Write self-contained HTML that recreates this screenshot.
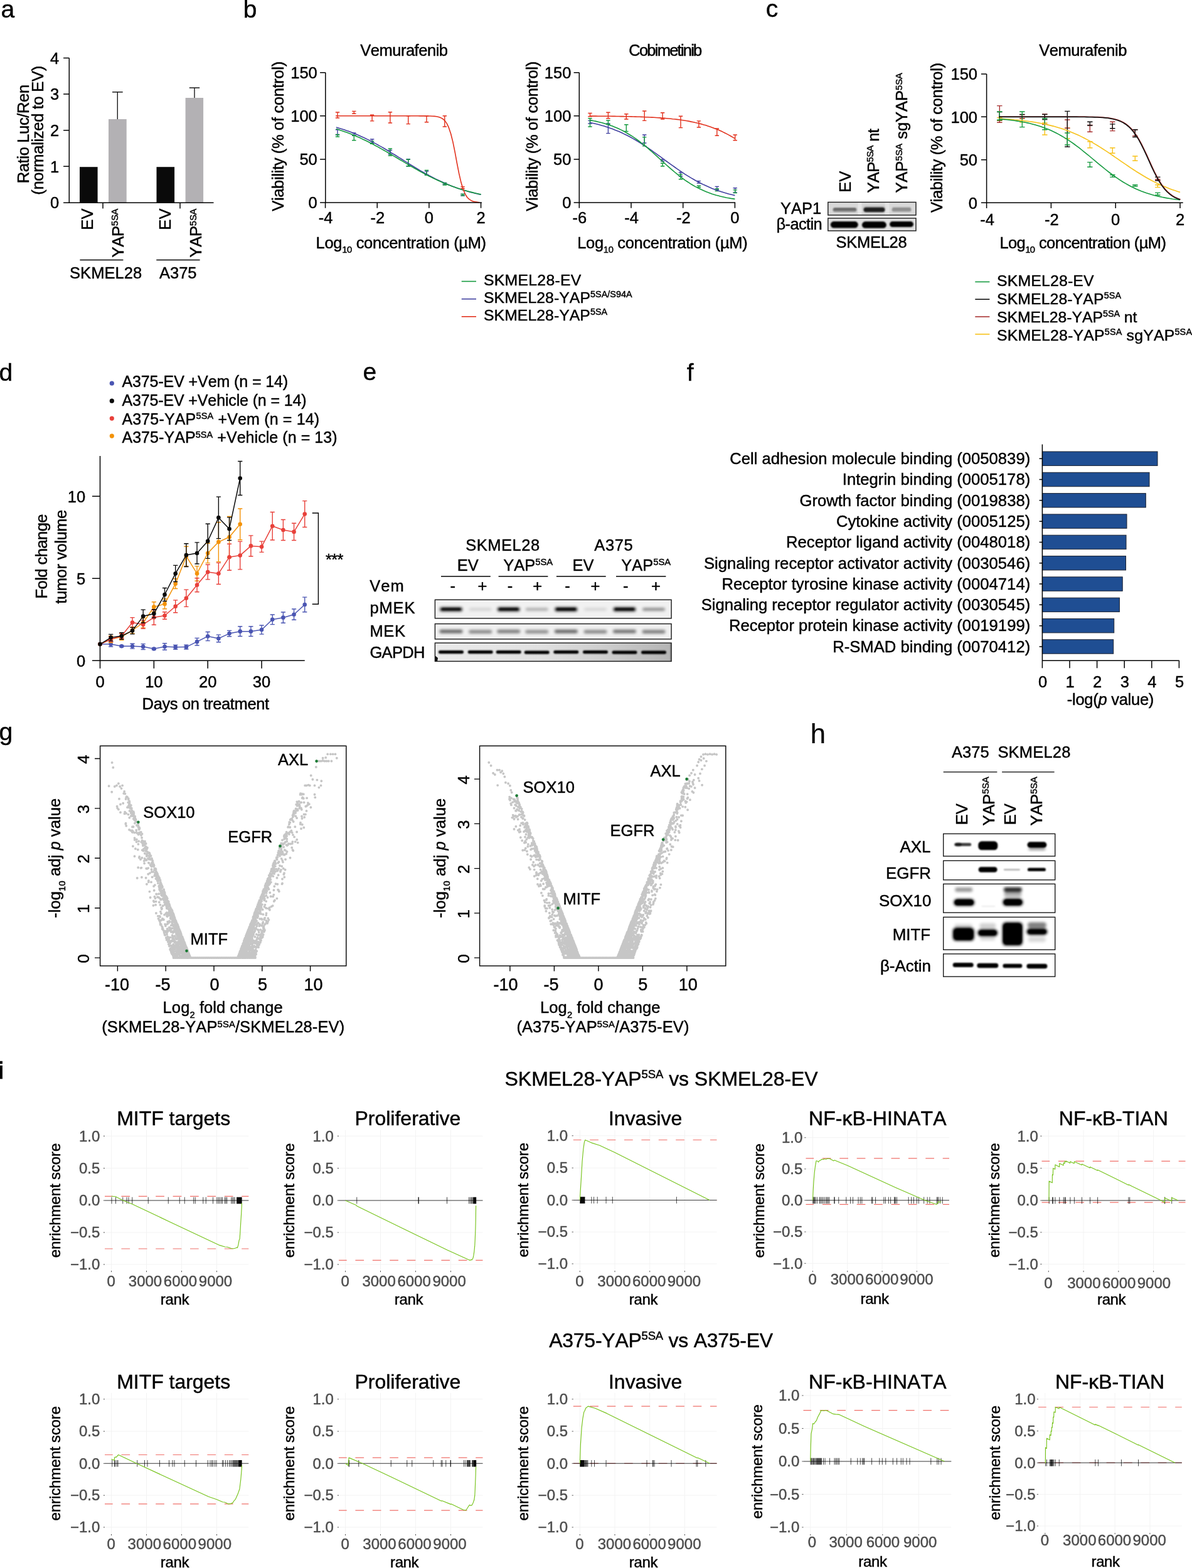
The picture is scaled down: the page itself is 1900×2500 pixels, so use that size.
<!DOCTYPE html>
<html lang="en">
<head>
<meta charset="utf-8">
<title>Figure</title>
<style>
html,body{margin:0;padding:0;background:#fff}
body{width:1900px;height:2500px;overflow:hidden}
svg{display:block;font-family:"Liberation Sans",Arial,Helvetica,sans-serif;font-size:25.5px;fill:#000;color:#000;font-kerning:none}
svg text{fill:currentColor;stroke:currentColor;stroke-width:.45px;stroke-linejoin:round}
svg path,svg line{fill:none}
</style>
</head>
<body>
<svg width="1900" height="2500" viewBox="0 0 1900 2500">
<defs>
<filter id="bl1" x="-20%" y="-60%" width="140%" height="220%"><feGaussianBlur stdDeviation="1.1"/></filter>
<filter id="bl2" x="-20%" y="-80%" width="140%" height="260%"><feGaussianBlur stdDeviation="1.9"/></filter>
<linearGradient id="gapdh" x1="0" x2="1" y1="0" y2="0"><stop offset="0" stop-color="#ebebeb"/><stop offset="0.45" stop-color="#e0e0e0"/><stop offset="0.7" stop-color="#cfcfcf"/><stop offset="1" stop-color="#b4b4b4"/></linearGradient>
</defs>
<text x="1.4" y="27.6" font-size="39" style="stroke-width:.4px">a</text>
<text x="94.3" y="101.6" text-anchor="end">4</text>
<text x="94.3" y="159.25" text-anchor="end">3</text>
<text x="94.3" y="216.9" text-anchor="end">2</text>
<text x="94.3" y="274.55" text-anchor="end">1</text>
<text x="94.3" y="332.2" text-anchor="end">0</text>
<rect x="127" y="266.2" width="28.6" height="57" fill="#0a0a0a"/>
<rect x="249.5" y="266.2" width="28.6" height="57" fill="#0a0a0a"/>
<rect x="173" y="190" width="28.7" height="133" fill="#b3b1b4"/>
<rect x="295.6" y="156" width="28.5" height="167" fill="#b3b1b4"/>
<path d="M187.3 190V146.7M179 146.7H195.7M310 156V140M301.8 140H318.2" stroke="#1a1a1a" stroke-width="1.4" fill="none"/>
<path d="M110.3 92.4V323.3M101.1 323.3H340.5M101.1 92.4h9.2M101.1 150.05h9.2M101.1 207.7h9.2M101.1 265.35h9.2M101.1 323.3h9.2M164 323.3v9.2M287 323.3v9.2" stroke="#000" stroke-width="1.5" fill="none"/>
<text transform="translate(148 332.6) rotate(-90)" text-anchor="end">EV</text>
<text transform="translate(197.2 332.6) rotate(-90)" text-anchor="end" textLength="78" lengthAdjust="spacing">YAP<tspan dy="-8.8" font-size="14.79">5SA</tspan></text>
<text transform="translate(271.6 332.6) rotate(-90)" text-anchor="end">EV</text>
<text transform="translate(321.4 332.6) rotate(-90)" text-anchor="end" textLength="78" lengthAdjust="spacing">YAP<tspan dy="-8.8" font-size="14.79">5SA</tspan></text>
<path d="M127.4 414.5H196.4M249.3 414.5H318.6" stroke="#000" stroke-width="1.3" fill="none"/>
<text x="111" y="444.3" textLength="115.2" lengthAdjust="spacing">SKMEL28</text>
<text x="254" y="444.3">A375</text>
<text transform="translate(46.2 213.6) rotate(-90)" text-anchor="middle" textLength="157.5" lengthAdjust="spacing">Ratio Luc/Ren</text>
<text transform="translate(69 207.8) rotate(-90)" text-anchor="middle" textLength="206" lengthAdjust="spacing">(normalized to EV)</text>
<text x="387.8" y="27.6" font-size="39" style="stroke-width:.4px">b</text>
<text x="574.2" y="88.8" textLength="139.8" lengthAdjust="spacing">Vemurafenib</text>
<text transform="translate(452.4 217.3) rotate(-90)" text-anchor="middle" textLength="239" lengthAdjust="spacing">Viability (% of control)</text>
<text x="505.8" y="124.9" text-anchor="end">150</text>
<text x="505.8" y="194.03" text-anchor="end">100</text>
<text x="505.8" y="263.17" text-anchor="end">50</text>
<text x="505.8" y="332.3" text-anchor="end">0</text>
<text x="519.18" y="355.7" text-anchor="middle">-4</text>
<text x="601.84" y="355.7" text-anchor="middle">-2</text>
<text x="683.9" y="355.7" text-anchor="middle">0</text>
<text x="766.56" y="355.7" text-anchor="middle">2</text>
<text x="503.6" y="395.7" textLength="271.5" lengthAdjust="spacing">Log<tspan dy="7.65" font-size="14.79">10</tspan><tspan dy="-7.65"> concentration (µM)</tspan></text>
<path d="M538 206.7V215M534.8 206.7h6.4M534.8 215h6.4M564.3 212V216.2M561.1 212h6.4M561.1 216.2h6.4M593.1 222V228M589.9 222h6.4M589.9 228h6.4M621.9 239.5V246M618.7 239.5h6.4M618.7 246h6.4M650.7 253.8V265M647.5 253.8h6.4M647.5 265h6.4M680 273V279M676.8 273h6.4M676.8 279h6.4M708.8 291.5V294M705.6 291.5h6.4M705.6 294h6.4M737.6 309.5V312M734.4 309.5h6.4M734.4 312h6.4" stroke="#3f3f9f" stroke-width="1.4" fill="none"/>
<path d="M538 214.5V218M534.8 214.5h6.4M534.8 218h6.4M564.3 215.7V223.8M561.1 215.7h6.4M561.1 223.8h6.4M593.1 225.2V229.3M589.9 225.2h6.4M589.9 229.3h6.4M621.9 237V248.3M618.7 237h6.4M618.7 248.3h6.4M650.7 254.3V265M647.5 254.3h6.4M647.5 265h6.4M680 271.4V279M676.8 271.4h6.4M676.8 279h6.4M708.8 291.7V295M705.6 291.7h6.4M705.6 295h6.4M737.6 309.5V311.9M734.4 309.5h6.4M734.4 311.9h6.4" stroke="#149a3e" stroke-width="1.4" fill="none"/>
<path d="M538 179V188M534.8 179h6.4M534.8 188h6.4M564.3 177.4V181.2M561.1 177.4h6.4M561.1 181.2h6.4M593.1 183.3V192.9M589.9 183.3h6.4M589.9 192.9h6.4M621.9 178.8V196M618.7 178.8h6.4M618.7 196h6.4M650.7 184.8V197.6M647.5 184.8h6.4M647.5 197.6h6.4M680 184.8V194.8M676.8 184.8h6.4M676.8 194.8h6.4M708.8 184.8V202M705.6 184.8h6.4M705.6 202h6.4M737.6 297.6V300.5M734.4 297.6h6.4M734.4 300.5h6.4" stroke="#e2311d" stroke-width="1.4" fill="none"/>
<path d="M535.9 202.9L539.2 203.9L542.5 204.9L545.8 205.9L549.1 207L552.4 208.2L555.7 209.3L559 210.6L562.3 211.8L565.6 213.2L568.9 214.5L572.2 215.9L575.5 217.4L578.8 218.9L582.1 220.5L585.4 222.1L588.7 223.7L591.9 225.4L595.2 227.1L598.5 228.9L601.8 230.7L605.1 232.6L608.4 234.4L611.7 236.3L615 238.3L618.3 240.3L621.6 242.2L624.9 244.3L628.2 246.3L631.5 248.3L634.8 250.4L638.1 252.4L641.4 254.5L644.7 256.6L648 258.6L651.2 260.7L654.5 262.7L657.8 264.7L661.1 266.7L664.4 268.7L667.7 270.7L671 272.6L674.3 274.5L677.6 276.4L680.9 278.2L684.2 280L687.5 281.7L690.8 283.4L694.1 285.1L697.4 286.7L700.7 288.3L704 289.8L707.3 291.3L710.6 292.7L713.8 294.1L717.1 295.5L720.4 296.8L723.7 298L727 299.2L730.3 300.4L733.6 301.5L736.9 302.6L740.2 303.6L743.5 304.6L746.8 305.5L750.1 306.4L753.4 307.2L756.7 308.1L760 308.8L763.3 309.6L766.6 310.3" stroke="#3f3f9f" stroke-width="1.6" fill="none" stroke-linejoin="round"/>
<path d="M535.9 205.6L539.2 206.6L542.5 207.7L545.8 208.8L549.1 209.9L552.4 211.1L555.7 212.3L559 213.6L562.3 214.9L565.6 216.3L568.9 217.7L572.2 219.1L575.5 220.6L578.8 222.2L582.1 223.7L585.4 225.3L588.7 227L591.9 228.7L595.2 230.4L598.5 232.2L601.8 233.9L605.1 235.8L608.4 237.6L611.7 239.5L615 241.4L618.3 243.3L621.6 245.2L624.9 247.1L628.2 249.1L631.5 251L634.8 253L638.1 255L641.4 256.9L644.7 258.9L648 260.9L651.2 262.8L654.5 264.7L657.8 266.6L661.1 268.5L664.4 270.4L667.7 272.2L671 274.1L674.3 275.8L677.6 277.6L680.9 279.3L684.2 281L687.5 282.6L690.8 284.3L694.1 285.8L697.4 287.4L700.7 288.8L704 290.3L707.3 291.7L710.6 293L713.8 294.4L717.1 295.6L720.4 296.9L723.7 298.1L727 299.2L730.3 300.3L733.6 301.4L736.9 302.4L740.2 303.4L743.5 304.3L746.8 305.2L750.1 306.1L753.4 306.9L756.7 307.7L760 308.5L763.3 309.2L766.6 309.9" stroke="#149a3e" stroke-width="1.6" fill="none" stroke-linejoin="round"/>
<path d="M535.1 184.8L538.4 184.8L541.7 184.8L544.9 184.8L548.2 184.8L551.5 184.8L554.8 184.8L558.1 184.8L561.3 184.8L564.6 184.8L567.9 184.8L571.2 184.8L574.4 184.8L577.7 184.8L581 184.8L584.3 184.8L587.5 184.8L590.8 184.8L594.1 184.8L597.4 184.8L600.6 184.8L603.9 184.8L607.2 184.8L610.5 184.8L613.8 184.8L617 184.8L620.3 184.8L623.6 184.8L626.9 184.8L630.1 184.8L633.4 184.8L636.7 184.8L640 184.8L643.2 184.8L646.5 184.8L649.8 184.8L653.1 184.8L656.4 184.8L659.6 184.8L662.9 184.8L666.2 184.8L669.5 184.9L672.7 184.9L676 184.9L679.3 184.9L682.6 185L685.8 185L689.1 185.2L692.4 185.4L695.7 185.8L699 186.5L702.2 187.6L705.5 189.3L708.8 192.1L712.1 196.6L715.3 203.4L718.6 213.2L721.9 226.4L725.2 242.6L728.4 260.2L731.7 276.9L735 291.1L738.3 302L741.6 309.6L744.8 314.7L748.1 317.9L751.4 319.9L754.7 321.2L757.9 321.9L761.2 322.4L764.5 322.7" stroke="#e2311d" stroke-width="1.6" fill="none" stroke-linejoin="round"/>
<path d="M518.8 115.7V323.1M510.1 323.1H767.9M510.1 115.7h8.7M510.1 184.83h8.7M510.1 253.97h8.7M510.1 323.1h8.7M518.58 323.1v8.7M601.24 323.1v8.7M683.9 323.1v8.7M766.56 323.1v8.7" stroke="#000" stroke-width="1.5" fill="none"/>
<text x="1002.3" y="88.8" textLength="117" lengthAdjust="spacing">Cobimetinib</text>
<text transform="translate(856.7 217.3) rotate(-90)" text-anchor="middle" textLength="239" lengthAdjust="spacing">Viability (% of control)</text>
<text x="910.4" y="124.9" text-anchor="end">150</text>
<text x="910.4" y="194.03" text-anchor="end">100</text>
<text x="910.4" y="263.17" text-anchor="end">50</text>
<text x="910.4" y="332.3" text-anchor="end">0</text>
<text x="923.9" y="355.7" text-anchor="middle">-6</text>
<text x="1006.6" y="355.7" text-anchor="middle">-4</text>
<text x="1089.3" y="355.7" text-anchor="middle">-2</text>
<text x="1171.4" y="355.7" text-anchor="middle">0</text>
<text x="920.2" y="395.7" textLength="271.5" lengthAdjust="spacing">Log<tspan dy="7.65" font-size="14.79">10</tspan><tspan dy="-7.65"> concentration (µM)</tspan></text>
<path d="M940.5 192.4V197M937.3 192.4h6.4M937.3 197h6.4M969.4 197V212.6M966.2 197h6.4M966.2 212.6h6.4M1027.2 215V228M1024 215h6.4M1024 228h6.4M1056.1 254.3V257M1052.9 254.3h6.4M1052.9 257h6.4M1085 274.8V281M1081.8 274.8h6.4M1081.8 281h6.4M1113.9 288.6V292M1110.7 288.6h6.4M1110.7 292h6.4M1142.8 297.4V302.4M1139.6 297.4h6.4M1139.6 302.4h6.4M1171.7 299.8V307M1168.5 299.8h6.4M1168.5 307h6.4" stroke="#3f3f9f" stroke-width="1.4" fill="none"/>
<path d="M940.5 188.8V202M937.3 188.8h6.4M937.3 202h6.4M969.4 192V198.3M966.2 192h6.4M966.2 198.3h6.4M998.3 198.8V209.5M995.1 198.8h6.4M995.1 209.5h6.4M1027.2 218.6V232.9M1024 218.6h6.4M1024 232.9h6.4M1056.1 260.2V265M1052.9 260.2h6.4M1052.9 265h6.4M1085 277.9V285.7M1081.8 277.9h6.4M1081.8 285.7h6.4M1113.9 296.2V298.8M1110.7 296.2h6.4M1110.7 298.8h6.4M1142.8 301V304.5M1139.6 301h6.4M1139.6 304.5h6.4M1171.7 302.9V307.6M1168.5 302.9h6.4M1168.5 307.6h6.4" stroke="#149a3e" stroke-width="1.4" fill="none"/>
<path d="M940.5 180.5V185.7M937.3 180.5h6.4M937.3 185.7h6.4M969.4 179.3V188.8M966.2 179.3h6.4M966.2 188.8h6.4M998.3 181.7V190M995.1 181.7h6.4M995.1 190h6.4M1027.2 177V192.4M1024 177h6.4M1024 192.4h6.4M1056.1 179.8V190M1052.9 179.8h6.4M1052.9 190h6.4M1085 185.2V203.6M1081.8 185.2h6.4M1081.8 203.6h6.4M1113.9 192.9V203M1110.7 192.9h6.4M1110.7 203h6.4M1142.8 205V216.2M1139.6 205h6.4M1139.6 216.2h6.4M1171.7 215V223.8M1168.5 215h6.4M1168.5 223.8h6.4" stroke="#e2311d" stroke-width="1.4" fill="none"/>
<path d="M939.8 195.3L943.1 196L946.5 196.7L949.8 197.5L953.1 198.3L956.4 199.2L959.7 200.2L963 201.1L966.3 202.2L969.6 203.3L972.9 204.4L976.2 205.6L979.5 206.9L982.8 208.2L986.2 209.6L989.5 211.1L992.8 212.6L996.1 214.2L999.4 215.8L1002.7 217.5L1006 219.3L1009.3 221.1L1012.6 223L1015.9 225L1019.2 227L1022.5 229.1L1025.8 231.3L1029.2 233.4L1032.5 235.7L1035.8 237.9L1039.1 240.2L1042.4 242.6L1045.7 244.9L1049 247.3L1052.3 249.7L1055.6 252.2L1058.9 254.6L1062.2 257L1065.5 259.4L1068.9 261.8L1072.2 264.2L1075.5 266.5L1078.8 268.9L1082.1 271.1L1085.4 273.4L1088.7 275.6L1092 277.8L1095.3 279.9L1098.6 281.9L1101.9 283.9L1105.2 285.8L1108.5 287.7L1111.9 289.5L1115.2 291.3L1118.5 293L1121.8 294.6L1125.1 296.1L1128.4 297.6L1131.7 299L1135 300.4L1138.3 301.7L1141.6 302.9L1144.9 304.1L1148.2 305.2L1151.6 306.3L1154.9 307.3L1158.2 308.2L1161.5 309.2L1164.8 310L1168.1 310.8L1171.4 311.6" stroke="#3f3f9f" stroke-width="1.6" fill="none" stroke-linejoin="round"/>
<path d="M939.8 191.5L943.1 192.1L946.5 192.8L949.8 193.4L953.1 194.2L956.4 195L959.7 195.8L963 196.7L966.3 197.7L969.6 198.8L972.9 199.9L976.2 201.1L979.5 202.4L982.8 203.8L986.2 205.3L989.5 206.9L992.8 208.5L996.1 210.3L999.4 212.2L1002.7 214.2L1006 216.2L1009.3 218.4L1012.6 220.7L1015.9 223L1019.2 225.5L1022.5 228.1L1025.8 230.7L1029.2 233.4L1032.5 236.2L1035.8 239.1L1039.1 242L1042.4 244.9L1045.7 247.9L1049 250.9L1052.3 254L1055.6 257L1058.9 260L1062.2 263L1065.5 265.9L1068.9 268.9L1072.2 271.7L1075.5 274.5L1078.8 277.2L1082.1 279.9L1085.4 282.4L1088.7 284.9L1092 287.3L1095.3 289.5L1098.6 291.7L1101.9 293.8L1105.2 295.7L1108.5 297.6L1111.9 299.4L1115.2 301.1L1118.5 302.6L1121.8 304.1L1125.1 305.5L1128.4 306.8L1131.7 308L1135 309.2L1138.3 310.2L1141.6 311.2L1144.9 312.1L1148.2 313L1151.6 313.8L1154.9 314.5L1158.2 315.2L1161.5 315.8L1164.8 316.4L1168.1 316.9L1171.4 317.4" stroke="#149a3e" stroke-width="1.6" fill="none" stroke-linejoin="round"/>
<path d="M939.8 185.1L943.1 185.1L946.5 185.1L949.8 185.1L953.1 185.2L956.4 185.2L959.7 185.2L963 185.2L966.3 185.3L969.6 185.3L972.9 185.3L976.2 185.4L979.5 185.4L982.8 185.5L986.2 185.5L989.5 185.6L992.8 185.6L996.1 185.7L999.4 185.8L1002.7 185.8L1006 185.9L1009.3 186L1012.6 186.1L1015.9 186.2L1019.2 186.3L1022.5 186.4L1025.8 186.5L1029.2 186.7L1032.5 186.8L1035.8 187L1039.1 187.1L1042.4 187.3L1045.7 187.5L1049 187.7L1052.3 187.9L1055.6 188.2L1058.9 188.4L1062.2 188.7L1065.5 189L1068.9 189.3L1072.2 189.7L1075.5 190L1078.8 190.4L1082.1 190.8L1085.4 191.3L1088.7 191.8L1092 192.3L1095.3 192.8L1098.6 193.4L1101.9 194.1L1105.2 194.7L1108.5 195.5L1111.9 196.2L1115.2 197.1L1118.5 197.9L1121.8 198.9L1125.1 199.8L1128.4 200.9L1131.7 202L1135 203.2L1138.3 204.4L1141.6 205.7L1144.9 207.1L1148.2 208.6L1151.6 210.1L1154.9 211.7L1158.2 213.4L1161.5 215.1L1164.8 217L1168.1 218.9L1171.4 220.8" stroke="#e2311d" stroke-width="1.6" fill="none" stroke-linejoin="round"/>
<path d="M923.3 115.7V323.1M914.6 323.1H1172.2M914.6 115.7h8.7M914.6 184.83h8.7M914.6 253.97h8.7M914.6 323.1h8.7M923.3 323.1v8.7M1006 323.1v8.7M1088.7 323.1v8.7M1171.4 323.1v8.7" stroke="#000" stroke-width="1.5" fill="none"/>
<line x1="735.7" y1="448.6" x2="759" y2="448.6" stroke="#149a3e" stroke-width="1.6"/>
<text x="771" y="454.9" font-size="24.8" textLength="155.3" lengthAdjust="spacing">SKMEL28-EV</text>
<line x1="735.7" y1="476.7" x2="759" y2="476.7" stroke="#3f3f9f" stroke-width="1.6"/>
<text x="771" y="482.95" font-size="24.8" textLength="236.6" lengthAdjust="spacing">SKMEL28-YAP<tspan dy="-8.56" font-size="14.38">5SA/S94A</tspan></text>
<line x1="735.7" y1="504.8" x2="759" y2="504.8" stroke="#e2311d" stroke-width="1.6"/>
<text x="771" y="511" font-size="24.8" textLength="197.2" lengthAdjust="spacing">SKMEL28-YAP<tspan dy="-8.56" font-size="14.38">5SA</tspan></text>
<text x="1220.7" y="27.3" font-size="39" style="stroke-width:.4px">c</text>
<text transform="translate(1356 306.8) rotate(-90)">EV</text>
<text transform="translate(1401.2 307.6) rotate(-90)" textLength="102.5" lengthAdjust="spacing">YAP<tspan dy="-8.8" font-size="14.79">5SA</tspan><tspan dy="8.8"> nt</tspan></text>
<text transform="translate(1446.4 307.6) rotate(-90)" textLength="191.5" lengthAdjust="spacing">YAP<tspan dy="-8.8" font-size="14.79">5SA</tspan><tspan dy="8.8"> sgYAP</tspan><tspan dy="-8.8" font-size="14.79">5SA</tspan></text>
<text x="1309.3" y="341.3" text-anchor="end">YAP1</text>
<text x="1310.6" y="365.8" text-anchor="end" textLength="73" lengthAdjust="spacing">β-actin</text>
<text x="1332.6" y="395" textLength="113" lengthAdjust="spacing">SKMEL28</text>
<clipPath id="cp1"><rect x="1319.8" y="322.4" width="140.2" height="20.6"/></clipPath>
<rect x="1319.8" y="322.4" width="140.2" height="20.6" fill="#d9d9d9"/>
<g clip-path="url(#cp1)">
<rect x="1367.5" y="322" width="6" height="22" fill="#e6e6e6"/><rect x="1410.5" y="322" width="7" height="22" fill="#e4e4e4"/>
<g filter="url(#bl1)"><rect x="1327.5" y="331.25" width="38" height="6.5" rx="3.25" ry="3.25" opacity="0.42"/><rect x="1328.5" y="331.5" width="36" height="3" rx="1.5" ry="1.5" opacity="0.25"/><rect x="1376.5" y="330.75" width="34" height="7.5" rx="3.75" ry="3.75" opacity="0.85"/><rect x="1421.5" y="331.5" width="31" height="6" rx="3" ry="3" opacity="0.33"/><rect x="1422" y="330" width="30" height="3" rx="1.5" ry="1.5" opacity="0.15"/></g>
<g filter="url(#bl2)"><rect x="1376.5" y="330" width="34" height="4" rx="2" ry="2" opacity="0.3"/></g>
</g>
<rect x="1319.8" y="322.4" width="140.2" height="20.6" fill="none" stroke="#1a1a1a" stroke-width="1.4"/>
<clipPath id="cp2"><rect x="1319.8" y="347.9" width="140.2" height="20.1"/></clipPath>
<rect x="1319.8" y="347.9" width="140.2" height="20.1" fill="#e2e2e2"/>
<g clip-path="url(#cp2)">
<g filter="url(#bl1)"><rect x="1323.8" y="352.95" width="44" height="10.5" rx="5.25" ry="5.25" opacity="1"/><rect x="1325.8" y="353" width="40" height="8" rx="4" ry="4" opacity="1"/><rect x="1373.9" y="353.35" width="39" height="10.5" rx="5.25" ry="5.25" opacity="1"/><rect x="1375.4" y="353.5" width="36" height="8" rx="4" ry="4" opacity="1"/><rect x="1418" y="353.1" width="38" height="9" rx="4.5" ry="4.5" opacity="1"/><rect x="1420" y="353.5" width="34" height="7" rx="3.5" ry="3.5" opacity="1"/></g>
</g>
<rect x="1319.8" y="347.9" width="140.2" height="20.1" fill="none" stroke="#1a1a1a" stroke-width="1.4"/>
<text x="1656.2" y="88.8" textLength="140.2" lengthAdjust="spacing">Vemurafenib</text>
<text transform="translate(1502.3 219.5) rotate(-90)" text-anchor="middle" textLength="239" lengthAdjust="spacing">Viability (% of control)</text>
<text x="1558" y="127.1" text-anchor="end">150</text>
<text x="1558" y="195.57" text-anchor="end">100</text>
<text x="1558" y="264.03" text-anchor="end">50</text>
<text x="1558" y="332.5" text-anchor="end">0</text>
<text x="1573.5" y="359.2" text-anchor="middle">-4</text>
<text x="1676.3" y="359.2" text-anchor="middle">-2</text>
<text x="1778.2" y="359.2" text-anchor="middle">0</text>
<text x="1881" y="359.2" text-anchor="middle">2</text>
<text x="1593.4" y="395.5" textLength="265.5" lengthAdjust="spacing">Log<tspan dy="7.65" font-size="14.79">10</tspan><tspan dy="-7.65"> concentration (µM)</tspan></text>
<path d="M1593.3 187.6V192.4M1589.1 187.6h8.4M1589.1 192.4h8.4M1629.3 188.8V194.8M1625.1 188.8h8.4M1625.1 194.8h8.4M1665.3 196V215M1661.1 196h8.4M1661.1 215h8.4M1701.3 204.3V221M1697.1 204.3h8.4M1697.1 221h8.4M1737.3 225.7V235.7M1733.1 225.7h8.4M1733.1 235.7h8.4M1773.3 235.7V244.3M1769.1 235.7h8.4M1769.1 244.3h8.4M1809.3 249V256.2M1805.1 249h8.4M1805.1 256.2h8.4M1845.3 294.8V298.6M1841.1 294.8h8.4M1841.1 298.6h8.4" stroke="#f7c21a" stroke-width="1.4" fill="none"/>
<path d="M1593.3 168.6V195.2M1589.1 168.6h8.4M1589.1 195.2h8.4M1629.3 182.9V188.8M1625.1 182.9h8.4M1625.1 188.8h8.4M1665.3 182V198.3M1661.1 182h8.4M1661.1 198.3h8.4M1701.3 191V204.3M1697.1 191h8.4M1697.1 204.3h8.4M1737.3 199.5V210.2M1733.1 199.5h8.4M1733.1 210.2h8.4M1773.3 194.3V208.6M1769.1 194.3h8.4M1769.1 208.6h8.4M1809.3 206.7V216.7M1805.1 206.7h8.4M1805.1 216.7h8.4M1845.3 286V287.9M1841.1 286h8.4M1841.1 287.9h8.4" stroke="#a83232" stroke-width="1.4" fill="none"/>
<path d="M1593.3 178.6V191.7M1589.1 178.6h8.4M1589.1 191.7h8.4M1629.3 182.4V186.4M1625.1 182.4h8.4M1625.1 186.4h8.4M1665.3 182.4V190.5M1661.1 182.4h8.4M1661.1 190.5h8.4M1701.3 177.4V234M1697.1 177.4h8.4M1697.1 234h8.4M1737.3 194.3V200M1733.1 194.3h8.4M1733.1 200h8.4M1773.3 197.9V204.8M1769.1 197.9h8.4M1769.1 204.8h8.4M1809.3 206.7V218.6M1805.1 206.7h8.4M1805.1 218.6h8.4M1845.3 282.4V287.9M1841.1 282.4h8.4M1841.1 287.9h8.4" stroke="#111" stroke-width="1.4" fill="none"/>
<path d="M1593.3 178V191.2M1589.1 178h8.4M1589.1 191.2h8.4M1629.3 178V202.6M1625.1 178h8.4M1625.1 202.6h8.4M1665.3 188.8V206.7M1661.1 188.8h8.4M1661.1 206.7h8.4M1701.3 212V231M1697.1 212h8.4M1697.1 231h8.4M1737.3 258.6V266.2M1733.1 258.6h8.4M1733.1 266.2h8.4M1773.3 278.8V282.4M1769.1 278.8h8.4M1769.1 282.4h8.4M1809.3 294.8V297M1805.1 294.8h8.4M1805.1 297h8.4M1845.3 307.4V311M1841.1 307.4h8.4M1841.1 311h8.4" stroke="#149a3e" stroke-width="1.4" fill="none"/>
<path d="M1592.1 189.2L1596.3 189.4L1600.4 189.7L1604.5 190L1608.6 190.3L1612.8 190.6L1616.9 191L1621 191.3L1625.1 191.8L1629.3 192.2L1633.4 192.7L1637.5 193.2L1641.7 193.8L1645.8 194.4L1649.9 195L1654 195.7L1658.2 196.5L1662.3 197.3L1666.4 198.2L1670.5 199.1L1674.7 200.1L1678.8 201.1L1682.9 202.3L1687 203.5L1691.2 204.8L1695.3 206.1L1699.4 207.6L1703.6 209.1L1707.7 210.7L1711.8 212.4L1715.9 214.2L1720.1 216.1L1724.2 218.1L1728.3 220.2L1732.4 222.4L1736.6 224.6L1740.7 226.9L1744.8 229.4L1748.9 231.8L1753.1 234.4L1757.2 237L1761.3 239.7L1765.5 242.4L1769.6 245.2L1773.7 248L1777.8 250.9L1782 253.7L1786.1 256.6L1790.2 259.4L1794.3 262.2L1798.5 265L1802.6 267.8L1806.7 270.5L1810.8 273.2L1815 275.8L1819.1 278.3L1823.2 280.8L1827.4 283.2L1831.5 285.5L1835.6 287.8L1839.7 289.9L1843.9 292L1848 293.9L1852.1 295.8L1856.2 297.6L1860.4 299.3L1864.5 300.9L1868.6 302.4L1872.7 303.8L1876.9 305.2L1881 306.4" stroke="#f7c21a" stroke-width="1.6" fill="none" stroke-linejoin="round"/>
<path d="M1592.1 189.7L1596.3 190L1600.4 190.4L1604.5 190.8L1608.6 191.2L1612.8 191.7L1616.9 192.3L1621 192.9L1625.1 193.5L1629.3 194.3L1633.4 195L1637.5 195.9L1641.7 196.8L1645.8 197.9L1649.9 199L1654 200.2L1658.2 201.5L1662.3 202.9L1666.4 204.4L1670.5 206L1674.7 207.8L1678.8 209.7L1682.9 211.7L1687 213.9L1691.2 216.2L1695.3 218.6L1699.4 221.1L1703.6 223.8L1707.7 226.6L1711.8 229.5L1715.9 232.6L1720.1 235.7L1724.2 239L1728.3 242.3L1732.4 245.6L1736.6 249L1740.7 252.5L1744.8 255.9L1748.9 259.4L1753.1 262.8L1757.2 266.2L1761.3 269.5L1765.5 272.8L1769.6 276L1773.7 279L1777.8 282L1782 284.9L1786.1 287.6L1790.2 290.2L1794.3 292.6L1798.5 295L1802.6 297.2L1806.7 299.2L1810.8 301.2L1815 303L1819.1 304.7L1823.2 306.2L1827.4 307.7L1831.5 309L1835.6 310.3L1839.7 311.4L1843.9 312.5L1848 313.4L1852.1 314.3L1856.2 315.1L1860.4 315.9L1864.5 316.5L1868.6 317.2L1872.7 317.7L1876.9 318.2L1881 318.7" stroke="#149a3e" stroke-width="1.6" fill="none" stroke-linejoin="round"/>
<path d="M1592.7 186L1596.9 186L1601 186L1605.1 186L1609.2 186L1613.4 186L1617.5 186L1621.6 186L1625.7 186L1629.9 186L1634 186L1638.1 186L1642.3 186L1646.4 186L1650.5 186L1654.6 186L1658.8 186L1662.9 186L1667 186L1671.1 186L1675.3 186L1679.4 186L1683.5 186L1687.6 186L1691.8 186L1695.9 186L1700 186L1704.2 186L1708.3 186L1712.4 186L1716.5 186L1720.7 186.1L1724.8 186.1L1728.9 186.1L1733 186.2L1737.2 186.3L1741.3 186.4L1745.4 186.5L1749.5 186.6L1753.7 186.8L1757.8 187.1L1761.9 187.5L1766.1 187.9L1770.2 188.5L1774.3 189.3L1778.4 190.3L1782.6 191.5L1786.7 193.2L1790.8 195.2L1794.9 197.8L1799.1 201.1L1803.2 205L1807.3 209.9L1811.4 215.6L1815.6 222.3L1819.7 229.9L1823.8 238.3L1828 247.2L1832.1 256.3L1836.2 265.4L1840.3 274.1L1844.5 282.2L1848.6 289.4L1852.7 295.7L1856.8 301.1L1861 305.6L1865.1 309.2L1869.2 312.2L1873.3 314.6L1877.5 316.4L1881.6 317.9" stroke="#a83232" stroke-width="1.6" fill="none" stroke-linejoin="round"/>
<path d="M1592.1 186.4L1596.3 186.4L1600.4 186.4L1604.5 186.4L1608.6 186.4L1612.8 186.4L1616.9 186.4L1621 186.4L1625.1 186.4L1629.3 186.4L1633.4 186.4L1637.5 186.4L1641.7 186.4L1645.8 186.4L1649.9 186.4L1654 186.4L1658.2 186.4L1662.3 186.4L1666.4 186.4L1670.5 186.4L1674.7 186.4L1678.8 186.4L1682.9 186.4L1687 186.4L1691.2 186.4L1695.3 186.4L1699.4 186.4L1703.6 186.4L1707.7 186.4L1711.8 186.4L1715.9 186.4L1720.1 186.5L1724.2 186.5L1728.3 186.5L1732.4 186.6L1736.6 186.7L1740.7 186.8L1744.8 186.9L1748.9 187L1753.1 187.2L1757.2 187.5L1761.3 187.9L1765.5 188.3L1769.6 188.9L1773.7 189.7L1777.8 190.7L1782 191.9L1786.1 193.6L1790.2 195.6L1794.3 198.2L1798.5 201.5L1802.6 205.4L1806.7 210.3L1810.8 216L1815 222.7L1819.1 230.3L1823.2 238.7L1827.4 247.6L1831.5 256.7L1835.6 265.8L1839.7 274.5L1843.9 282.6L1848 289.8L1852.1 296.1L1856.2 301.5L1860.4 306L1864.5 309.6L1868.6 312.6L1872.7 315L1876.9 316.8L1881 318.3" stroke="#111" stroke-width="1.6" fill="none" stroke-linejoin="round"/>
<path d="M1572.6 117.9V323.3M1563.9 323.3H1885.7M1563.9 117.9h8.7M1563.9 186.37h8.7M1563.9 254.83h8.7M1563.9 323.3h8.7M1572.6 323.3v8.7M1675.4 323.3v8.7M1778.2 323.3v8.7M1881 323.3v8.7" stroke="#000" stroke-width="1.5" fill="none"/>
<line x1="1554.3" y1="449.4" x2="1577.4" y2="449.4" stroke="#149a3e" stroke-width="1.6"/>
<text x="1589" y="455.7" font-size="24.8" textLength="154.6" lengthAdjust="spacing">SKMEL28-EV</text>
<line x1="1554.3" y1="477.2" x2="1577.4" y2="477.2" stroke="#111" stroke-width="1.6"/>
<text x="1589" y="484.75" font-size="24.8" textLength="198" lengthAdjust="spacing">SKMEL28-YAP<tspan dy="-8.56" font-size="14.38">5SA</tspan></text>
<line x1="1554.3" y1="505" x2="1577.4" y2="505" stroke="#a83232" stroke-width="1.6"/>
<text x="1589" y="513.8" font-size="24.8" textLength="223.5" lengthAdjust="spacing">SKMEL28-YAP<tspan dy="-8.56" font-size="14.38">5SA</tspan><tspan dy="8.56"> nt</tspan></text>
<line x1="1554.3" y1="532.8" x2="1577.4" y2="532.8" stroke="#f7c21a" stroke-width="1.6"/>
<text x="1589" y="542.85" font-size="24.8" textLength="311" lengthAdjust="spacing">SKMEL28-YAP<tspan dy="-8.56" font-size="14.38">5SA</tspan><tspan dy="8.56"> sgYAP</tspan><tspan dy="-8.56" font-size="14.38">5SA</tspan></text>
<text x="-1.6" y="606.8" font-size="39" style="stroke-width:.4px">d</text>
<circle cx="178.3" cy="611.2" r="3.6" fill="#4a55b2"/>
<text x="194.4" y="616.9" font-size="25" textLength="264.8" lengthAdjust="spacing">A375-EV +Vem (n = 14)</text>
<circle cx="178.3" cy="639.15" r="3.6" fill="#0a0a0a"/>
<text x="194.4" y="646.7" font-size="25" textLength="294.2" lengthAdjust="spacing">A375-EV +Vehicle (n = 14)</text>
<circle cx="178.3" cy="667.1" r="3.6" fill="#e8403a"/>
<text x="194.4" y="676.5" font-size="25" textLength="314.8" lengthAdjust="spacing">A375-YAP<tspan dy="-8.62" font-size="14.5">5SA</tspan><tspan dy="8.62"> +Vem (n = 14)</tspan></text>
<circle cx="178.3" cy="695.05" r="3.6" fill="#f39208"/>
<text x="194.4" y="706.3" font-size="25" textLength="343.2" lengthAdjust="spacing">A375-YAP<tspan dy="-8.62" font-size="14.5">5SA</tspan><tspan dy="8.62"> +Vehicle (n = 13)</tspan></text>
<text transform="translate(75 887) rotate(-90)" text-anchor="middle" textLength="135" lengthAdjust="spacing">Fold change</text>
<text transform="translate(105.5 887.7) rotate(-90)" text-anchor="middle" textLength="150" lengthAdjust="spacing">tumor volume</text>
<text x="136.2" y="1062.5" text-anchor="end">0</text>
<text x="136.2" y="931.5" text-anchor="end">5</text>
<text x="136.2" y="800.5" text-anchor="end">10</text>
<text x="159.5" y="1095.7" text-anchor="middle">0</text>
<text x="245.35" y="1095.7" text-anchor="middle">10</text>
<text x="331.2" y="1095.7" text-anchor="middle">20</text>
<text x="417.05" y="1095.7" text-anchor="middle">30</text>
<text x="226.6" y="1131.2" textLength="202.5" lengthAdjust="spacing">Days on treatment</text>
<path d="M497.7 818H507.4V963.3H497.7" stroke="#000" stroke-width="1.4" fill="none"/>
<text x="519" y="900.5" textLength="28.5" lengthAdjust="spacing">***</text>
<path d="M176.67 1023.17V1031.03M173.07 1023.17h7.2M173.07 1031.03h7.2M193.84 1028.93V1031.55M190.24 1028.93h7.2M190.24 1031.55h7.2M211.01 1026.31V1034.17M207.41 1026.31h7.2M207.41 1034.17h7.2M228.18 1026.58V1035.48M224.58 1026.58h7.2M224.58 1035.48h7.2M245.35 1033.13V1035.75M241.75 1033.13h7.2M241.75 1035.75h7.2M262.52 1025.79V1036.27M258.92 1025.79h7.2M258.92 1036.27h7.2M279.69 1028.41V1035.22M276.09 1028.41h7.2M276.09 1035.22h7.2M296.86 1028.15V1034.96M293.26 1028.15h7.2M293.26 1034.96h7.2M314.03 1017.41V1028.93M310.43 1017.41h7.2M310.43 1028.93h7.2M331.2 1007.45V1021.6M327.6 1007.45h7.2M327.6 1021.6h7.2M348.37 1012.17V1023.69M344.77 1012.17h7.2M344.77 1023.69h7.2M365.54 1005.35V1014.79M361.94 1005.35h7.2M361.94 1014.79h7.2M382.71 998.8V1014.52M379.11 998.8h7.2M379.11 1014.52h7.2M399.88 998.8V1014.52M396.28 998.8h7.2M396.28 1014.52h7.2M417.05 996.97V1011.12M413.45 996.97h7.2M413.45 1011.12h7.2M434.22 979.94V995.66M430.62 979.94h7.2M430.62 995.66h7.2M451.39 976.01V993.3M447.79 976.01h7.2M447.79 993.3h7.2M468.56 971.03V988.32M464.96 971.03h7.2M464.96 988.32h7.2M485.73 952.17V975.75M482.13 952.17h7.2M482.13 975.75h7.2" stroke="#4a55b2" stroke-width="1.4" fill="none"/>
<path d="M159.5 1027.1L176.7 1027.1L193.8 1030.2L211 1030.2L228.2 1031L245.4 1034.4L262.5 1031L279.7 1031.8L296.9 1031.6L314 1023.2L331.2 1014.5L348.4 1017.9L365.5 1010.1L382.7 1006.7L399.9 1006.7L417.1 1004L434.2 987.8L451.4 984.7L468.6 979.7L485.7 964" stroke="#4a55b2" stroke-width="1.5" fill="none" stroke-linejoin="round"/>
<g fill="#4a55b2"><circle cx="159.5" cy="1027.1" r="3.3"/><circle cx="176.67" cy="1027.1" r="3.3"/><circle cx="193.84" cy="1030.24" r="3.3"/><circle cx="211.01" cy="1030.24" r="3.3"/><circle cx="228.18" cy="1031.03" r="3.3"/><circle cx="245.35" cy="1034.44" r="3.3"/><circle cx="262.52" cy="1031.03" r="3.3"/><circle cx="279.69" cy="1031.82" r="3.3"/><circle cx="296.86" cy="1031.55" r="3.3"/><circle cx="314.03" cy="1023.17" r="3.3"/><circle cx="331.2" cy="1014.52" r="3.3"/><circle cx="348.37" cy="1017.93" r="3.3"/><circle cx="365.54" cy="1010.07" r="3.3"/><circle cx="382.71" cy="1006.66" r="3.3"/><circle cx="399.88" cy="1006.66" r="3.3"/><circle cx="417.05" cy="1004.04" r="3.3"/><circle cx="434.22" cy="987.8" r="3.3"/><circle cx="451.39" cy="984.66" r="3.3"/><circle cx="468.56" cy="979.68" r="3.3"/><circle cx="485.73" cy="963.96" r="3.3"/></g>
<path d="M176.67 1014V1024.48M173.07 1014h7.2M173.07 1024.48h7.2M193.84 1010.07V1020.55M190.24 1010.07h7.2M190.24 1020.55h7.2M211.01 999.59V1010.07M207.41 999.59h7.2M207.41 1010.07h7.2M228.18 985.18V1000.9M224.58 985.18h7.2M224.58 1000.9h7.2M245.35 959.77V975.49M241.75 959.77h7.2M241.75 975.49h7.2M262.52 955.05V970.77M258.92 955.05h7.2M258.92 970.77h7.2M279.69 922.82V938.54M276.09 922.82h7.2M276.09 938.54h7.2M296.86 871.21V902.65M293.26 871.21h7.2M293.26 902.65h7.2M314.03 902.65V926.23M310.43 902.65h7.2M310.43 926.23h7.2M331.2 866.23V897.67M327.6 866.23h7.2M327.6 897.67h7.2M348.37 832.7V895.58M344.77 832.7h7.2M344.77 895.58h7.2M365.54 823.53V889.03M361.94 823.53h7.2M361.94 889.03h7.2M382.71 810.95V860.73M379.11 810.95h7.2M379.11 860.73h7.2" stroke="#f39208" stroke-width="1.4" fill="none"/>
<path d="M159.5 1027.1L176.7 1019.2L193.8 1015.3L211 1004.8L228.2 993L245.4 967.6L262.5 962.9L279.7 930.7L296.9 886.9L314 914.4L331.2 882L348.4 864.1L365.5 856.3L382.7 835.8" stroke="#f39208" stroke-width="1.5" fill="none" stroke-linejoin="round"/>
<g fill="#f39208"><circle cx="159.5" cy="1027.1" r="3.3"/><circle cx="176.67" cy="1019.24" r="3.3"/><circle cx="193.84" cy="1015.31" r="3.3"/><circle cx="211.01" cy="1004.83" r="3.3"/><circle cx="228.18" cy="993.04" r="3.3"/><circle cx="245.35" cy="967.63" r="3.3"/><circle cx="262.52" cy="962.91" r="3.3"/><circle cx="279.69" cy="930.68" r="3.3"/><circle cx="296.86" cy="886.93" r="3.3"/><circle cx="314.03" cy="914.44" r="3.3"/><circle cx="331.2" cy="881.95" r="3.3"/><circle cx="348.37" cy="864.14" r="3.3"/><circle cx="365.54" cy="856.28" r="3.3"/><circle cx="382.71" cy="835.84" r="3.3"/></g>
<path d="M176.67 1015.31V1023.17M173.07 1015.31h7.2M173.07 1023.17h7.2M193.84 1010.07V1017.93M190.24 1010.07h7.2M190.24 1017.93h7.2M211.01 984.66V1000.38M207.41 984.66h7.2M207.41 1000.38h7.2M228.18 989.11V1002.21M224.58 989.11h7.2M224.58 1002.21h7.2M245.35 972.6V996.18M241.75 972.6h7.2M241.75 996.18h7.2M262.52 975.75V987.28M258.92 975.75h7.2M258.92 987.28h7.2M279.69 956.88V976.8M276.09 956.88h7.2M276.09 976.8h7.2M296.86 940.12V967.36M293.26 940.12h7.2M293.26 967.36h7.2M314.03 921.78V943.78M310.43 921.78h7.2M310.43 943.78h7.2M331.2 900.29V923.87M327.6 900.29h7.2M327.6 923.87h7.2M348.37 897.41V931.47M344.77 897.41h7.2M344.77 931.47h7.2M365.54 867.28V909.2M361.94 867.28h7.2M361.94 909.2h7.2M382.71 863.35V907.89M379.11 863.35h7.2M379.11 907.89h7.2M399.88 853.92V886.93M396.28 853.92h7.2M396.28 886.93h7.2M417.05 863.09V880.38M413.45 863.09h7.2M413.45 880.38h7.2M434.22 816.45V860.99M430.62 816.45h7.2M430.62 860.99h7.2M451.39 828.5V861.52M447.79 828.5h7.2M447.79 861.52h7.2M468.56 834.27V861.52M464.96 834.27h7.2M464.96 861.52h7.2M485.73 798.64V840.56M482.13 798.64h7.2M482.13 840.56h7.2" stroke="#e8403a" stroke-width="1.4" fill="none"/>
<path d="M159.5 1027.1L176.7 1019.2L193.8 1014L211 992.5L228.2 995.7L245.4 984.4L262.5 981.5L279.7 966.8L296.9 953.7L314 932.8L331.2 912.1L348.4 914.4L365.5 888.2L382.7 885.6L399.9 870.4L417.1 871.7L434.2 838.7L451.4 845L468.6 847.9L485.7 819.6" stroke="#e8403a" stroke-width="1.5" fill="none" stroke-linejoin="round"/>
<g fill="#e8403a"><circle cx="159.5" cy="1027.1" r="3.3"/><circle cx="176.67" cy="1019.24" r="3.3"/><circle cx="193.84" cy="1014" r="3.3"/><circle cx="211.01" cy="992.52" r="3.3"/><circle cx="228.18" cy="995.66" r="3.3"/><circle cx="245.35" cy="984.39" r="3.3"/><circle cx="262.52" cy="981.51" r="3.3"/><circle cx="279.69" cy="966.84" r="3.3"/><circle cx="296.86" cy="953.74" r="3.3"/><circle cx="314.03" cy="932.78" r="3.3"/><circle cx="331.2" cy="912.08" r="3.3"/><circle cx="348.37" cy="914.44" r="3.3"/><circle cx="365.54" cy="888.24" r="3.3"/><circle cx="382.71" cy="885.62" r="3.3"/><circle cx="399.88" cy="870.42" r="3.3"/><circle cx="417.05" cy="871.73" r="3.3"/><circle cx="434.22" cy="838.72" r="3.3"/><circle cx="451.39" cy="845.01" r="3.3"/><circle cx="468.56" cy="847.89" r="3.3"/><circle cx="485.73" cy="819.6" r="3.3"/></g>
<path d="M176.67 1011.38V1021.86M173.07 1011.38h7.2M173.07 1021.86h7.2M193.84 1008.76V1019.24M190.24 1008.76h7.2M190.24 1019.24h7.2M211.01 1000.38V1010.86M207.41 1000.38h7.2M207.41 1010.86h7.2M228.18 972.08V993.04M224.58 972.08h7.2M224.58 993.04h7.2M245.35 971.82V984.92M241.75 971.82h7.2M241.75 984.92h7.2M262.52 937.5V958.46M258.92 937.5h7.2M258.92 958.46h7.2M279.69 901.34V927.54M276.09 901.34h7.2M276.09 927.54h7.2M296.86 866.76V903.44M293.26 866.76h7.2M293.26 903.44h7.2M314.03 864.92V898.98M310.43 864.92h7.2M310.43 898.98h7.2M331.2 835.32V890.34M327.6 835.32h7.2M327.6 890.34h7.2M348.37 792.09V858.63M344.77 792.09h7.2M344.77 858.63h7.2M365.54 824.84V861.52M361.94 824.84h7.2M361.94 861.52h7.2M382.71 735.49V789.47M379.11 735.49h7.2M379.11 789.47h7.2" stroke="#0a0a0a" stroke-width="1.4" fill="none"/>
<path d="M159.5 1027.1L176.7 1016.6L193.8 1014L211 1005.6L228.2 982.6L245.4 978.4L262.5 948L279.7 914.4L296.9 885.1L314 882L331.2 862.8L348.4 825.4L365.5 843.2L382.7 762.5" stroke="#0a0a0a" stroke-width="1.5" fill="none" stroke-linejoin="round"/>
<g fill="#0a0a0a"><circle cx="159.5" cy="1027.1" r="3.3"/><circle cx="176.67" cy="1016.62" r="3.3"/><circle cx="193.84" cy="1014" r="3.3"/><circle cx="211.01" cy="1005.62" r="3.3"/><circle cx="228.18" cy="982.56" r="3.3"/><circle cx="245.35" cy="978.37" r="3.3"/><circle cx="262.52" cy="947.98" r="3.3"/><circle cx="279.69" cy="914.44" r="3.3"/><circle cx="296.86" cy="885.1" r="3.3"/><circle cx="314.03" cy="881.95" r="3.3"/><circle cx="331.2" cy="862.83" r="3.3"/><circle cx="348.37" cy="825.36" r="3.3"/><circle cx="365.54" cy="843.18" r="3.3"/><circle cx="382.71" cy="762.48" r="3.3"/></g>
<path d="M159.5 727.1V1053.3M147 1053.3H485.73M147 1053.3H159.5M147 922.3H159.5M147 791.3H159.5M159.5 1053.3v12.4M245.35 1053.3v12.4M331.2 1053.3v12.4M417.05 1053.3v12.4" stroke="#000" stroke-width="1.5" fill="none"/>
<text x="578.4" y="606.2" font-size="39" style="stroke-width:.4px">e</text>
<text x="742.2" y="878.2" textLength="118" lengthAdjust="spacing">SKMEL28</text>
<text x="947.3" y="878.2" textLength="61.5" lengthAdjust="spacing">A375</text>
<text x="728.8" y="909.7">EV</text>
<text x="802.2" y="909.7">YAP<tspan dy="-8.8" font-size="14.79">5SA</tspan></text>
<text x="912.4" y="909.7">EV</text>
<text x="990.2" y="909.7">YAP<tspan dy="-8.8" font-size="14.79">5SA</tspan></text>
<path d="M703 919H781.8M794.6 919H873.4M886.9 919H965.7M982 919H1061.4" stroke="#000" stroke-width="1.3" fill="none"/>
<text x="589.2" y="942.5" textLength="54.5" lengthAdjust="spacing">Vem</text>
<text x="721.7" y="942.8" text-anchor="middle">-</text>
<text x="768.9" y="942.8" text-anchor="middle">+</text>
<text x="813" y="942.8" text-anchor="middle">-</text>
<text x="856.7" y="942.8" text-anchor="middle">+</text>
<text x="904.6" y="942.8" text-anchor="middle">-</text>
<text x="948.9" y="942.8" text-anchor="middle">+</text>
<text x="997.2" y="942.8" text-anchor="middle">-</text>
<text x="1045.4" y="942.8" text-anchor="middle">+</text>
<text x="589.4" y="977.9" textLength="72" lengthAdjust="spacing">pMEK</text>
<text x="589.4" y="1014.8" textLength="56.5" lengthAdjust="spacing">MEK</text>
<text x="589.4" y="1048.6" textLength="88" lengthAdjust="spacing">GAPDH</text>
<clipPath id="cp3"><rect x="693.4" y="956.3" width="376.7" height="29.6"/></clipPath>
<rect x="693.4" y="956.3" width="376.7" height="29.6" fill="#f1f1f1"/>
<g clip-path="url(#cp3)">
<g filter="url(#bl2)"><rect x="701" y="968.15" width="36" height="6.5" rx="3.25" ry="3.25" opacity="0.85"/><rect x="747.7" y="969.15" width="36" height="4.5" rx="2.25" ry="2.25" opacity="0.13"/><rect x="792.7" y="968.15" width="36" height="6.5" rx="3.25" ry="3.25" opacity="0.85"/><rect x="837.7" y="969.15" width="36" height="4.5" rx="2.25" ry="2.25" opacity="0.3"/><rect x="884.3" y="968.15" width="36" height="6.5" rx="3.25" ry="3.25" opacity="0.9"/><rect x="931" y="969.15" width="36" height="4.5" rx="2.25" ry="2.25" opacity="0.12"/><rect x="977.5" y="968.15" width="36" height="6.5" rx="3.25" ry="3.25" opacity="0.88"/><rect x="1024" y="969.15" width="36" height="4.5" rx="2.25" ry="2.25" opacity="0.45"/></g>
<g filter="url(#bl1)"><rect x="704" y="969.45" width="30" height="3.5" rx="1.75" ry="1.75" opacity="0.7"/><rect x="795.7" y="969.45" width="30" height="3.5" rx="1.75" ry="1.75" opacity="0.7"/><rect x="887.3" y="969.45" width="30" height="3.5" rx="1.75" ry="1.75" opacity="0.7"/><rect x="980.5" y="969.45" width="30" height="3.5" rx="1.75" ry="1.75" opacity="0.7"/></g>
</g>
<rect x="693.4" y="956.3" width="376.7" height="29.6" fill="none" stroke="#1a1a1a" stroke-width="1.4"/>
<clipPath id="cp4"><rect x="693.4" y="994.6" width="376.7" height="24.4"/></clipPath>
<rect x="693.4" y="994.6" width="376.7" height="24.4" fill="#f0f0f0"/>
<g clip-path="url(#cp4)">
<g filter="url(#bl2)"><rect x="700.5" y="1004.05" width="37" height="5.5" rx="2.75" ry="2.75" opacity="0.6"/><rect x="747.2" y="1004.45" width="37" height="5.5" rx="2.75" ry="2.75" opacity="0.45"/><rect x="792.2" y="1004.05" width="37" height="5.5" rx="2.75" ry="2.75" opacity="0.5"/><rect x="837.2" y="1004.45" width="37" height="5.5" rx="2.75" ry="2.75" opacity="0.42"/><rect x="883.8" y="1004.05" width="37" height="5.5" rx="2.75" ry="2.75" opacity="0.6"/><rect x="930.5" y="1004.45" width="37" height="5.5" rx="2.75" ry="2.75" opacity="0.45"/><rect x="977" y="1004.05" width="37" height="5.5" rx="2.75" ry="2.75" opacity="0.55"/><rect x="1023.5" y="1004.45" width="37" height="5.5" rx="2.75" ry="2.75" opacity="0.5"/></g>
</g>
<rect x="693.4" y="994.6" width="376.7" height="24.4" fill="none" stroke="#1a1a1a" stroke-width="1.4"/>
<clipPath id="cp5"><rect x="693.4" y="1025.1" width="376.7" height="29.3"/></clipPath>
<rect x="693.4" y="1025.1" width="376.7" height="29.3" fill="#e4e4e4"/>
<g clip-path="url(#cp5)">
<rect x="693.4" y="1025" width="376.7" height="30" fill="url(#gapdh)"/><polygon points="693,1045 698,1049 697,1055 693,1055" fill="#111"/><rect x="1067.5" y="1025" width="3" height="30" fill="#666" opacity="0.35"/>
<g filter="url(#bl1)"><rect x="699" y="1037" width="40" height="5.2" rx="2.6" ry="2.6" opacity="1"/><rect x="702" y="1037.6" width="34" height="4" rx="2" ry="2" opacity="1"/><rect x="745.7" y="1037" width="40" height="5.2" rx="2.6" ry="2.6" opacity="1"/><rect x="748.7" y="1037.6" width="34" height="4" rx="2" ry="2" opacity="1"/><rect x="790.7" y="1037" width="40" height="5.2" rx="2.6" ry="2.6" opacity="1"/><rect x="793.7" y="1037.6" width="34" height="4" rx="2" ry="2" opacity="1"/><rect x="835.7" y="1037.5" width="40" height="5.2" rx="2.6" ry="2.6" opacity="1"/><rect x="838.7" y="1038.1" width="34" height="4" rx="2" ry="2" opacity="1"/><rect x="882.3" y="1037" width="40" height="5.2" rx="2.6" ry="2.6" opacity="1"/><rect x="885.3" y="1037.6" width="34" height="4" rx="2" ry="2" opacity="1"/><rect x="929" y="1037" width="40" height="5.2" rx="2.6" ry="2.6" opacity="1"/><rect x="932" y="1037.6" width="34" height="4" rx="2" ry="2" opacity="1"/><rect x="975.5" y="1037.5" width="40" height="5.2" rx="2.6" ry="2.6" opacity="1"/><rect x="978.5" y="1038.1" width="34" height="4" rx="2" ry="2" opacity="1"/><rect x="1022" y="1037.5" width="40" height="5.2" rx="2.6" ry="2.6" opacity="1"/><rect x="1025" y="1038.1" width="34" height="4" rx="2" ry="2" opacity="1"/></g>
</g>
<rect x="693.4" y="1025.1" width="376.7" height="29.3" fill="none" stroke="#1a1a1a" stroke-width="1.4"/>
<text x="1094.8" y="606.6" font-size="39" style="stroke-width:.4px">f</text>
<rect x="1661.4" y="720" width="183.6" height="22.4" fill="#1f4e93" stroke="#1c2230" stroke-width="1"/>
<text x="1642.2" y="740" font-size="25.65" text-anchor="end">Cell adhesion molecule binding (0050839)</text>
<rect x="1661.4" y="753.31" width="170.6" height="22.4" fill="#1f4e93" stroke="#1c2230" stroke-width="1"/>
<text x="1642.2" y="773.31" font-size="25.65" text-anchor="end">Integrin binding (0005178)</text>
<rect x="1661.4" y="786.62" width="164.9" height="22.4" fill="#1f4e93" stroke="#1c2230" stroke-width="1"/>
<text x="1642.2" y="806.62" font-size="25.65" text-anchor="end">Growth factor binding (0019838)</text>
<rect x="1661.4" y="819.93" width="134.6" height="22.4" fill="#1f4e93" stroke="#1c2230" stroke-width="1"/>
<text x="1642.2" y="839.93" font-size="25.65" text-anchor="end">Cytokine activity (0005125)</text>
<rect x="1661.4" y="853.24" width="133.6" height="22.4" fill="#1f4e93" stroke="#1c2230" stroke-width="1"/>
<text x="1642.2" y="873.24" font-size="25.65" text-anchor="end">Receptor ligand activity (0048018)</text>
<rect x="1661.4" y="886.55" width="133.1" height="22.4" fill="#1f4e93" stroke="#1c2230" stroke-width="1"/>
<text x="1642.2" y="906.55" font-size="25.65" text-anchor="end">Signaling receptor activator activity (0030546)</text>
<rect x="1661.4" y="919.86" width="127.8" height="22.4" fill="#1f4e93" stroke="#1c2230" stroke-width="1"/>
<text x="1642.2" y="939.86" font-size="25.65" text-anchor="end">Receptor tyrosine kinase activity (0004714)</text>
<rect x="1661.4" y="953.17" width="123" height="22.4" fill="#1f4e93" stroke="#1c2230" stroke-width="1"/>
<text x="1642.2" y="973.17" font-size="25.65" text-anchor="end">Signaling receptor regulator activity (0030545)</text>
<rect x="1661.4" y="986.48" width="114.3" height="22.4" fill="#1f4e93" stroke="#1c2230" stroke-width="1"/>
<text x="1642.2" y="1006.48" font-size="25.65" text-anchor="end">Receptor protein kinase activity (0019199)</text>
<rect x="1661.4" y="1019.79" width="113.3" height="22.4" fill="#1f4e93" stroke="#1c2230" stroke-width="1"/>
<text x="1642.2" y="1039.79" font-size="25.65" text-anchor="end">R-SMAD binding (0070412)</text>
<path d="M1661.4 708.5V1053.3H1879.8M1656.6 731.2h4.8M1656.6 764.51h4.8M1656.6 797.82h4.8M1656.6 831.13h4.8M1656.6 864.44h4.8M1656.6 897.75h4.8M1656.6 931.06h4.8M1656.6 964.37h4.8M1656.6 997.68h4.8M1656.6 1030.99h4.8M1661.4 1053.3v12M1705 1053.3v12M1748.6 1053.3v12M1792.2 1053.3v12M1835.8 1053.3v12M1879.4 1053.3v12" stroke="#000" stroke-width="1.5" fill="none"/>
<text x="1662" y="1096" text-anchor="middle">0</text>
<text x="1705.6" y="1096" text-anchor="middle">1</text>
<text x="1749.2" y="1096" text-anchor="middle">2</text>
<text x="1792.8" y="1096" text-anchor="middle">3</text>
<text x="1836.4" y="1096" text-anchor="middle">4</text>
<text x="1880" y="1096" text-anchor="middle">5</text>
<text x="1700.8" y="1124.4" textLength="138.5" lengthAdjust="spacing">-log(<tspan font-style="italic">p</tspan> value)</text>
<text x="-1.6" y="1180" font-size="39.2" style="stroke-width:.4px">g</text>
<path d="M522.2 1202.4h0M526.9 1202.4h0M530.7 1202.4h0M534.5 1202.4h0M519.2 1207.9h0M514.6 1208.7h0M536.8 1208.7h0M508.4 1213.5h0M511.5 1213.5h0M514.6 1212.7h0M517.6 1213.5h0M520.7 1213.5h0M523.8 1213.5h0M528.4 1213.5h0M178.6 1215.9h0M503.8 1223.0h0M180.3 1223.8h0M495.7 1236.5h0M498.4 1242.8h0M505.4 1243.6h0M512.3 1245.2h0M188.9 1249.2h0M185.9 1252.4h0M195.1 1252.4h0M486.2 1252.4h0M488.5 1252.4h0M491.5 1251.6h0M493.8 1252.4h0M501.5 1252.4h0M511.5 1252.4h0M173.6 1253.2h0M182.8 1254.0h0M191.2 1254.0h0M508.4 1255.6h0M193.5 1257.1h0M198.2 1261.9h0M178.2 1262.7h0M197.2 1265.1h0M479.0 1265.2h0M479.0 1265.1h0M199.4 1265.6h0M481.3 1265.6h0M483.8 1266.3h0M478.6 1266.9h0M480.8 1266.7h0M501.5 1266.7h0M201.8 1270.3h0M201.2 1271.4h0M202.8 1270.6h0M482.3 1271.4h0M502.3 1271.4h0M489.1 1272.4h0M204.7 1273.1h0M481.7 1272.6h0M483.8 1273.0h0M190.0 1273.8h0M200.6 1274.0h0M204.8 1274.9h0M206.4 1277.8h0M473.3 1278.4h0M476.5 1277.7h0M204.3 1279.4h0M474.2 1279.4h0M479.2 1279.4h0M480.3 1279.4h0M484.6 1279.4h0M206.5 1280.3h0M490.9 1280.3h0M196.2 1280.8h0M192.0 1282.5h0M205.9 1282.2h0M206.3 1281.9h0M472.6 1282.4h0M474.5 1281.8h0M477.1 1282.4h0M492.9 1282.1h0M472.2 1282.7h0M208.8 1283.9h0M476.8 1284.5h0M490.5 1283.6h0M205.0 1284.8h0M206.0 1285.3h0M473.7 1284.7h0M477.7 1284.9h0M488.7 1285.0h0M186.6 1285.7h0M487.3 1285.7h0M203.0 1287.2h0M205.7 1286.8h0M205.8 1287.3h0M207.6 1287.3h0M208.0 1286.8h0M477.7 1287.0h0M495.4 1287.3h0M206.9 1288.0h0M209.1 1288.4h0M187.2 1288.6h0M207.8 1289.1h0M209.8 1288.7h0M471.5 1289.4h0M477.4 1288.8h0M480.0 1288.5h0M188.9 1290.5h0M473.8 1290.3h0M472.8 1290.5h0M480.8 1290.7h0M210.2 1292.2h0M474.6 1292.1h0M206.6 1292.9h0M468.8 1292.7h0M472.2 1292.8h0M488.5 1292.9h0M210.2 1294.4h0M212.8 1294.3h0M468.2 1293.6h0M468.9 1294.5h0M192.0 1295.3h0M199.1 1294.8h0M208.7 1294.9h0M210.8 1295.2h0M211.6 1295.0h0M210.1 1296.0h0M213.2 1295.9h0M213.3 1296.5h0M467.9 1296.2h0M468.0 1295.6h0M471.1 1296.1h0M198.5 1297.4h0M201.1 1296.8h0M208.9 1296.8h0M468.9 1297.2h0M210.8 1297.8h0M210.9 1297.8h0M467.6 1297.8h0M468.2 1297.9h0M484.6 1298.4h0M486.9 1298.4h0M204.5 1298.6h0M211.2 1299.5h0M213.1 1298.7h0M212.4 1300.4h0M466.5 1299.9h0M467.8 1300.1h0M208.8 1300.9h0M210.5 1301.1h0M471.2 1301.1h0M471.2 1301.3h0M481.0 1301.5h0M214.1 1301.9h0M215.2 1301.6h0M213.8 1302.6h0M214.3 1303.4h0M466.9 1302.6h0M485.2 1303.0h0M206.3 1303.7h0M215.4 1304.4h0M473.1 1304.2h0M465.1 1305.4h0M481.5 1305.0h0M212.8 1305.6h0M214.4 1306.0h0M463.8 1305.9h0M214.2 1307.2h0M216.6 1306.7h0M462.7 1307.0h0M466.0 1307.7h0M216.2 1308.6h0M216.3 1309.1h0M216.4 1309.7h0M467.7 1310.0h0M216.2 1310.6h0M218.4 1310.6h0M219.3 1311.1h0M461.2 1311.0h0M462.3 1311.5h0M479.0 1311.8h0M200.5 1312.7h0M214.9 1312.6h0M220.2 1313.2h0M200.3 1313.7h0M460.9 1314.3h0M478.8 1314.0h0M219.9 1315.4h0M481.8 1314.8h0M218.0 1316.0h0M220.3 1315.8h0M201.2 1316.7h0M211.0 1318.4h0M211.1 1318.2h0M212.5 1318.3h0M220.9 1318.3h0M459.5 1318.3h0M470.3 1318.3h0M220.5 1318.6h0M459.1 1318.9h0M462.3 1319.0h0M484.3 1319.5h0M221.0 1320.0h0M222.1 1319.5h0M222.5 1320.7h0M480.0 1321.2h0M206.0 1322.9h0M221.4 1322.6h0M221.7 1322.5h0M208.1 1324.1h0M210.7 1324.1h0M217.2 1323.8h0M464.4 1324.4h0M209.9 1325.1h0M210.5 1326.3h0M211.9 1325.5h0M462.2 1326.5h0M211.2 1327.0h0M217.5 1327.3h0M222.0 1327.5h0M224.7 1326.6h0M224.7 1326.7h0M456.6 1326.7h0M465.6 1327.5h0M473.1 1326.5h0M214.4 1327.6h0M218.5 1328.2h0M459.6 1328.2h0M222.4 1329.4h0M456.6 1328.8h0M220.6 1330.5h0M226.5 1329.6h0M454.9 1330.3h0M455.1 1330.0h0M455.8 1329.9h0M456.9 1330.2h0M460.9 1330.1h0M467.0 1331.1h0M225.0 1331.7h0M453.3 1331.7h0M452.8 1333.3h0M454.3 1332.6h0M454.8 1333.0h0M455.0 1333.0h0M457.1 1333.0h0M456.1 1334.0h0M469.1 1334.4h0M453.3 1335.0h0M455.2 1335.4h0M214.5 1336.1h0M226.1 1335.7h0M453.4 1336.9h0M453.8 1337.0h0M217.8 1338.4h0M453.2 1337.7h0M457.3 1337.7h0M214.7 1339.0h0M450.0 1339.5h0M473.2 1338.7h0M226.5 1340.2h0M221.1 1341.3h0M227.8 1340.9h0M231.0 1341.4h0M217.5 1342.2h0M225.2 1342.5h0M457.2 1341.5h0M466.3 1342.1h0M470.7 1342.1h0M227.9 1343.1h0M228.9 1342.5h0M454.7 1342.8h0M474.7 1343.6h0M227.3 1345.1h0M231.4 1345.3h0M232.4 1345.5h0M232.6 1345.0h0M448.1 1344.7h0M449.9 1345.0h0M452.9 1344.8h0M459.9 1345.2h0M463.0 1345.5h0M465.8 1344.9h0M220.4 1345.9h0M228.5 1346.2h0M229.0 1346.1h0M449.9 1346.3h0M451.6 1346.1h0M230.2 1347.2h0M456.4 1347.1h0M458.9 1347.1h0M227.9 1348.2h0M448.5 1348.1h0M457.6 1348.0h0M211.9 1349.2h0M232.6 1349.9h0M232.8 1350.1h0M447.5 1350.2h0M448.2 1349.9h0M452.1 1350.5h0M231.2 1351.3h0M446.0 1350.6h0M233.8 1352.4h0M233.9 1352.1h0M234.9 1351.8h0M445.6 1352.5h0M446.4 1352.4h0M465.2 1351.5h0M215.9 1353.3h0M447.3 1353.1h0M447.6 1352.6h0M229.1 1353.8h0M232.8 1354.1h0M234.1 1353.8h0M448.5 1353.6h0M219.8 1354.8h0M226.8 1355.5h0M453.8 1355.3h0M466.5 1355.2h0M228.5 1356.5h0M232.8 1356.3h0M444.2 1356.4h0M448.1 1356.1h0M455.0 1355.9h0M467.3 1356.2h0M232.1 1356.7h0M444.5 1356.6h0M234.4 1358.0h0M450.0 1357.6h0M457.5 1358.0h0M235.3 1358.8h0M235.8 1359.0h0M443.4 1359.2h0M445.3 1359.1h0M447.2 1358.9h0M450.5 1359.1h0M237.6 1360.2h0M237.9 1359.7h0M230.8 1360.7h0M235.2 1360.7h0M238.6 1360.9h0M444.2 1360.9h0M449.7 1361.2h0M456.3 1361.2h0M233.5 1362.0h0M443.5 1361.7h0M444.5 1361.9h0M446.0 1362.3h0M449.2 1362.3h0M451.4 1361.9h0M454.7 1362.1h0M238.8 1362.9h0M442.4 1363.4h0M452.9 1363.0h0M235.3 1364.4h0M239.1 1364.4h0M239.6 1363.6h0M214.5 1365.3h0M233.7 1365.0h0M238.8 1365.4h0M239.0 1365.2h0M240.5 1364.7h0M446.0 1364.8h0M222.2 1365.9h0M238.4 1365.7h0M441.0 1367.0h0M442.4 1366.8h0M221.8 1367.6h0M226.3 1367.8h0M237.9 1368.5h0M238.2 1368.1h0M440.7 1368.0h0M462.5 1367.7h0M230.5 1369.0h0M236.0 1368.8h0M241.8 1369.2h0M241.9 1368.8h0M242.1 1369.5h0M440.9 1369.0h0M448.7 1369.1h0M224.0 1370.3h0M232.1 1370.2h0M237.6 1370.0h0M238.8 1369.7h0M240.3 1370.5h0M441.2 1370.4h0M441.6 1370.4h0M455.0 1370.2h0M231.6 1371.2h0M233.6 1371.4h0M243.2 1372.1h0M437.9 1372.4h0M450.2 1372.0h0M229.7 1372.7h0M437.7 1373.3h0M438.1 1372.6h0M243.0 1374.5h0M438.7 1374.4h0M444.5 1374.3h0M243.4 1375.3h0M243.7 1374.9h0M443.7 1375.1h0M451.0 1374.6h0M236.9 1375.6h0M237.4 1376.0h0M242.0 1375.8h0M242.5 1376.0h0M436.4 1375.7h0M443.3 1375.7h0M230.1 1376.6h0M241.4 1377.0h0M241.8 1376.5h0M436.0 1376.9h0M436.4 1377.0h0M436.7 1377.0h0M439.7 1377.1h0M244.3 1378.0h0M245.0 1378.2h0M435.4 1378.0h0M437.4 1378.1h0M239.8 1379.3h0M244.0 1378.8h0M244.2 1378.7h0M436.0 1379.0h0M436.2 1379.2h0M436.3 1379.0h0M244.3 1379.6h0M245.6 1380.3h0M434.9 1380.4h0M446.0 1380.2h0M240.8 1380.6h0M241.5 1381.5h0M435.4 1381.2h0M436.8 1381.2h0M438.9 1381.1h0M449.2 1381.2h0M245.0 1381.5h0M220.2 1383.2h0M436.4 1382.9h0M224.6 1383.9h0M225.4 1383.6h0M236.2 1384.1h0M435.2 1383.5h0M233.2 1384.7h0M234.4 1385.0h0M246.4 1385.2h0M247.7 1385.0h0M247.9 1385.0h0M433.4 1385.3h0M436.1 1384.6h0M437.0 1384.9h0M444.2 1385.0h0M451.7 1384.7h0M241.5 1386.2h0M248.4 1386.1h0M248.5 1385.9h0M432.7 1386.0h0M432.9 1385.6h0M433.8 1386.0h0M434.5 1385.9h0M440.3 1385.8h0M246.0 1387.1h0M247.5 1387.2h0M433.5 1387.3h0M433.5 1387.0h0M434.5 1386.7h0M436.3 1387.0h0M447.9 1386.9h0M454.6 1386.7h0M433.6 1387.5h0M433.9 1388.4h0M437.0 1387.9h0M442.8 1387.5h0M248.8 1389.1h0M431.9 1389.1h0M435.9 1389.3h0M437.1 1389.5h0M442.1 1388.6h0M447.0 1388.6h0M241.9 1390.0h0M244.0 1390.1h0M248.6 1390.3h0M249.1 1390.0h0M433.8 1389.9h0M433.9 1389.6h0M438.9 1389.8h0M447.0 1389.8h0M247.3 1391.1h0M248.4 1390.8h0M249.0 1390.5h0M238.9 1392.1h0M249.6 1392.5h0M249.8 1391.9h0M250.4 1391.9h0M430.5 1392.4h0M453.0 1392.2h0M248.5 1393.3h0M434.8 1392.8h0M437.1 1393.1h0M236.2 1393.8h0M246.9 1394.0h0M251.2 1393.8h0M432.5 1394.0h0M452.3 1394.1h0M250.5 1395.5h0M430.6 1395.3h0M443.6 1395.2h0M246.2 1396.4h0M251.6 1396.1h0M428.8 1395.7h0M429.1 1395.9h0M433.3 1396.4h0M249.0 1397.0h0M250.0 1397.2h0M250.7 1397.1h0M252.6 1397.1h0M429.3 1396.8h0M430.0 1397.0h0M430.3 1397.4h0M430.6 1396.6h0M430.6 1396.5h0M435.4 1397.1h0M242.6 1398.4h0M250.3 1398.4h0M252.5 1397.7h0M453.3 1398.5h0M225.9 1398.8h0M252.3 1398.6h0M430.8 1399.2h0M218.7 1400.0h0M232.6 1399.7h0M249.7 1400.0h0M250.8 1400.3h0M253.1 1400.2h0M253.9 1399.5h0M428.0 1400.0h0M441.5 1399.7h0M248.5 1400.9h0M249.4 1401.5h0M249.6 1401.3h0M254.3 1400.9h0M427.3 1400.6h0M427.7 1401.4h0M450.0 1401.5h0M252.0 1401.9h0M252.0 1402.3h0M253.6 1401.8h0M426.6 1401.8h0M428.2 1402.3h0M428.6 1402.1h0M251.3 1403.3h0M254.0 1403.3h0M254.7 1403.0h0M427.4 1403.3h0M427.9 1402.6h0M431.3 1402.6h0M236.9 1404.3h0M250.9 1404.1h0M250.9 1404.3h0M252.2 1403.7h0M252.6 1404.3h0M255.5 1403.5h0M427.1 1403.7h0M427.2 1403.8h0M427.4 1404.3h0M429.4 1404.2h0M425.6 1404.7h0M426.0 1404.9h0M236.8 1406.3h0M241.0 1406.4h0M428.2 1406.2h0M255.7 1406.9h0M256.1 1406.9h0M427.4 1406.6h0M427.5 1406.6h0M431.9 1406.6h0M251.9 1408.0h0M424.5 1408.0h0M424.5 1408.4h0M425.9 1407.9h0M426.1 1407.8h0M426.2 1407.8h0M426.3 1408.3h0M428.2 1407.6h0M430.3 1407.7h0M450.0 1408.5h0M255.5 1409.1h0M423.7 1408.9h0M427.1 1409.2h0M427.3 1409.5h0M430.0 1408.9h0M430.3 1408.7h0M439.5 1409.2h0M449.6 1409.4h0M233.9 1409.8h0M256.7 1409.8h0M257.1 1409.6h0M442.3 1409.8h0M246.9 1411.1h0M423.1 1411.2h0M427.3 1411.2h0M428.7 1410.6h0M428.8 1410.8h0M253.5 1412.5h0M254.5 1411.7h0M257.7 1412.1h0M258.3 1412.2h0M425.6 1412.2h0M245.1 1413.0h0M253.3 1413.1h0M258.1 1413.4h0M258.3 1413.1h0M422.5 1412.8h0M425.1 1413.4h0M426.6 1412.5h0M437.3 1413.2h0M257.0 1413.9h0M259.0 1414.3h0M423.0 1414.0h0M423.9 1414.0h0M426.4 1414.1h0M254.0 1415.2h0M258.6 1415.1h0M422.7 1414.6h0M423.0 1415.0h0M424.5 1415.2h0M427.4 1415.2h0M256.3 1415.9h0M257.0 1415.6h0M422.9 1416.3h0M255.8 1416.7h0M256.6 1417.3h0M256.7 1416.7h0M421.3 1417.3h0M421.4 1417.4h0M421.7 1417.1h0M422.0 1417.4h0M424.0 1417.2h0M426.4 1416.9h0M254.1 1418.1h0M261.1 1418.1h0M420.2 1418.2h0M420.2 1418.3h0M423.8 1418.1h0M428.5 1417.8h0M255.1 1419.3h0M422.3 1419.1h0M436.4 1419.3h0M443.1 1418.8h0M443.9 1419.2h0M245.7 1419.8h0M255.1 1419.8h0M259.9 1420.2h0M260.0 1419.5h0M260.5 1419.6h0M261.3 1419.5h0M420.6 1419.7h0M257.5 1420.8h0M261.1 1420.7h0M419.0 1421.0h0M420.3 1421.0h0M421.0 1420.9h0M421.0 1421.0h0M421.1 1420.7h0M422.0 1421.0h0M423.7 1420.9h0M425.5 1420.6h0M444.8 1421.3h0M238.4 1421.6h0M256.3 1421.8h0M260.0 1421.9h0M262.0 1422.2h0M419.2 1422.1h0M421.2 1422.4h0M256.9 1423.5h0M260.2 1422.8h0M262.6 1423.0h0M420.3 1422.5h0M422.0 1423.1h0M422.6 1423.2h0M423.6 1422.6h0M424.1 1422.6h0M430.3 1423.3h0M256.8 1424.1h0M259.6 1423.9h0M260.9 1424.2h0M261.2 1424.0h0M418.6 1424.2h0M420.3 1424.2h0M424.6 1423.8h0M249.1 1425.5h0M253.1 1425.3h0M256.8 1425.1h0M262.0 1424.8h0M419.4 1424.7h0M419.9 1424.9h0M420.8 1425.4h0M249.5 1425.8h0M260.5 1425.9h0M262.9 1425.7h0M418.7 1425.6h0M419.2 1425.5h0M257.3 1427.4h0M417.5 1426.5h0M417.7 1426.9h0M436.3 1426.6h0M258.4 1428.3h0M263.1 1428.3h0M417.2 1427.8h0M424.4 1427.9h0M260.1 1428.8h0M264.5 1428.6h0M416.4 1429.3h0M417.1 1429.0h0M418.9 1428.6h0M420.4 1429.4h0M420.8 1429.3h0M422.1 1429.0h0M431.5 1429.2h0M434.7 1429.4h0M435.2 1429.4h0M246.4 1429.7h0M251.1 1430.2h0M262.0 1429.6h0M265.5 1430.1h0M415.9 1429.9h0M418.9 1430.1h0M419.9 1430.4h0M420.6 1429.9h0M239.6 1431.0h0M253.1 1431.0h0M262.7 1431.1h0M263.3 1431.2h0M263.8 1431.3h0M263.9 1431.0h0M264.2 1431.2h0M265.0 1430.8h0M265.9 1430.8h0M420.5 1431.1h0M420.7 1431.1h0M426.6 1430.9h0M247.5 1432.3h0M262.2 1431.5h0M262.3 1431.9h0M265.7 1431.8h0M415.3 1431.8h0M418.6 1432.5h0M418.8 1432.1h0M255.5 1432.9h0M259.4 1433.1h0M259.7 1432.7h0M259.9 1432.9h0M262.6 1432.5h0M264.7 1433.2h0M266.8 1432.6h0M417.6 1432.5h0M417.6 1432.8h0M421.9 1433.2h0M441.4 1432.6h0M256.1 1434.4h0M256.7 1434.4h0M266.1 1434.4h0M266.2 1434.4h0M415.3 1434.5h0M415.8 1433.7h0M416.7 1433.7h0M417.3 1433.7h0M260.9 1434.7h0M261.0 1435.1h0M263.0 1434.7h0M415.7 1435.0h0M416.2 1434.6h0M416.7 1435.4h0M421.2 1435.3h0M437.9 1435.5h0M244.8 1436.5h0M413.4 1435.8h0M414.1 1436.5h0M415.5 1436.2h0M248.6 1437.4h0M267.8 1436.6h0M413.4 1436.9h0M413.5 1436.6h0M417.0 1436.8h0M424.2 1437.1h0M436.8 1437.0h0M245.5 1437.9h0M253.8 1438.5h0M264.5 1438.1h0M265.5 1437.6h0M268.5 1437.7h0M268.8 1437.7h0M413.0 1438.1h0M413.6 1438.1h0M414.0 1438.3h0M414.3 1437.5h0M416.2 1437.6h0M262.0 1438.7h0M264.4 1438.7h0M266.5 1438.8h0M412.3 1439.0h0M412.5 1438.5h0M412.8 1438.6h0M413.3 1438.9h0M413.4 1438.6h0M415.1 1438.8h0M415.5 1439.4h0M265.0 1440.2h0M269.0 1440.4h0M412.2 1439.8h0M412.4 1439.8h0M413.7 1439.6h0M415.4 1439.8h0M263.8 1441.2h0M264.8 1440.7h0M265.8 1441.5h0M266.9 1440.8h0M267.5 1441.2h0M268.4 1440.5h0M268.9 1441.0h0M269.0 1440.6h0M412.5 1440.5h0M412.9 1441.3h0M265.8 1442.5h0M269.1 1441.8h0M269.6 1441.5h0M269.7 1442.1h0M270.0 1442.1h0M411.0 1442.0h0M411.7 1441.7h0M412.6 1442.5h0M412.7 1442.5h0M417.9 1442.1h0M248.1 1442.8h0M255.4 1442.7h0M262.8 1442.5h0M265.7 1442.7h0M267.6 1442.5h0M268.9 1443.0h0M269.5 1442.9h0M412.1 1442.6h0M413.8 1442.7h0M414.8 1443.2h0M415.0 1442.7h0M422.4 1442.8h0M244.4 1443.8h0M259.6 1444.3h0M266.7 1444.2h0M267.6 1444.2h0M269.8 1443.5h0M270.4 1443.6h0M270.6 1444.4h0M411.9 1443.7h0M434.7 1444.1h0M267.6 1445.1h0M269.4 1444.9h0M269.4 1444.7h0M270.6 1444.7h0M409.9 1445.2h0M410.6 1445.4h0M411.2 1445.2h0M411.3 1445.2h0M411.4 1445.4h0M411.5 1445.3h0M411.8 1444.7h0M413.0 1445.4h0M413.0 1445.4h0M416.4 1444.5h0M432.6 1445.4h0M265.4 1445.6h0M267.6 1446.0h0M410.2 1445.8h0M410.8 1445.9h0M411.4 1445.5h0M411.4 1445.5h0M413.2 1446.1h0M414.3 1445.9h0M421.4 1445.7h0M257.2 1447.2h0M271.8 1447.2h0M410.0 1446.9h0M416.6 1447.0h0M429.5 1447.2h0M257.9 1448.3h0M265.8 1448.2h0M271.4 1448.1h0M271.4 1447.6h0M271.6 1448.1h0M413.2 1448.0h0M414.9 1447.8h0M414.9 1447.8h0M423.9 1447.8h0M424.6 1448.1h0M258.0 1448.9h0M268.3 1449.2h0M269.6 1449.1h0M271.3 1449.2h0M271.6 1449.4h0M408.5 1448.7h0M408.9 1449.1h0M409.5 1449.4h0M409.9 1449.2h0M410.1 1448.6h0M412.0 1448.6h0M427.8 1448.6h0M257.7 1449.6h0M269.8 1450.4h0M270.2 1450.3h0M270.8 1450.0h0M271.6 1450.1h0M273.0 1449.7h0M408.2 1449.6h0M412.8 1450.0h0M412.8 1449.5h0M413.1 1449.6h0M414.9 1450.2h0M418.7 1450.3h0M272.3 1450.9h0M272.7 1450.7h0M273.4 1450.7h0M273.8 1451.1h0M273.9 1451.0h0M407.7 1450.9h0M410.1 1451.2h0M413.6 1451.0h0M415.0 1451.0h0M429.9 1450.7h0M269.8 1452.4h0M271.3 1452.4h0M272.8 1452.0h0M272.9 1451.7h0M273.4 1451.5h0M273.6 1452.3h0M274.2 1451.5h0M407.6 1451.5h0M408.2 1452.4h0M271.3 1452.8h0M273.1 1452.5h0M273.9 1452.7h0M274.7 1452.7h0M407.2 1452.6h0M407.4 1453.2h0M408.0 1452.6h0M408.2 1453.1h0M409.1 1452.7h0M409.6 1453.4h0M414.9 1453.4h0M255.9 1453.6h0M269.9 1453.9h0M271.6 1453.6h0M271.9 1454.3h0M272.7 1453.8h0M274.5 1453.6h0M406.3 1454.4h0M407.6 1453.9h0M408.3 1454.4h0M409.6 1453.9h0M409.6 1453.9h0M410.5 1454.1h0M413.6 1454.3h0M265.7 1455.3h0M271.4 1455.4h0M272.9 1455.2h0M409.5 1454.7h0M248.9 1456.0h0M267.5 1455.7h0M269.6 1455.5h0M272.5 1456.3h0M274.0 1455.5h0M275.4 1455.5h0M405.6 1456.2h0M405.7 1456.0h0M405.9 1455.5h0M406.8 1455.9h0M407.6 1456.0h0M408.4 1456.0h0M412.2 1456.2h0M412.3 1456.2h0M413.5 1456.2h0M424.5 1456.1h0M256.9 1456.6h0M264.4 1456.5h0M268.8 1457.3h0M272.8 1457.0h0M273.0 1457.1h0M273.6 1457.1h0M274.8 1456.6h0M275.6 1457.2h0M276.2 1456.6h0M276.3 1457.2h0M405.7 1457.0h0M406.6 1456.6h0M406.7 1456.7h0M406.8 1457.3h0M408.3 1457.2h0M411.4 1456.7h0M416.0 1457.0h0M275.1 1458.1h0M275.5 1457.6h0M276.9 1458.4h0M405.2 1457.9h0M405.7 1458.1h0M406.9 1458.2h0M409.1 1457.6h0M409.4 1458.3h0M409.6 1458.3h0M419.4 1457.9h0M262.1 1458.6h0M266.2 1459.4h0M266.5 1458.8h0M269.5 1458.8h0M269.6 1459.2h0M273.5 1459.3h0M273.8 1458.7h0M273.9 1459.1h0M274.1 1459.1h0M275.3 1458.6h0M275.6 1459.1h0M276.1 1459.0h0M406.3 1459.5h0M406.7 1458.5h0M408.4 1459.1h0M410.6 1458.8h0M424.2 1459.1h0M266.0 1460.4h0M269.1 1459.6h0M271.8 1459.9h0M273.1 1460.3h0M274.1 1460.0h0M274.3 1459.9h0M275.6 1460.3h0M276.3 1460.4h0M276.5 1459.5h0M277.1 1460.4h0M277.1 1460.3h0M404.9 1460.1h0M406.3 1460.0h0M407.1 1459.9h0M407.2 1459.9h0M407.4 1460.2h0M407.8 1460.2h0M408.2 1459.9h0M251.8 1460.6h0M254.4 1460.7h0M266.6 1461.2h0M272.9 1460.6h0M274.8 1460.8h0M275.2 1460.7h0M276.5 1461.0h0M276.5 1460.7h0M277.5 1461.3h0M277.6 1460.9h0M404.7 1461.1h0M404.9 1461.4h0M405.5 1460.8h0M406.9 1461.3h0M407.7 1461.1h0M407.8 1461.1h0M408.5 1460.6h0M408.7 1460.9h0M411.2 1460.7h0M255.1 1461.9h0M277.3 1462.1h0M403.6 1461.6h0M404.2 1461.6h0M408.4 1461.6h0M408.5 1461.6h0M272.1 1462.7h0M273.5 1462.5h0M275.3 1463.4h0M275.8 1463.1h0M276.0 1462.9h0M278.5 1463.2h0M403.7 1463.0h0M407.3 1463.2h0M408.5 1463.0h0M410.2 1463.0h0M410.6 1463.0h0M271.7 1463.8h0M275.7 1464.1h0M276.0 1463.8h0M276.6 1464.0h0M276.8 1463.6h0M277.0 1464.5h0M278.2 1464.5h0M403.3 1463.6h0M403.9 1464.2h0M406.4 1464.5h0M421.5 1464.5h0M422.2 1463.6h0M427.2 1464.1h0M252.5 1464.7h0M259.0 1464.8h0M271.8 1464.7h0M276.6 1464.5h0M276.8 1464.7h0M278.3 1464.6h0M278.5 1464.5h0M403.8 1464.7h0M404.3 1465.4h0M404.4 1465.2h0M404.9 1464.7h0M406.7 1464.9h0M414.3 1465.0h0M416.9 1465.0h0M260.5 1466.4h0M260.9 1466.2h0M274.0 1465.5h0M276.2 1465.6h0M276.6 1466.1h0M279.3 1466.2h0M404.1 1465.9h0M404.3 1465.9h0M405.2 1465.8h0M406.4 1465.9h0M407.3 1466.0h0M407.5 1466.2h0M417.5 1465.9h0M421.2 1466.1h0M421.4 1466.0h0M254.0 1467.0h0M254.0 1467.4h0M257.1 1467.1h0M275.8 1466.8h0M276.7 1466.6h0M276.9 1467.1h0M277.3 1467.4h0M278.0 1466.5h0M278.3 1466.8h0M402.1 1467.1h0M403.2 1466.8h0M403.7 1467.0h0M405.8 1467.2h0M406.2 1466.9h0M407.3 1467.2h0M428.4 1466.6h0M276.2 1468.3h0M278.5 1467.7h0M279.1 1467.5h0M279.9 1468.3h0M280.3 1468.2h0M280.4 1468.1h0M401.9 1467.8h0M402.1 1467.9h0M403.8 1468.2h0M407.8 1467.8h0M409.0 1468.2h0M424.5 1467.9h0M254.9 1469.3h0M269.9 1468.8h0M270.2 1469.5h0M274.1 1469.0h0M276.5 1469.1h0M277.2 1468.8h0M277.3 1468.8h0M278.7 1469.1h0M278.9 1469.5h0M279.3 1468.6h0M280.4 1469.5h0M280.6 1469.1h0M401.7 1468.6h0M403.4 1468.8h0M403.5 1469.5h0M405.1 1469.1h0M405.9 1468.8h0M407.7 1468.9h0M427.0 1469.4h0M267.2 1469.6h0M275.6 1470.0h0M279.5 1470.2h0M401.0 1470.1h0M401.0 1470.4h0M403.4 1470.4h0M404.7 1470.3h0M407.4 1470.4h0M407.8 1469.9h0M419.3 1470.3h0M424.7 1470.4h0M269.8 1470.7h0M274.0 1470.6h0M278.7 1471.3h0M279.4 1470.6h0M279.7 1471.2h0M279.8 1471.5h0M280.0 1471.4h0M281.0 1470.9h0M281.1 1470.9h0M281.4 1471.1h0M401.2 1471.3h0M401.7 1471.5h0M402.1 1471.0h0M404.7 1471.3h0M405.9 1471.0h0M411.5 1471.4h0M255.5 1472.2h0M267.3 1472.4h0M274.5 1472.0h0M280.1 1472.4h0M281.0 1472.2h0M400.1 1471.9h0M400.6 1472.3h0M402.2 1471.8h0M403.5 1471.9h0M404.9 1472.3h0M418.5 1472.5h0M426.2 1472.1h0M256.0 1473.4h0M266.9 1473.3h0M281.8 1472.9h0M282.3 1473.3h0M399.4 1473.5h0M399.6 1473.2h0M399.7 1473.2h0M400.3 1473.1h0M401.5 1473.2h0M401.6 1473.4h0M401.9 1473.4h0M404.0 1473.1h0M410.0 1473.3h0M422.9 1473.1h0M255.7 1474.3h0M256.9 1474.0h0M263.1 1473.6h0M263.4 1474.1h0M275.5 1474.0h0M279.0 1473.7h0M279.6 1474.0h0M280.2 1473.7h0M282.0 1473.6h0M282.7 1473.6h0M283.0 1474.1h0M398.9 1474.2h0M399.1 1474.3h0M399.2 1473.7h0M399.7 1473.9h0M399.8 1473.7h0M401.2 1474.0h0M401.8 1474.2h0M402.2 1473.6h0M402.4 1474.2h0M403.3 1474.3h0M406.1 1474.0h0M406.1 1474.1h0M406.3 1474.1h0M406.4 1473.9h0M406.6 1474.0h0M409.6 1474.2h0M414.0 1473.8h0M422.1 1473.7h0M263.8 1475.1h0M272.8 1475.4h0M276.1 1475.0h0M277.5 1475.0h0M277.6 1475.2h0M278.1 1475.0h0M280.3 1474.7h0M280.6 1475.3h0M282.2 1474.6h0M282.2 1475.4h0M283.2 1474.8h0M283.3 1475.3h0M402.4 1474.6h0M403.5 1474.7h0M263.9 1476.2h0M276.0 1476.0h0M276.9 1476.3h0M279.6 1475.7h0M280.1 1476.0h0M281.1 1476.4h0M281.4 1475.6h0M281.5 1475.8h0M281.7 1475.9h0M281.9 1476.0h0M282.3 1476.3h0M283.0 1476.2h0M283.1 1476.1h0M283.2 1475.7h0M283.4 1476.2h0M283.8 1476.4h0M401.0 1475.9h0M402.3 1476.4h0M404.9 1476.2h0M413.3 1476.3h0M416.6 1475.6h0M417.5 1476.0h0M258.0 1477.1h0M276.7 1476.7h0M280.2 1477.2h0M282.4 1476.5h0M283.0 1477.0h0M283.3 1476.9h0M283.4 1477.3h0M398.0 1477.3h0M398.8 1477.0h0M399.1 1477.2h0M399.7 1476.6h0M402.1 1476.7h0M403.5 1477.5h0M409.4 1476.6h0M420.5 1476.5h0M258.8 1478.0h0M277.0 1477.6h0M278.8 1477.6h0M280.7 1477.8h0M281.0 1478.5h0M281.0 1477.8h0M281.4 1478.3h0M282.3 1478.2h0M282.4 1477.9h0M283.8 1478.3h0M284.6 1478.3h0M397.3 1478.4h0M397.8 1478.0h0M397.9 1477.7h0M398.0 1477.9h0M400.3 1478.2h0M400.9 1478.4h0M402.4 1478.1h0M404.0 1477.7h0M404.2 1478.4h0M404.2 1477.8h0M269.8 1478.6h0M270.8 1479.2h0M278.9 1479.1h0M281.2 1479.1h0M281.5 1478.9h0M281.6 1478.8h0M282.1 1479.0h0M282.3 1479.3h0M284.4 1478.7h0M398.4 1478.7h0M398.8 1478.6h0M398.9 1478.9h0M400.0 1478.9h0M402.1 1478.5h0M403.8 1478.7h0M419.7 1479.4h0M259.0 1480.3h0M259.1 1479.9h0M270.5 1480.4h0M270.7 1479.8h0M273.4 1480.3h0M274.0 1480.4h0M274.4 1480.3h0M280.4 1480.3h0M280.7 1480.1h0M282.8 1479.5h0M283.7 1479.9h0M284.1 1479.6h0M397.2 1479.9h0M397.2 1479.6h0M397.4 1480.4h0M397.4 1480.5h0M398.0 1480.1h0M398.4 1479.6h0M398.7 1480.1h0M399.7 1480.0h0M400.7 1479.6h0M401.9 1480.1h0M402.1 1480.2h0M404.8 1480.3h0M407.7 1479.6h0M408.0 1480.0h0M420.0 1480.0h0M420.2 1480.1h0M420.6 1479.8h0M258.7 1481.0h0M259.6 1480.9h0M266.7 1481.0h0M277.8 1481.0h0M279.1 1481.3h0M281.3 1481.2h0M282.0 1481.2h0M282.0 1480.7h0M282.2 1480.9h0M282.9 1480.8h0M283.0 1481.2h0M284.5 1480.6h0M284.7 1480.5h0M285.1 1480.9h0M285.4 1481.0h0M396.7 1480.8h0M397.3 1481.2h0M397.6 1481.2h0M400.5 1481.1h0M402.9 1480.5h0M408.1 1480.8h0M420.8 1480.6h0M259.6 1481.9h0M279.2 1481.8h0M281.7 1481.6h0M283.1 1481.9h0M283.6 1481.9h0M284.4 1482.4h0M285.6 1481.6h0M286.0 1482.3h0M396.2 1482.0h0M398.6 1482.1h0M398.8 1481.9h0M399.2 1481.8h0M402.6 1481.6h0M411.0 1482.4h0M415.3 1482.5h0M267.1 1483.1h0M267.2 1483.2h0M270.4 1483.2h0M271.9 1482.5h0M278.8 1482.5h0M281.9 1483.3h0M283.8 1482.9h0M283.8 1483.3h0M284.1 1483.3h0M285.0 1482.8h0M285.1 1482.7h0M286.1 1482.9h0M395.6 1482.8h0M395.7 1483.3h0M396.4 1483.4h0M397.4 1483.0h0M398.1 1483.1h0M398.8 1482.7h0M399.4 1483.1h0M399.8 1483.0h0M400.1 1482.7h0M402.6 1482.8h0M406.5 1482.7h0M411.8 1483.0h0M419.9 1482.7h0M421.4 1483.3h0M422.0 1483.0h0M261.0 1484.0h0M266.2 1484.0h0M271.6 1484.0h0M272.0 1483.9h0M272.3 1484.1h0M279.4 1484.1h0M282.4 1484.1h0M283.6 1483.9h0M285.3 1483.9h0M285.6 1483.6h0M286.3 1484.0h0M286.3 1484.0h0M286.4 1483.7h0M286.9 1484.4h0M395.6 1484.5h0M396.4 1483.6h0M396.5 1484.2h0M397.9 1484.2h0M399.6 1484.1h0M400.4 1484.2h0M406.2 1484.3h0M418.9 1483.8h0M262.7 1485.0h0M263.4 1484.8h0M263.7 1485.3h0M267.6 1485.0h0M272.5 1484.9h0M276.0 1484.6h0M276.5 1485.1h0M276.8 1485.4h0M281.2 1485.2h0M282.7 1485.3h0M282.7 1485.1h0M282.8 1485.1h0M283.8 1485.3h0M284.6 1484.9h0M284.9 1485.1h0M285.2 1484.8h0M285.6 1485.3h0M286.0 1485.2h0M286.1 1485.5h0M394.9 1484.7h0M396.3 1485.1h0M396.4 1484.9h0M396.9 1485.1h0M400.6 1485.4h0M401.9 1484.8h0M418.2 1484.8h0M421.2 1485.0h0M264.9 1486.4h0M272.8 1485.9h0M272.9 1485.6h0M278.9 1485.6h0M280.5 1485.7h0M280.8 1486.3h0M280.9 1485.6h0M281.2 1486.5h0M282.1 1486.4h0M282.5 1485.7h0M283.0 1486.0h0M283.6 1486.0h0M284.3 1486.4h0M284.8 1485.5h0M286.3 1486.4h0M286.4 1485.9h0M287.1 1486.0h0M287.5 1485.7h0M395.4 1486.0h0M395.9 1485.8h0M396.1 1485.7h0M396.2 1486.2h0M397.0 1485.8h0M399.5 1486.4h0M399.6 1486.1h0M400.2 1486.0h0M401.3 1486.1h0M401.8 1486.4h0M405.5 1485.7h0M412.7 1486.2h0M417.2 1486.0h0M417.4 1486.4h0M420.7 1485.8h0M261.6 1487.0h0M261.7 1486.8h0M261.7 1487.2h0M275.8 1487.1h0M276.2 1486.5h0M280.5 1487.1h0M280.8 1486.8h0M284.0 1486.8h0M284.4 1486.5h0M285.0 1487.0h0M285.5 1487.4h0M287.0 1487.2h0M287.2 1487.4h0M287.2 1486.6h0M287.2 1487.1h0M287.4 1487.1h0M394.1 1486.8h0M394.4 1486.7h0M394.7 1487.3h0M395.4 1487.1h0M396.4 1486.5h0M397.5 1487.1h0M397.8 1487.1h0M404.4 1487.3h0M265.9 1487.9h0M281.0 1487.9h0M283.6 1488.1h0M285.6 1487.6h0M285.9 1488.0h0M286.8 1488.0h0M287.1 1488.0h0M287.3 1488.4h0M287.7 1488.0h0M288.2 1487.7h0M288.2 1488.0h0M393.6 1488.4h0M395.0 1488.1h0M395.0 1488.2h0M395.3 1487.6h0M395.4 1487.5h0M396.4 1487.9h0M397.2 1487.9h0M399.0 1487.7h0M399.9 1488.3h0M400.2 1488.2h0M400.5 1488.0h0M401.2 1487.9h0M417.5 1488.2h0M281.1 1489.5h0M282.3 1489.1h0M283.4 1489.1h0M284.0 1488.8h0M285.9 1489.2h0M286.0 1489.1h0M286.1 1489.0h0M286.1 1488.7h0M286.5 1489.0h0M287.5 1488.7h0M287.7 1489.2h0M288.0 1488.6h0M288.5 1488.6h0M393.4 1489.1h0M393.5 1488.7h0M393.6 1489.2h0M393.9 1488.7h0M394.2 1488.7h0M394.5 1488.5h0M394.7 1489.3h0M395.2 1488.6h0M398.4 1488.7h0M398.8 1488.6h0M399.0 1488.9h0M400.7 1488.9h0M401.2 1489.0h0M262.5 1490.3h0M266.0 1489.8h0M285.0 1489.5h0M285.8 1490.3h0M286.5 1490.2h0M286.6 1490.3h0M286.8 1490.4h0M287.3 1489.6h0M288.7 1489.5h0M288.7 1490.5h0M288.7 1490.1h0M288.9 1490.5h0M392.9 1489.8h0M393.5 1489.6h0M393.8 1490.2h0M393.9 1490.3h0M394.1 1489.6h0M395.4 1490.0h0M395.5 1489.6h0M396.2 1490.5h0M396.4 1490.3h0M396.9 1490.5h0M400.0 1489.7h0M404.1 1490.3h0M408.8 1489.7h0M412.5 1490.5h0M415.7 1489.7h0M416.1 1489.6h0M419.7 1490.1h0M263.2 1491.1h0M274.7 1491.1h0M285.2 1491.3h0M287.5 1490.5h0M288.6 1491.4h0M288.9 1491.3h0M288.9 1491.3h0M393.1 1490.7h0M393.7 1491.4h0M394.7 1490.8h0M395.2 1490.6h0M395.7 1491.4h0M396.0 1491.2h0M396.5 1490.7h0M396.8 1490.6h0M396.9 1490.7h0M398.7 1490.8h0M399.1 1491.4h0M411.4 1491.3h0M274.8 1492.5h0M278.4 1492.5h0M282.2 1492.3h0M282.3 1491.5h0M283.0 1492.1h0M286.5 1491.6h0M287.4 1491.9h0M288.3 1492.3h0M288.3 1492.1h0M288.4 1492.4h0M288.7 1491.7h0M288.8 1492.5h0M391.9 1492.3h0M392.3 1491.6h0M392.4 1492.2h0M393.0 1491.8h0M393.2 1492.2h0M393.5 1492.1h0M393.6 1491.8h0M393.7 1492.3h0M399.1 1491.7h0M402.6 1492.5h0M415.2 1491.8h0M418.8 1492.1h0M267.1 1493.5h0M275.1 1492.9h0M283.9 1493.4h0M284.3 1493.1h0M284.9 1492.9h0M285.8 1492.5h0M286.0 1492.8h0M286.2 1493.4h0M287.2 1492.6h0M287.3 1492.7h0M288.1 1492.5h0M288.2 1493.5h0M289.0 1493.4h0M289.0 1493.5h0M289.1 1492.7h0M289.7 1493.5h0M290.0 1493.4h0M290.3 1493.4h0M392.2 1492.7h0M393.9 1493.2h0M394.0 1492.9h0M395.2 1493.0h0M395.3 1493.3h0M395.9 1492.8h0M396.2 1493.2h0M397.7 1492.8h0M399.4 1492.9h0M399.6 1493.2h0M415.2 1493.2h0M268.0 1494.2h0M275.5 1494.5h0M283.6 1493.8h0M288.2 1494.3h0M289.3 1494.2h0M290.2 1494.4h0M290.5 1494.1h0M290.6 1493.6h0M391.7 1494.2h0M391.8 1494.1h0M391.9 1494.3h0M392.6 1493.8h0M392.7 1494.2h0M392.9 1494.4h0M394.7 1493.8h0M395.1 1493.6h0M395.9 1493.7h0M398.5 1494.2h0M401.9 1494.3h0M406.4 1493.8h0M418.7 1494.0h0M264.8 1495.3h0M266.9 1494.8h0M267.9 1494.6h0M271.3 1494.6h0M275.8 1494.8h0M276.0 1495.3h0M280.0 1495.3h0M284.2 1495.3h0M284.5 1494.6h0M284.8 1495.5h0M287.5 1495.2h0M287.6 1494.7h0M289.0 1494.8h0M289.1 1495.5h0M289.5 1495.4h0M289.8 1495.3h0M289.9 1494.9h0M290.7 1495.3h0M290.8 1494.7h0M291.0 1495.4h0M390.7 1495.4h0M391.7 1495.4h0M391.9 1495.2h0M394.9 1494.6h0M395.1 1495.0h0M395.3 1494.9h0M398.7 1494.7h0M410.2 1495.0h0M414.1 1495.2h0M417.5 1494.9h0M268.6 1496.1h0M269.4 1496.1h0M274.9 1495.7h0M276.0 1495.7h0M280.7 1496.4h0M285.3 1495.6h0M286.6 1496.1h0M286.9 1496.3h0M290.5 1495.7h0M290.9 1496.4h0M291.4 1496.0h0M390.6 1495.9h0M390.6 1495.7h0M391.5 1495.6h0M401.6 1496.1h0M401.8 1495.9h0M414.7 1496.5h0M416.7 1495.7h0M276.2 1496.9h0M276.3 1496.7h0M280.2 1496.7h0M281.0 1496.7h0M281.5 1497.4h0M285.0 1497.5h0M288.6 1497.0h0M289.2 1497.2h0M289.2 1496.6h0M290.2 1497.0h0M290.8 1496.7h0M292.0 1497.4h0M390.1 1496.9h0M390.2 1496.7h0M390.7 1496.8h0M393.3 1497.1h0M394.8 1497.5h0M396.8 1496.7h0M397.1 1496.8h0M398.1 1497.4h0M400.5 1497.4h0M402.0 1496.7h0M409.6 1497.2h0M413.0 1496.9h0M265.6 1498.5h0M265.9 1497.5h0M266.3 1497.8h0M269.3 1497.7h0M277.1 1498.2h0M288.1 1498.3h0M288.6 1497.8h0M288.8 1498.0h0M288.9 1497.6h0M290.1 1497.7h0M290.1 1498.1h0M290.5 1498.4h0M290.8 1497.9h0M291.3 1497.8h0M291.3 1498.1h0M391.2 1497.9h0M391.7 1497.5h0M392.1 1498.1h0M392.2 1497.8h0M392.6 1498.1h0M393.2 1497.9h0M394.5 1498.3h0M396.2 1498.4h0M396.2 1497.8h0M396.4 1497.6h0M396.7 1498.1h0M268.8 1498.8h0M275.9 1498.6h0M277.2 1498.7h0M287.1 1498.7h0M287.4 1499.1h0M288.3 1499.3h0M288.5 1499.3h0M288.6 1499.1h0M288.9 1498.8h0M289.3 1499.0h0M290.9 1499.3h0M291.0 1499.3h0M291.1 1499.2h0M291.7 1499.1h0M292.4 1499.1h0M292.4 1499.3h0M292.6 1499.1h0M389.5 1498.7h0M389.8 1498.8h0M390.0 1499.3h0M390.2 1499.3h0M391.1 1498.7h0M391.2 1499.2h0M391.9 1498.7h0M392.3 1499.4h0M392.6 1498.7h0M392.8 1499.1h0M394.5 1499.3h0M401.0 1498.7h0M414.8 1498.5h0M415.3 1499.1h0M416.0 1499.5h0M270.1 1500.4h0M272.8 1500.2h0M273.4 1500.1h0M273.7 1499.6h0M274.1 1499.9h0M274.7 1500.2h0M277.9 1500.2h0M285.2 1499.7h0M285.7 1500.3h0M286.0 1499.5h0M290.5 1499.5h0M290.7 1499.6h0M290.7 1500.4h0M291.3 1499.9h0M291.6 1500.0h0M292.6 1500.4h0M388.8 1500.3h0M389.1 1500.3h0M389.1 1500.0h0M389.1 1500.2h0M389.4 1500.0h0M389.9 1499.9h0M390.1 1500.3h0M390.4 1499.7h0M390.9 1499.9h0M391.1 1500.4h0M391.1 1499.6h0M391.5 1500.5h0M391.8 1499.7h0M392.4 1500.0h0M394.9 1500.4h0M395.0 1500.1h0M395.6 1499.7h0M396.3 1500.4h0M400.6 1499.7h0M404.2 1500.0h0M404.2 1499.8h0M407.7 1500.0h0M408.4 1499.6h0M408.8 1500.0h0M415.8 1499.6h0M274.0 1500.9h0M277.5 1500.8h0M278.5 1500.5h0M279.2 1501.3h0M286.1 1501.2h0M286.2 1501.0h0M286.3 1501.0h0M288.1 1501.4h0M288.9 1500.7h0M289.6 1500.8h0M290.1 1501.3h0M290.6 1500.7h0M293.1 1501.0h0M389.3 1500.5h0M389.7 1501.3h0M392.9 1500.7h0M396.0 1501.0h0M399.2 1500.9h0M399.6 1500.6h0M400.6 1501.0h0M403.5 1500.9h0M407.1 1500.6h0M267.8 1501.8h0M277.9 1501.8h0M282.4 1502.3h0M286.5 1501.8h0M286.8 1502.4h0M290.6 1502.4h0M291.6 1501.9h0M293.0 1501.9h0M293.2 1501.7h0M293.2 1502.4h0M293.4 1502.4h0M293.9 1502.1h0M389.2 1501.6h0M392.8 1501.8h0M392.9 1502.5h0M393.4 1502.3h0M395.0 1502.4h0M395.4 1501.9h0M395.6 1502.4h0M395.7 1502.3h0M395.7 1501.7h0M399.1 1502.4h0M411.4 1502.3h0M411.5 1501.8h0M414.5 1501.9h0M415.0 1502.4h0M270.3 1502.7h0M270.4 1503.4h0M270.8 1503.3h0M271.4 1502.9h0M278.6 1502.5h0M282.6 1503.2h0M282.8 1503.1h0M287.5 1503.5h0M290.5 1503.3h0M291.6 1502.8h0M291.8 1502.7h0M292.2 1502.9h0M292.9 1503.4h0M293.2 1503.2h0M293.3 1503.3h0M293.5 1503.4h0M388.1 1503.3h0M388.7 1503.4h0M389.2 1503.0h0M389.4 1502.6h0M389.8 1503.3h0M389.9 1503.1h0M391.1 1502.6h0M391.4 1503.0h0M391.5 1503.5h0M391.6 1503.3h0M392.4 1502.7h0M394.6 1503.5h0M395.6 1502.7h0M395.6 1503.1h0M403.8 1502.6h0M407.0 1502.7h0M407.8 1502.8h0M411.4 1502.7h0M413.6 1503.3h0M414.5 1502.8h0M414.6 1502.7h0M414.8 1502.9h0M271.0 1503.7h0M271.3 1503.7h0M283.2 1504.4h0M283.3 1503.6h0M283.8 1504.4h0M286.5 1504.1h0M287.5 1503.9h0M291.4 1504.0h0M291.5 1503.8h0M292.8 1504.1h0M293.1 1503.9h0M293.4 1504.4h0M293.9 1504.2h0M294.2 1503.5h0M294.5 1503.9h0M294.6 1504.0h0M387.8 1504.3h0M387.9 1504.2h0M388.4 1503.5h0M388.8 1504.0h0M389.0 1503.9h0M389.4 1504.4h0M389.7 1503.6h0M389.8 1503.7h0M390.2 1504.2h0M390.2 1504.4h0M390.7 1504.1h0M391.9 1504.4h0M391.9 1503.9h0M392.4 1504.0h0M392.5 1504.3h0M393.6 1504.5h0M394.7 1504.0h0M395.2 1503.6h0M399.6 1503.8h0M403.0 1503.8h0M406.3 1503.7h0M406.7 1503.9h0M410.0 1504.3h0M410.9 1503.9h0M411.2 1503.8h0M280.3 1504.9h0M283.1 1504.6h0M287.4 1505.1h0M287.7 1505.5h0M291.8 1505.0h0M292.2 1504.7h0M292.4 1504.8h0M292.5 1504.8h0M292.5 1504.5h0M294.1 1505.3h0M294.3 1504.6h0M294.5 1504.9h0M294.7 1504.8h0M387.2 1504.8h0M387.4 1505.3h0M388.3 1505.5h0M388.5 1505.1h0M388.8 1505.0h0M389.3 1505.3h0M390.3 1505.1h0M390.6 1505.2h0M390.7 1505.3h0M399.2 1505.3h0M401.6 1504.9h0M402.2 1505.4h0M268.8 1505.6h0M276.0 1506.1h0M276.2 1505.7h0M280.2 1506.2h0M283.0 1506.3h0M287.9 1506.1h0M289.8 1506.0h0M291.9 1505.9h0M292.1 1505.7h0M292.2 1506.0h0M292.7 1506.3h0M293.4 1505.7h0M293.5 1505.7h0M293.5 1505.7h0M294.0 1506.2h0M294.0 1505.9h0M294.9 1506.3h0M294.9 1505.6h0M387.7 1506.2h0M387.9 1506.0h0M388.1 1505.6h0M388.4 1506.1h0M389.6 1506.3h0M389.7 1506.4h0M390.7 1506.1h0M394.2 1505.6h0M394.4 1506.2h0M395.0 1506.0h0M398.3 1505.7h0M409.7 1505.8h0M409.9 1506.0h0M412.1 1506.3h0M413.3 1506.1h0M280.8 1507.4h0M284.5 1506.7h0M290.9 1507.0h0M291.9 1506.8h0M292.9 1507.4h0M293.1 1507.3h0M293.2 1506.9h0M294.2 1507.5h0M294.4 1507.4h0M294.5 1507.4h0M294.9 1507.4h0M295.0 1506.9h0M295.5 1506.7h0M295.5 1506.7h0M386.8 1507.1h0M386.8 1507.3h0M388.9 1507.1h0M389.2 1507.1h0M389.4 1507.3h0M389.5 1506.5h0M389.7 1506.7h0M389.9 1506.9h0M390.1 1507.2h0M390.6 1507.0h0M392.1 1507.1h0M392.2 1506.8h0M393.2 1507.3h0M393.7 1506.9h0M270.0 1507.6h0M272.5 1507.7h0M277.0 1507.7h0M281.3 1508.3h0M284.0 1508.3h0M284.2 1508.1h0M288.4 1507.5h0M288.8 1508.3h0M289.2 1507.6h0M290.2 1508.1h0M290.9 1507.6h0M291.8 1507.6h0M293.6 1508.4h0M294.2 1508.1h0M294.6 1507.7h0M294.8 1508.1h0M295.0 1508.0h0M295.5 1507.8h0M295.6 1507.8h0M295.7 1507.8h0M295.7 1508.2h0M385.8 1508.4h0M386.3 1508.2h0M386.7 1507.5h0M387.3 1507.6h0M387.9 1507.5h0M388.1 1508.0h0M388.5 1507.9h0M388.7 1507.7h0M390.0 1508.2h0M391.8 1508.2h0M393.0 1508.0h0M393.4 1508.1h0M393.7 1507.7h0M393.8 1508.1h0M397.4 1508.3h0M402.1 1507.8h0M405.4 1508.3h0M410.7 1507.6h0M411.9 1508.5h0M269.9 1508.6h0M273.6 1508.9h0M276.4 1509.1h0M278.0 1509.4h0M281.3 1508.9h0M281.5 1508.8h0M281.5 1509.1h0M281.8 1508.5h0M285.9 1509.4h0M288.9 1509.2h0M291.9 1509.3h0M294.0 1509.1h0M295.7 1508.7h0M295.7 1509.1h0M295.8 1509.0h0M296.4 1509.3h0M296.4 1509.0h0M296.4 1508.9h0M296.5 1509.0h0M386.3 1509.2h0M386.6 1508.6h0M386.6 1508.7h0M386.7 1509.1h0M386.7 1508.5h0M386.9 1509.5h0M386.9 1508.6h0M387.1 1509.4h0M388.4 1508.7h0M388.5 1508.7h0M388.5 1509.2h0M388.8 1508.9h0M389.2 1508.8h0M391.0 1509.3h0M392.3 1508.8h0M393.0 1508.8h0M396.2 1509.1h0M397.0 1508.7h0M401.0 1509.4h0M401.7 1509.0h0M408.4 1509.4h0M409.7 1508.6h0M276.7 1510.2h0M277.5 1510.0h0M282.5 1510.5h0M285.8 1509.5h0M289.7 1509.9h0M290.3 1509.5h0M291.5 1509.6h0M292.5 1510.4h0M294.1 1510.3h0M294.7 1510.3h0M294.8 1509.8h0M294.9 1510.0h0M295.3 1509.9h0M295.3 1510.4h0M295.5 1510.5h0M295.7 1510.0h0M295.7 1509.6h0M296.3 1510.4h0M296.7 1510.3h0M385.3 1510.2h0M385.8 1509.5h0M387.1 1509.8h0M387.6 1509.6h0M387.7 1509.5h0M388.8 1510.4h0M389.8 1510.4h0M392.4 1509.7h0M392.6 1510.3h0M392.7 1510.3h0M392.9 1509.8h0M393.0 1510.1h0M399.6 1510.1h0M400.5 1509.8h0M404.1 1509.9h0M404.2 1509.5h0M404.3 1510.1h0M405.1 1509.9h0M407.8 1510.2h0M407.9 1509.6h0M409.0 1509.5h0M409.3 1509.6h0M411.9 1510.4h0M273.9 1510.5h0M274.3 1510.6h0M277.9 1511.3h0M283.3 1511.4h0M285.5 1510.6h0M286.3 1511.4h0M286.8 1511.5h0M286.8 1510.8h0M287.1 1511.5h0M289.2 1511.2h0M289.9 1510.9h0M292.4 1510.6h0M293.3 1510.7h0M293.5 1511.2h0M294.2 1511.1h0M294.6 1510.9h0M295.2 1511.1h0M295.6 1511.3h0M295.7 1511.2h0M295.9 1510.5h0M297.1 1510.6h0M386.1 1511.1h0M386.2 1510.9h0M386.9 1511.2h0M387.5 1510.9h0M388.0 1511.3h0M388.8 1511.1h0M389.4 1511.4h0M390.1 1511.3h0M390.5 1510.9h0M391.6 1510.8h0M392.5 1511.0h0M392.6 1510.9h0M395.8 1510.5h0M396.0 1510.9h0M399.9 1511.0h0M408.5 1510.8h0M271.8 1512.1h0M275.4 1512.3h0M278.0 1511.5h0M278.1 1511.7h0M279.0 1511.8h0M283.6 1511.6h0M284.8 1511.7h0M290.6 1511.7h0M290.7 1512.1h0M293.4 1512.1h0M293.8 1511.8h0M294.1 1512.4h0M294.1 1511.8h0M294.5 1511.9h0M294.8 1511.9h0M295.7 1511.9h0M295.9 1512.3h0M296.2 1512.0h0M297.7 1511.8h0M384.4 1512.3h0M385.6 1512.3h0M386.0 1512.3h0M386.2 1512.5h0M386.3 1511.7h0M386.4 1511.8h0M386.8 1511.7h0M387.8 1512.1h0M388.0 1512.0h0M388.3 1511.6h0M388.4 1511.8h0M388.7 1511.8h0M390.2 1512.2h0M390.5 1511.9h0M391.1 1512.2h0M391.6 1511.7h0M391.9 1511.9h0M392.2 1511.8h0M394.3 1512.4h0M396.3 1511.8h0M399.5 1512.2h0M402.9 1512.1h0M275.4 1513.0h0M278.5 1512.6h0M282.5 1513.2h0M286.4 1512.5h0M287.1 1513.3h0M291.5 1513.3h0M291.7 1513.5h0M292.9 1513.5h0M292.9 1512.9h0M294.7 1512.7h0M295.0 1513.5h0M295.2 1512.6h0M295.4 1513.0h0M295.4 1512.8h0M295.7 1512.8h0M296.1 1512.7h0M296.2 1513.0h0M297.0 1512.7h0M297.8 1512.9h0M297.8 1512.7h0M298.2 1513.4h0M384.1 1513.3h0M384.2 1512.8h0M384.2 1513.4h0M385.0 1513.2h0M385.1 1513.3h0M385.3 1513.1h0M385.4 1512.6h0M385.6 1513.3h0M386.1 1513.5h0M386.6 1512.9h0M387.5 1513.1h0M388.1 1512.7h0M388.7 1513.2h0M388.9 1513.3h0M394.5 1512.7h0M399.2 1512.9h0M271.1 1513.7h0M271.7 1513.5h0M274.2 1514.4h0M275.1 1514.1h0M278.8 1513.6h0M286.5 1514.2h0M291.4 1513.6h0M292.5 1513.7h0M293.6 1514.3h0M294.3 1514.2h0M294.3 1514.2h0M294.9 1514.0h0M295.4 1513.8h0M295.4 1514.0h0M297.1 1514.0h0M297.1 1514.3h0M297.2 1513.7h0M298.3 1513.6h0M298.3 1514.1h0M298.5 1514.5h0M384.5 1514.5h0M384.5 1513.6h0M385.7 1514.5h0M386.4 1514.3h0M387.0 1513.9h0M387.0 1514.4h0M387.7 1513.7h0M390.1 1513.9h0M390.9 1513.6h0M391.1 1513.5h0M394.5 1513.8h0M395.3 1513.7h0M397.8 1513.6h0M398.9 1513.6h0M403.1 1513.9h0M403.2 1514.0h0M407.5 1514.2h0M271.8 1514.9h0M274.8 1515.4h0M276.2 1515.1h0M283.1 1515.3h0M287.4 1514.8h0M288.1 1514.8h0M291.8 1514.5h0M292.0 1515.2h0M292.5 1515.0h0M294.7 1515.3h0M295.0 1515.1h0M295.2 1514.6h0M295.5 1515.2h0M295.8 1514.5h0M296.1 1514.9h0M296.6 1514.7h0M297.5 1514.7h0M297.9 1514.8h0M298.2 1515.5h0M298.4 1515.1h0M298.6 1515.2h0M298.6 1515.1h0M298.8 1514.9h0M384.4 1515.4h0M384.5 1514.7h0M384.6 1515.2h0M384.6 1515.2h0M385.2 1515.2h0M385.9 1514.6h0M386.0 1515.0h0M386.1 1514.8h0M387.4 1515.4h0M387.9 1515.1h0M388.3 1514.6h0M389.3 1514.9h0M389.4 1514.6h0M389.5 1515.2h0M393.7 1515.4h0M398.0 1514.9h0M398.8 1515.4h0M399.7 1514.5h0M406.8 1515.0h0M272.7 1516.4h0M280.1 1516.3h0M284.8 1516.5h0M291.6 1516.1h0M291.9 1516.1h0M292.1 1515.6h0M292.5 1515.7h0M292.5 1516.1h0M292.5 1516.5h0M292.6 1515.8h0M296.0 1515.7h0M297.2 1516.4h0M297.3 1516.4h0M297.3 1516.5h0M297.3 1515.7h0M297.4 1515.5h0M297.4 1515.8h0M297.9 1516.3h0M298.1 1516.0h0M298.2 1516.2h0M298.5 1515.5h0M298.6 1516.2h0M299.1 1515.6h0M383.0 1516.3h0M383.0 1516.3h0M383.5 1515.8h0M383.6 1515.9h0M384.4 1516.2h0M384.7 1515.6h0M385.0 1515.8h0M385.7 1516.3h0M386.7 1515.9h0M387.2 1515.8h0M387.7 1515.8h0M389.6 1515.7h0M390.1 1515.7h0M390.2 1515.7h0M390.7 1516.0h0M391.3 1516.0h0M397.8 1516.0h0M398.0 1516.3h0M402.0 1516.2h0M403.0 1516.0h0M409.1 1516.3h0M272.7 1516.9h0M273.5 1517.5h0M283.1 1517.0h0M288.1 1516.7h0M288.1 1517.2h0M291.3 1516.9h0M292.4 1516.6h0M294.6 1516.8h0M295.5 1516.7h0M295.8 1517.0h0M296.1 1516.7h0M296.2 1516.8h0M296.4 1516.9h0M297.7 1516.5h0M298.5 1517.3h0M298.5 1517.5h0M298.8 1516.9h0M298.9 1516.8h0M299.5 1517.4h0M382.5 1517.0h0M383.9 1516.7h0M384.4 1517.5h0M384.6 1517.2h0M384.6 1517.4h0M385.4 1517.4h0M385.4 1517.3h0M385.8 1516.8h0M388.6 1516.8h0M388.8 1516.6h0M389.6 1516.6h0M389.7 1517.4h0M389.7 1517.0h0M390.4 1517.4h0M393.7 1517.1h0M401.9 1517.2h0M405.3 1517.0h0M405.5 1516.6h0M406.4 1516.6h0M409.2 1516.6h0M273.8 1517.5h0M274.1 1517.8h0M277.1 1518.0h0M277.1 1517.8h0M287.8 1517.5h0M288.8 1518.4h0M292.5 1517.7h0M292.5 1517.6h0M292.8 1518.2h0M293.2 1518.3h0M293.5 1517.6h0M295.1 1517.7h0M295.3 1518.1h0M295.9 1517.9h0M298.0 1517.6h0M298.2 1518.1h0M299.2 1518.0h0M299.2 1518.1h0M299.2 1518.1h0M299.6 1517.6h0M300.0 1518.0h0M383.0 1517.7h0M383.1 1518.0h0M384.2 1517.8h0M384.3 1517.6h0M384.3 1518.3h0M384.4 1518.0h0M384.4 1518.2h0M384.6 1517.6h0M385.0 1517.6h0M387.1 1518.1h0M388.1 1517.8h0M388.7 1518.4h0M389.1 1517.8h0M390.1 1517.9h0M393.4 1517.8h0M397.4 1518.3h0M397.4 1517.9h0M397.7 1518.1h0M405.2 1517.8h0M405.3 1518.3h0M408.0 1518.4h0M273.1 1518.8h0M275.5 1519.5h0M280.9 1519.4h0M281.3 1519.0h0M289.3 1518.7h0M289.9 1518.6h0M292.9 1518.7h0M293.3 1518.6h0M294.1 1519.4h0M294.3 1518.5h0M295.3 1518.7h0M295.9 1519.4h0M296.7 1519.3h0M299.7 1518.6h0M299.9 1518.7h0M300.4 1519.0h0M382.1 1518.6h0M382.6 1518.6h0M383.1 1518.6h0M383.2 1518.5h0M383.4 1518.8h0M383.4 1518.9h0M383.5 1519.0h0M383.5 1519.3h0M383.9 1518.5h0M384.0 1518.8h0M384.0 1519.3h0M385.0 1518.9h0M385.6 1518.7h0M386.2 1519.5h0M386.5 1519.1h0M387.6 1519.4h0M387.9 1519.2h0M388.1 1518.7h0M393.6 1519.1h0M393.9 1519.4h0M398.1 1518.7h0M401.0 1519.3h0M273.5 1519.8h0M277.4 1520.4h0M284.2 1519.9h0M284.6 1520.0h0M285.7 1519.5h0M289.3 1519.7h0M289.6 1520.0h0M293.8 1519.7h0M293.8 1520.2h0M295.1 1520.4h0M296.9 1520.2h0M297.7 1519.5h0M298.1 1519.7h0M298.3 1520.1h0M298.6 1520.3h0M299.3 1519.9h0M299.5 1520.4h0M299.5 1519.8h0M300.0 1519.7h0M300.0 1519.6h0M300.2 1520.5h0M300.4 1519.6h0M300.7 1520.0h0M300.7 1520.4h0M382.4 1519.7h0M382.5 1520.3h0M383.5 1519.5h0M385.9 1520.2h0M388.3 1519.9h0M388.7 1519.9h0M388.9 1519.6h0M389.3 1520.2h0M392.1 1519.8h0M392.6 1520.4h0M393.0 1519.5h0M395.9 1520.5h0M396.3 1519.9h0M396.7 1520.1h0M397.0 1519.7h0M399.7 1520.1h0M401.6 1520.4h0M404.1 1520.4h0M404.9 1520.1h0M274.0 1520.6h0M277.9 1520.7h0M277.9 1520.8h0M278.8 1521.3h0M281.8 1520.7h0M282.1 1521.0h0M285.5 1520.7h0M285.7 1521.0h0M286.0 1520.8h0M293.4 1520.6h0M294.2 1520.7h0M294.2 1521.2h0M294.3 1521.5h0M294.4 1521.5h0M294.5 1521.3h0M294.6 1521.4h0M294.7 1520.6h0M294.9 1520.8h0M295.2 1520.5h0M295.5 1521.2h0M295.6 1521.0h0M296.4 1521.4h0M296.7 1520.6h0M297.1 1520.9h0M297.3 1521.2h0M297.4 1521.4h0M298.5 1520.8h0M298.9 1521.4h0M299.3 1521.3h0M299.4 1520.8h0M299.5 1520.6h0M299.6 1520.6h0M300.0 1521.2h0M300.2 1521.4h0M300.5 1521.5h0M301.1 1520.8h0M381.1 1521.2h0M381.2 1520.7h0M381.5 1521.1h0M381.6 1520.7h0M381.6 1520.9h0M381.8 1520.9h0M382.4 1521.4h0M382.4 1521.1h0M382.5 1520.9h0M382.8 1521.2h0M382.9 1521.2h0M382.9 1521.3h0M383.2 1520.9h0M383.2 1521.1h0M383.5 1521.4h0M383.8 1520.6h0M384.1 1520.9h0M384.4 1521.5h0M385.3 1521.0h0M388.4 1520.8h0M388.4 1521.4h0M388.5 1520.9h0M388.8 1520.9h0M389.0 1521.3h0M396.0 1520.8h0M396.2 1521.1h0M396.9 1520.6h0M396.9 1520.7h0M403.8 1520.8h0M405.1 1520.7h0M406.6 1521.1h0M274.6 1521.5h0M278.9 1522.4h0M283.6 1522.0h0M290.3 1521.5h0M294.0 1521.6h0M294.6 1521.7h0M297.8 1522.0h0M298.2 1522.2h0M298.4 1521.6h0M299.4 1522.3h0M299.6 1521.9h0M299.7 1522.2h0M299.8 1522.3h0M300.3 1521.7h0M300.7 1522.5h0M300.8 1522.5h0M300.9 1522.2h0M381.2 1522.2h0M381.2 1522.1h0M381.5 1521.6h0M382.1 1522.4h0M382.1 1521.8h0M382.2 1522.3h0M382.2 1521.5h0M382.5 1521.6h0M383.5 1521.8h0M385.0 1522.0h0M386.0 1521.8h0M386.1 1522.3h0M387.9 1522.2h0M388.6 1522.5h0M388.8 1521.8h0M392.3 1522.1h0M395.7 1522.3h0M395.8 1522.3h0M399.4 1522.2h0M404.1 1521.7h0M404.2 1521.7h0M408.1 1521.5h0M275.9 1522.7h0M286.6 1523.2h0M290.5 1523.3h0M290.8 1523.1h0M293.9 1522.8h0M293.9 1523.4h0M294.3 1522.8h0M294.7 1522.6h0M295.3 1523.2h0M295.9 1523.0h0M296.6 1522.9h0M298.4 1522.5h0M298.6 1522.8h0M299.2 1523.3h0M299.2 1522.5h0M299.4 1522.7h0M299.5 1523.3h0M299.6 1523.0h0M299.8 1522.7h0M300.1 1522.6h0M300.2 1523.5h0M300.4 1522.5h0M300.4 1523.2h0M300.8 1523.0h0M300.9 1522.8h0M301.1 1522.6h0M301.2 1522.9h0M301.3 1522.6h0M301.4 1523.0h0M301.4 1522.9h0M301.5 1523.2h0M301.8 1523.3h0M302.0 1522.9h0M380.4 1523.4h0M380.5 1523.3h0M380.7 1522.8h0M380.8 1522.6h0M380.9 1523.5h0M381.1 1523.3h0M381.9 1522.8h0M382.2 1522.7h0M382.3 1523.0h0M382.7 1523.0h0M382.9 1523.4h0M383.2 1523.0h0M383.7 1522.8h0M385.0 1522.7h0M386.0 1523.1h0M386.1 1523.1h0M386.6 1523.0h0M387.3 1523.1h0M387.5 1523.5h0M387.5 1523.2h0M387.7 1523.3h0M387.7 1522.8h0M391.1 1523.3h0M395.5 1522.8h0M395.6 1523.4h0M400.3 1522.9h0M404.4 1523.2h0M405.9 1523.2h0M275.9 1523.9h0M276.1 1523.8h0M276.7 1523.7h0M279.3 1524.2h0M279.8 1524.1h0M282.4 1523.8h0M286.8 1524.4h0M286.8 1523.8h0M287.4 1524.1h0M290.7 1524.4h0M294.1 1523.6h0M294.8 1524.4h0M295.4 1523.6h0M295.7 1524.0h0M296.0 1524.4h0M298.8 1524.4h0M299.1 1524.2h0M299.2 1524.4h0M299.7 1523.7h0M300.1 1523.9h0M300.2 1523.9h0M300.6 1523.8h0M300.7 1524.3h0M301.3 1524.5h0M301.8 1523.8h0M302.0 1524.5h0M302.3 1524.3h0M302.4 1523.9h0M380.3 1523.8h0M380.5 1523.9h0M380.6 1524.1h0M381.6 1524.0h0M381.6 1523.8h0M381.7 1524.4h0M381.8 1524.2h0M382.2 1523.7h0M382.2 1524.3h0M382.8 1524.2h0M382.9 1524.1h0M383.5 1524.5h0M383.5 1524.0h0M384.9 1523.5h0M385.5 1524.1h0M386.8 1523.6h0M387.0 1524.3h0M387.3 1524.1h0M387.5 1523.7h0M391.2 1524.2h0M391.7 1523.8h0M395.3 1523.8h0M395.4 1523.9h0M395.6 1524.3h0M395.9 1524.0h0M399.0 1523.6h0M399.2 1524.0h0M399.3 1523.6h0M399.6 1523.6h0M402.8 1524.5h0M403.2 1523.7h0M278.6 1525.0h0M280.1 1524.7h0M292.2 1525.4h0M295.6 1524.7h0M295.7 1524.7h0M295.7 1525.3h0M296.4 1524.6h0M298.1 1524.9h0M299.1 1524.6h0M299.4 1524.6h0M300.3 1524.7h0M300.5 1524.6h0M301.3 1525.1h0M301.6 1525.0h0M302.1 1524.9h0M302.2 1525.2h0M302.2 1524.7h0M302.5 1525.4h0M379.6 1525.0h0M379.6 1524.6h0M379.6 1524.6h0M379.8 1525.3h0M379.9 1525.3h0M380.4 1525.2h0M380.5 1525.0h0M380.8 1524.9h0M381.4 1524.7h0M381.7 1525.3h0M382.1 1524.7h0M382.3 1525.4h0M382.4 1524.7h0M382.4 1524.8h0M382.9 1525.0h0M383.0 1524.6h0M383.8 1524.5h0M384.1 1524.5h0M384.2 1524.7h0M385.3 1524.6h0M386.5 1524.7h0M386.6 1524.8h0M390.3 1524.8h0M395.0 1524.9h0M398.2 1524.7h0M398.9 1525.0h0M402.5 1524.9h0M405.8 1525.2h0M406.2 1525.0h0M406.6 1524.9h0M406.7 1524.7h0M277.2 1526.1h0M279.0 1525.6h0M279.5 1525.6h0M279.8 1526.4h0M280.3 1526.3h0M283.5 1526.3h0M287.3 1525.5h0M288.3 1526.0h0M295.5 1525.7h0M295.5 1526.0h0M296.0 1526.4h0M296.6 1525.9h0M296.9 1525.6h0M297.2 1525.8h0M298.0 1526.2h0M299.4 1525.5h0M299.9 1526.4h0M300.4 1526.3h0M301.0 1526.0h0M301.4 1525.9h0M301.6 1526.2h0M301.8 1526.3h0M301.8 1525.5h0M302.9 1526.2h0M303.0 1526.4h0M303.2 1526.0h0M379.2 1526.3h0M379.6 1526.3h0M379.7 1526.3h0M379.8 1525.7h0M380.0 1525.7h0M380.0 1525.6h0M380.4 1526.1h0M380.9 1525.8h0M380.9 1525.7h0M381.0 1526.5h0M381.0 1525.8h0M381.1 1526.4h0M381.5 1525.5h0M381.5 1525.6h0M382.0 1526.3h0M383.5 1526.0h0M383.8 1525.7h0M384.3 1526.3h0M385.8 1526.4h0M386.4 1525.9h0M390.1 1526.2h0M390.5 1526.1h0M390.9 1526.0h0M393.5 1526.1h0M394.3 1525.9h0M397.4 1526.3h0M398.3 1525.8h0M398.3 1526.2h0M398.6 1526.1h0M402.2 1525.8h0M402.4 1525.9h0M402.8 1526.2h0M402.8 1525.5h0M404.1 1525.7h0M405.5 1525.8h0M276.5 1527.1h0M277.1 1526.8h0M277.9 1527.1h0M279.4 1527.1h0M280.5 1527.0h0M280.8 1527.1h0M282.3 1527.1h0M283.7 1527.1h0M284.6 1526.9h0M285.2 1527.1h0M286.6 1527.1h0M288.1 1527.1h0M289.5 1527.1h0M291.0 1527.1h0M292.4 1527.1h0M293.9 1527.1h0M295.3 1527.1h0M296.8 1527.1h0M298.2 1527.1h0M298.8 1527.1h0M299.7 1527.1h0M300.0 1526.6h0M300.6 1527.0h0M300.8 1526.7h0M301.0 1527.1h0M301.1 1527.1h0M301.7 1526.8h0M302.4 1526.8h0M302.5 1526.6h0M302.6 1527.1h0M304.1 1527.1h0M305.5 1527.1h0M307.0 1527.1h0M308.4 1527.1h0M309.9 1527.1h0M311.3 1527.1h0M312.8 1527.1h0M314.2 1527.1h0M315.7 1527.1h0M317.1 1527.1h0M318.6 1527.1h0M320.0 1527.1h0M321.5 1527.1h0M322.9 1527.1h0M324.4 1527.1h0M325.8 1527.1h0M327.3 1527.1h0M328.7 1527.1h0M330.2 1527.1h0M331.6 1527.1h0M333.1 1527.1h0M334.5 1527.1h0M336.0 1527.1h0M337.4 1527.1h0M338.9 1527.1h0M340.3 1527.1h0M341.8 1527.1h0M343.2 1527.1h0M344.7 1527.1h0M346.1 1527.1h0M347.6 1527.1h0M349.0 1527.1h0M350.5 1527.1h0M351.9 1527.1h0M353.4 1527.1h0M354.8 1527.1h0M356.3 1527.1h0M357.7 1527.1h0M359.2 1527.1h0M360.6 1527.1h0M362.1 1527.1h0M363.5 1527.1h0M365.0 1527.1h0M366.4 1527.1h0M367.9 1527.1h0M369.3 1527.1h0M370.8 1527.1h0M372.2 1527.1h0M373.7 1527.1h0M375.1 1527.1h0M376.6 1527.1h0M378.0 1527.1h0M379.1 1527.0h0M379.1 1526.6h0M379.5 1527.1h0M379.7 1527.0h0M379.8 1526.5h0M380.2 1526.5h0M380.4 1526.5h0M380.9 1527.1h0M381.4 1526.7h0M381.5 1526.8h0M381.9 1527.1h0M381.9 1526.9h0M382.0 1526.8h0M382.4 1527.1h0M382.5 1526.9h0M383.8 1527.1h0M385.3 1527.1h0M386.7 1527.1h0M387.1 1527.0h0M388.2 1527.1h0M389.6 1527.1h0M389.9 1527.0h0M391.1 1527.1h0M392.5 1527.1h0M394.0 1527.1h0M395.4 1527.1h0M396.9 1527.1h0M397.4 1527.1h0M398.3 1527.1h0M399.8 1527.1h0M401.2 1527.1h0M401.9 1526.8h0M402.7 1527.1h0M404.1 1527.1h0M405.2 1526.8h0M405.6 1527.1h0M407.0 1527.1h0" stroke="#c6c6c6" stroke-width="3.9" fill="none" stroke-linecap="round"/>
<circle cx="504.6" cy="1213.6" r="2.3" fill="#1b7a34"/>
<text x="442.9" y="1220.4">AXL</text>
<circle cx="220.4" cy="1310.7" r="2.3" fill="#1b7a34"/>
<text x="228.3" y="1304.3">SOX10</text>
<circle cx="446.4" cy="1348.9" r="2.3" fill="#1b7a34"/>
<text x="363.3" y="1342.9">EGFR</text>
<circle cx="297.5" cy="1516.1" r="2.3" fill="#1b7a34"/>
<text x="303.6" y="1506.2">MITF</text>
<rect x="159.6" y="1189.3" width="392.2" height="350.7" fill="none" stroke="#000" stroke-width="1.4"/>
<text transform="translate(142.3 1528.3) rotate(-90)" text-anchor="middle">0</text>
<text transform="translate(142.3 1448.9) rotate(-90)" text-anchor="middle">1</text>
<text transform="translate(142.3 1369.5) rotate(-90)" text-anchor="middle">2</text>
<text transform="translate(142.3 1290.1) rotate(-90)" text-anchor="middle">3</text>
<text transform="translate(142.3 1210.7) rotate(-90)" text-anchor="middle">4</text>
<text x="186.6" y="1578.6" font-size="27" text-anchor="middle">-10</text>
<text x="259.6" y="1578.6" font-size="27" text-anchor="middle">-5</text>
<text x="342" y="1578.6" font-size="27" text-anchor="middle">0</text>
<text x="418.4" y="1578.6" font-size="27" text-anchor="middle">5</text>
<text x="499.5" y="1578.6" font-size="27" text-anchor="middle">10</text>
<path d="M159.6 1527.1h-8.6M159.6 1447.7h-8.6M159.6 1368.3h-8.6M159.6 1288.9h-8.6M159.6 1209.5h-8.6M187.4 1540v8.4M264.2 1540v8.4M341 1540v8.4M417.8 1540v8.4M494.6 1540v8.4" stroke="#000" stroke-width="1.4" fill="none"/>
<text transform="translate(96.4 1368.3) rotate(-90)" text-anchor="middle" textLength="191" lengthAdjust="spacing">-log<tspan dy="7.65" font-size="14.79">10</tspan><tspan dy="-7.65"> adj </tspan><tspan font-style="italic">p</tspan> value</text>
<text x="259.6" y="1615" textLength="191" lengthAdjust="spacing">Log<tspan dy="7.65" font-size="14.79">2</tspan><tspan dy="-7.65"> fold change</tspan></text>
<text x="162.2" y="1646.4" textLength="387" lengthAdjust="spacing">(SKMEL28-YAP<tspan dy="-8.8" font-size="14.79">5SA</tspan><tspan dy="8.8">/SKMEL28-EV)</tspan></text>
<path d="M1124.5 1202.2h0M1131.6 1202.2h0M1138.6 1202.2h0M1121.0 1202.9h0M1128.0 1202.9h0M1135.1 1202.9h0M1142.1 1202.9h0M1117.5 1206.5h0M1121.7 1209.3h0M1114.6 1210.8h0M1117.5 1212.2h0M1125.9 1213.6h0M1113.2 1215.0h0M779.3 1215.7h0M782.6 1220.7h0M1111.1 1220.7h0M1123.1 1220.7h0M1118.9 1226.4h0M792.5 1227.8h0M796.0 1227.8h0M1104.8 1227.8h0M800.2 1229.3h0M798.1 1231.4h0M786.1 1232.8h0M1102.0 1232.8h0M802.3 1233.5h0M1116.0 1233.5h0M788.9 1235.0h0M1107.6 1235.0h0M1099.1 1236.4h0M804.4 1238.5h0M1113.2 1240.7h0M1094.3 1243.1h0M1095.8 1243.2h0M1096.8 1242.5h0M1094.4 1243.6h0M1105.8 1243.7h0M1114.6 1244.9h0M1099.0 1245.7h0M1103.9 1246.6h0M805.9 1247.8h0M810.1 1249.2h0M1094.5 1249.2h0M1096.3 1249.2h0M1098.2 1249.1h0M1104.4 1248.6h0M1092.4 1249.8h0M1093.2 1249.9h0M1094.1 1250.0h0M1105.0 1250.7h0M793.2 1252.1h0M1119.1 1251.8h0M812.9 1252.8h0M1091.4 1253.5h0M1099.7 1253.3h0M1090.4 1254.1h0M1090.6 1253.9h0M1092.5 1254.2h0M1093.8 1253.7h0M1101.8 1254.1h0M1090.5 1255.4h0M1092.1 1254.9h0M1089.3 1256.3h0M1092.0 1255.6h0M1092.6 1256.1h0M1094.9 1255.7h0M1095.0 1256.2h0M1107.6 1256.3h0M1098.2 1257.4h0M1088.7 1259.3h0M1089.3 1259.5h0M814.3 1259.9h0M1089.7 1260.1h0M1087.8 1260.7h0M1103.4 1262.0h0M815.7 1263.5h0M1086.4 1263.2h0M1089.0 1263.0h0M1105.4 1263.8h0M1087.4 1264.8h0M1089.2 1265.1h0M1090.6 1266.0h0M1095.7 1266.1h0M1086.4 1270.3h0M1087.3 1270.0h0M1089.4 1270.4h0M812.2 1270.6h0M1088.4 1270.7h0M815.0 1272.4h0M824.3 1272.2h0M825.0 1272.3h0M1096.4 1271.7h0M812.7 1273.0h0M1086.8 1272.8h0M1095.5 1273.2h0M812.0 1274.0h0M818.5 1274.2h0M1086.5 1273.8h0M1089.6 1274.2h0M812.5 1274.7h0M820.1 1274.8h0M825.1 1274.6h0M1088.5 1275.2h0M1099.9 1275.2h0M813.0 1275.7h0M821.5 1277.0h0M825.2 1276.8h0M1084.5 1277.1h0M1086.6 1277.0h0M1092.4 1277.4h0M820.0 1277.7h0M825.7 1277.9h0M1086.0 1277.8h0M817.1 1279.1h0M822.7 1278.8h0M1084.6 1278.9h0M1094.5 1278.5h0M827.0 1279.7h0M1093.2 1279.9h0M814.3 1281.3h0M824.1 1280.5h0M825.1 1280.6h0M827.6 1281.7h0M1079.6 1281.6h0M1080.0 1282.3h0M1085.0 1282.4h0M814.9 1283.4h0M821.2 1283.3h0M828.3 1283.2h0M1085.1 1283.0h0M1085.2 1283.3h0M1079.4 1283.8h0M1081.7 1283.6h0M1082.4 1284.2h0M822.8 1284.8h0M827.8 1284.6h0M828.1 1285.1h0M1088.1 1286.1h0M825.8 1286.6h0M826.7 1287.1h0M829.7 1286.8h0M1078.7 1287.1h0M1079.3 1287.3h0M1080.4 1287.4h0M1082.1 1287.3h0M1092.3 1286.8h0M819.5 1288.5h0M828.1 1288.1h0M829.1 1288.5h0M829.8 1287.7h0M830.0 1288.2h0M828.3 1288.5h0M1078.1 1289.3h0M1079.4 1288.6h0M1079.8 1288.8h0M1083.6 1288.7h0M831.6 1289.6h0M1080.5 1290.1h0M824.2 1290.5h0M1077.7 1290.8h0M1096.1 1291.3h0M827.0 1292.3h0M827.0 1292.0h0M822.1 1292.8h0M822.8 1292.7h0M831.6 1293.0h0M831.7 1293.1h0M1078.9 1293.3h0M830.1 1294.1h0M831.6 1294.0h0M1078.9 1294.5h0M832.9 1295.3h0M833.4 1294.8h0M1076.0 1295.3h0M1078.8 1295.5h0M832.7 1295.6h0M833.3 1296.2h0M833.7 1295.5h0M1074.3 1295.8h0M1079.7 1295.8h0M833.4 1296.7h0M1079.3 1297.1h0M827.5 1299.1h0M828.3 1299.0h0M831.2 1298.5h0M1074.2 1299.3h0M817.7 1299.6h0M835.5 1300.5h0M1085.8 1300.1h0M1088.1 1300.3h0M819.4 1301.2h0M821.9 1300.8h0M834.3 1300.5h0M835.5 1301.0h0M1073.7 1300.7h0M818.5 1301.9h0M825.0 1301.6h0M1072.3 1302.0h0M822.8 1302.7h0M831.0 1302.7h0M1078.3 1302.7h0M1082.1 1303.0h0M816.4 1303.6h0M1072.6 1303.6h0M1074.2 1304.2h0M833.2 1305.1h0M833.7 1304.7h0M1070.7 1304.6h0M1074.1 1305.1h0M819.5 1306.0h0M819.6 1305.6h0M825.6 1306.2h0M1069.8 1306.2h0M1071.0 1306.5h0M1071.6 1306.2h0M1079.5 1306.5h0M836.7 1307.1h0M1072.7 1307.0h0M1069.1 1308.3h0M1077.2 1308.6h0M1085.9 1309.2h0M1068.9 1309.7h0M1074.5 1310.8h0M831.1 1312.4h0M833.5 1312.0h0M839.8 1311.6h0M840.4 1312.3h0M1068.0 1311.6h0M1070.4 1311.9h0M837.5 1313.3h0M840.6 1313.0h0M1070.3 1313.3h0M1071.5 1313.3h0M1072.8 1312.7h0M1073.6 1312.7h0M833.9 1314.4h0M1068.9 1314.2h0M1079.7 1313.9h0M1066.8 1315.4h0M1067.5 1315.4h0M1068.5 1315.0h0M829.2 1316.3h0M840.0 1315.8h0M1068.6 1316.3h0M1084.4 1315.7h0M837.3 1317.0h0M839.3 1316.5h0M1067.3 1316.6h0M1082.9 1317.0h0M822.4 1317.8h0M836.6 1318.2h0M837.5 1317.9h0M838.8 1318.5h0M841.8 1318.1h0M842.1 1317.5h0M842.1 1318.0h0M1067.8 1317.5h0M1069.1 1318.0h0M1076.9 1317.7h0M836.1 1319.0h0M842.3 1319.1h0M1065.8 1318.7h0M1066.8 1318.9h0M1077.1 1319.0h0M1084.6 1319.3h0M839.4 1319.7h0M840.7 1319.6h0M842.5 1319.7h0M1066.3 1319.8h0M1069.6 1319.9h0M1070.3 1319.9h0M839.9 1320.5h0M1071.3 1320.5h0M819.5 1322.0h0M828.0 1322.3h0M837.9 1323.1h0M840.5 1323.5h0M844.0 1322.6h0M1064.3 1323.5h0M1064.5 1322.9h0M1067.7 1323.0h0M1072.3 1322.6h0M1076.8 1323.2h0M825.8 1323.8h0M842.4 1323.6h0M843.5 1323.6h0M843.8 1323.5h0M1064.8 1323.7h0M837.1 1324.6h0M841.5 1325.4h0M841.7 1325.3h0M842.0 1325.3h0M843.1 1324.7h0M844.1 1325.0h0M844.3 1324.5h0M1063.0 1324.6h0M1081.9 1325.1h0M829.3 1326.0h0M835.1 1326.0h0M839.6 1325.9h0M1063.4 1326.0h0M1065.6 1326.5h0M827.8 1326.7h0M844.0 1327.4h0M844.4 1327.1h0M1063.3 1326.7h0M1066.6 1326.8h0M1075.4 1326.9h0M842.5 1328.0h0M844.6 1328.0h0M845.6 1328.2h0M1082.7 1327.5h0M845.6 1329.2h0M1061.2 1329.1h0M1062.8 1329.1h0M1064.6 1328.7h0M1064.7 1329.0h0M838.5 1330.2h0M1063.4 1330.5h0M1063.9 1330.3h0M842.9 1330.9h0M1062.4 1331.3h0M1064.5 1330.9h0M842.4 1332.2h0M1067.9 1332.1h0M844.9 1332.7h0M1062.3 1332.8h0M846.2 1334.1h0M1069.3 1333.8h0M1076.9 1333.5h0M829.8 1335.3h0M837.0 1334.5h0M842.6 1334.5h0M847.2 1335.2h0M848.3 1335.0h0M1060.8 1335.3h0M841.4 1335.6h0M843.3 1335.9h0M843.5 1335.9h0M1058.7 1335.9h0M1059.2 1336.2h0M1061.4 1335.9h0M1061.8 1336.3h0M1070.2 1336.1h0M849.4 1336.9h0M849.7 1336.9h0M1059.3 1336.9h0M1060.8 1337.1h0M1061.9 1336.6h0M1072.1 1336.9h0M839.3 1338.2h0M1058.6 1338.3h0M1062.5 1338.5h0M1059.5 1338.9h0M1069.9 1339.1h0M1076.3 1339.4h0M832.2 1340.2h0M849.9 1340.4h0M1061.4 1339.8h0M1080.6 1339.8h0M837.1 1341.3h0M850.4 1341.5h0M1057.8 1340.5h0M850.4 1342.1h0M851.3 1341.8h0M838.2 1343.0h0M850.8 1343.4h0M1062.1 1343.2h0M1063.6 1342.5h0M835.9 1343.7h0M847.8 1344.2h0M1055.3 1343.6h0M852.5 1345.3h0M852.6 1345.0h0M1055.9 1344.5h0M841.8 1346.1h0M850.1 1345.5h0M1054.6 1345.9h0M1068.3 1346.2h0M847.6 1346.7h0M851.0 1346.7h0M853.0 1347.5h0M1055.2 1346.9h0M1056.4 1347.2h0M848.2 1347.8h0M1057.9 1348.0h0M1058.3 1348.1h0M845.3 1348.9h0M852.8 1349.5h0M853.6 1348.5h0M854.2 1349.4h0M1053.8 1348.8h0M1056.8 1349.1h0M1057.1 1348.8h0M841.3 1349.8h0M854.1 1350.4h0M855.3 1350.3h0M1053.9 1350.1h0M1054.8 1349.9h0M1070.6 1349.8h0M1072.7 1350.3h0M1053.5 1351.5h0M837.8 1352.4h0M853.0 1352.2h0M1053.2 1351.6h0M1054.6 1351.5h0M850.1 1353.1h0M855.0 1352.7h0M855.8 1352.9h0M855.8 1352.8h0M1052.3 1353.3h0M1053.6 1353.1h0M1054.0 1352.8h0M1063.0 1353.4h0M1063.4 1353.0h0M847.4 1353.5h0M852.9 1353.8h0M836.4 1355.2h0M846.1 1354.6h0M852.9 1355.3h0M854.4 1355.0h0M856.2 1355.1h0M1051.6 1355.3h0M1053.3 1355.4h0M1054.3 1355.1h0M1069.8 1355.3h0M833.2 1355.8h0M852.8 1356.2h0M1050.6 1356.4h0M1054.0 1356.0h0M1054.4 1356.0h0M1065.0 1356.1h0M839.9 1357.2h0M852.6 1356.6h0M853.7 1356.8h0M855.1 1357.4h0M1050.9 1357.2h0M1052.6 1357.0h0M855.7 1357.8h0M857.1 1358.3h0M858.0 1358.4h0M1058.0 1358.3h0M1060.4 1357.7h0M854.4 1359.5h0M856.1 1360.0h0M857.1 1360.4h0M858.1 1360.4h0M1055.0 1359.9h0M1052.9 1361.2h0M840.8 1362.3h0M858.5 1361.9h0M858.8 1362.4h0M1049.8 1362.1h0M1051.2 1361.7h0M1066.7 1362.1h0M856.6 1362.6h0M858.5 1362.7h0M1051.6 1363.1h0M851.0 1364.2h0M852.9 1363.5h0M858.3 1364.3h0M858.5 1363.5h0M859.9 1364.4h0M860.3 1363.6h0M1049.6 1363.7h0M1051.6 1364.4h0M845.9 1364.5h0M847.3 1365.4h0M855.0 1365.1h0M856.5 1365.2h0M1046.9 1364.9h0M1049.2 1365.2h0M847.4 1365.7h0M857.0 1365.8h0M861.0 1365.8h0M1046.7 1365.6h0M1047.6 1366.5h0M1048.1 1365.6h0M1048.3 1365.6h0M1048.4 1366.3h0M1049.4 1366.1h0M1053.2 1366.5h0M1056.6 1365.6h0M854.0 1366.5h0M860.6 1367.3h0M1048.9 1366.8h0M1050.5 1367.4h0M1046.2 1368.5h0M1062.7 1368.0h0M1047.1 1369.0h0M846.1 1370.3h0M861.0 1369.9h0M1050.8 1370.4h0M1051.5 1369.8h0M1062.3 1369.6h0M855.1 1370.6h0M858.4 1370.7h0M859.2 1371.4h0M1045.7 1370.6h0M1046.0 1371.0h0M1046.9 1370.6h0M1050.0 1370.7h0M1044.7 1371.9h0M1045.8 1372.3h0M1058.5 1372.4h0M863.8 1372.6h0M1044.7 1372.9h0M1045.5 1372.7h0M1045.6 1373.3h0M1046.5 1373.1h0M1047.0 1372.7h0M1047.4 1372.9h0M1047.5 1373.1h0M1051.6 1373.3h0M1059.7 1373.1h0M864.3 1373.5h0M1044.8 1374.1h0M1045.5 1373.9h0M1045.7 1373.8h0M1046.3 1373.7h0M1047.4 1373.8h0M1047.4 1373.6h0M1056.7 1374.5h0M850.2 1374.7h0M863.6 1375.2h0M1042.9 1375.1h0M1048.5 1374.9h0M860.6 1376.4h0M861.1 1376.4h0M863.3 1376.3h0M864.0 1376.0h0M1042.8 1376.3h0M1043.2 1375.5h0M1043.2 1375.9h0M1043.8 1376.0h0M1045.9 1375.8h0M1051.2 1376.0h0M1054.2 1376.0h0M1063.7 1375.6h0M1050.5 1376.6h0M1042.3 1378.0h0M848.8 1379.0h0M853.4 1379.2h0M857.4 1378.9h0M857.8 1379.4h0M864.2 1378.6h0M865.3 1378.6h0M1041.8 1379.0h0M1045.1 1378.5h0M862.7 1379.9h0M1041.8 1380.1h0M1042.3 1379.5h0M1044.1 1379.9h0M851.1 1381.2h0M860.4 1381.5h0M861.7 1380.7h0M863.1 1381.4h0M865.3 1380.9h0M866.1 1380.6h0M1042.6 1380.7h0M1043.3 1381.2h0M1043.3 1381.3h0M1044.2 1380.8h0M865.2 1381.5h0M865.6 1381.9h0M1041.1 1381.9h0M1041.6 1381.9h0M1051.2 1382.0h0M843.3 1383.3h0M866.6 1383.2h0M866.6 1383.2h0M867.8 1383.5h0M866.8 1384.3h0M867.4 1384.3h0M1040.0 1383.5h0M1042.7 1384.4h0M1046.1 1384.0h0M1056.3 1383.9h0M866.3 1385.0h0M867.2 1385.4h0M867.8 1384.8h0M1039.5 1385.1h0M1039.7 1384.8h0M1053.2 1385.2h0M844.9 1385.9h0M866.0 1386.0h0M866.0 1386.1h0M1039.5 1385.5h0M1039.8 1385.5h0M851.7 1386.6h0M861.6 1386.6h0M869.3 1387.1h0M1050.9 1386.8h0M1039.2 1388.3h0M1040.4 1388.4h0M863.9 1389.4h0M865.5 1389.2h0M870.3 1388.6h0M1056.3 1389.4h0M863.3 1390.2h0M867.1 1390.0h0M867.2 1389.6h0M867.8 1390.5h0M869.6 1390.3h0M870.1 1390.5h0M870.1 1390.4h0M1037.6 1389.7h0M1039.0 1389.9h0M1041.8 1389.9h0M1043.2 1390.2h0M1044.1 1390.0h0M855.0 1390.9h0M865.9 1391.0h0M866.6 1391.2h0M869.1 1390.7h0M871.0 1390.7h0M1038.9 1391.2h0M855.0 1391.7h0M861.2 1391.9h0M864.6 1391.9h0M869.1 1392.3h0M869.8 1391.6h0M1037.7 1392.4h0M1038.4 1392.1h0M1040.2 1391.5h0M1052.8 1392.4h0M864.9 1393.2h0M868.3 1393.2h0M868.4 1393.4h0M869.6 1392.9h0M871.4 1393.4h0M1041.8 1393.1h0M1055.4 1393.4h0M855.2 1393.8h0M858.6 1393.5h0M854.9 1395.5h0M858.4 1395.3h0M867.3 1395.0h0M869.8 1394.9h0M869.9 1394.8h0M872.1 1394.7h0M872.2 1394.6h0M1036.2 1394.7h0M1036.3 1394.6h0M1037.2 1395.4h0M1053.3 1394.7h0M867.8 1395.8h0M869.8 1395.9h0M1035.2 1396.0h0M1046.2 1396.2h0M851.8 1397.0h0M869.9 1397.4h0M873.0 1397.2h0M1036.3 1397.1h0M1037.0 1396.9h0M1037.2 1397.3h0M1037.6 1396.9h0M1037.7 1397.0h0M1039.0 1397.0h0M1043.7 1397.3h0M1050.5 1397.2h0M868.9 1397.5h0M872.3 1397.6h0M1036.4 1398.2h0M1037.3 1398.1h0M1038.3 1398.2h0M1041.0 1397.8h0M870.5 1398.5h0M873.1 1399.5h0M1036.3 1398.5h0M867.4 1400.4h0M870.2 1399.7h0M873.2 1399.9h0M1035.0 1400.2h0M1035.9 1399.6h0M1046.1 1399.6h0M1051.6 1400.2h0M856.8 1401.2h0M870.9 1400.7h0M871.7 1401.2h0M872.6 1401.2h0M872.7 1400.5h0M1033.4 1400.8h0M1034.9 1400.6h0M864.4 1401.6h0M869.0 1401.9h0M873.6 1401.6h0M873.8 1401.9h0M873.9 1401.9h0M1033.2 1402.2h0M1034.4 1401.9h0M1038.8 1402.2h0M869.0 1403.1h0M872.3 1402.7h0M875.0 1403.1h0M875.4 1403.0h0M1033.7 1403.2h0M1037.4 1403.0h0M1038.5 1402.9h0M862.8 1404.3h0M872.2 1403.6h0M1033.5 1403.9h0M1038.8 1404.3h0M875.8 1404.9h0M1035.7 1405.2h0M1040.9 1404.8h0M873.0 1406.2h0M874.0 1405.8h0M876.2 1406.0h0M876.6 1406.4h0M876.6 1406.2h0M876.8 1406.3h0M1031.4 1406.5h0M1033.8 1405.5h0M1034.1 1405.7h0M1036.0 1406.0h0M871.0 1407.5h0M874.0 1407.0h0M875.9 1407.0h0M876.4 1407.0h0M1032.4 1406.5h0M1032.5 1407.0h0M1032.7 1407.3h0M1032.9 1406.8h0M1033.8 1407.3h0M1034.9 1406.9h0M1040.7 1407.2h0M873.2 1407.9h0M875.3 1408.1h0M876.5 1407.9h0M1031.2 1408.1h0M1032.0 1408.4h0M1037.5 1408.1h0M866.1 1409.3h0M875.1 1408.8h0M878.0 1408.8h0M1034.4 1408.8h0M1039.2 1409.0h0M857.0 1409.9h0M861.1 1410.3h0M874.8 1410.4h0M875.7 1409.9h0M876.5 1409.6h0M876.6 1410.2h0M878.0 1410.2h0M1032.7 1409.9h0M1045.3 1410.1h0M1053.4 1410.4h0M872.0 1410.7h0M875.7 1410.5h0M877.2 1411.1h0M877.3 1410.8h0M1029.6 1411.5h0M1030.3 1411.1h0M1030.3 1411.0h0M1030.7 1411.0h0M1030.9 1410.9h0M1031.4 1411.1h0M1031.5 1410.9h0M1032.5 1411.3h0M1033.6 1410.5h0M1037.8 1411.2h0M1044.3 1411.2h0M861.9 1412.2h0M875.9 1412.4h0M876.2 1412.2h0M877.3 1411.8h0M878.0 1411.8h0M878.1 1411.6h0M879.0 1412.1h0M1031.0 1412.1h0M1031.5 1411.7h0M1044.1 1412.5h0M859.0 1413.0h0M872.6 1413.3h0M874.8 1412.6h0M879.3 1413.4h0M879.3 1412.7h0M879.4 1412.9h0M1028.8 1413.2h0M1029.2 1412.6h0M1029.3 1413.3h0M879.4 1413.9h0M1028.2 1414.3h0M1028.9 1413.5h0M1029.6 1414.5h0M1030.2 1413.8h0M1041.4 1413.5h0M869.8 1414.8h0M871.2 1414.6h0M880.1 1414.9h0M880.6 1415.1h0M1028.1 1415.1h0M1029.7 1414.8h0M1030.0 1414.7h0M879.4 1416.4h0M880.8 1416.2h0M881.0 1416.5h0M1027.1 1416.5h0M1028.3 1415.7h0M1029.0 1416.1h0M1029.3 1416.3h0M1029.8 1416.1h0M1041.2 1415.7h0M1041.5 1415.7h0M1051.9 1415.6h0M865.7 1417.5h0M1026.7 1417.0h0M1026.9 1416.8h0M1027.9 1417.1h0M1031.0 1416.9h0M867.9 1417.6h0M878.9 1418.2h0M881.1 1418.4h0M1026.9 1418.3h0M1028.5 1417.8h0M1043.0 1417.9h0M1044.2 1417.5h0M1047.7 1418.1h0M880.4 1418.6h0M1027.5 1419.2h0M1029.2 1419.5h0M1033.9 1418.8h0M878.0 1419.6h0M879.4 1419.7h0M879.9 1420.0h0M880.9 1419.9h0M1026.7 1419.6h0M1030.3 1419.5h0M1038.9 1420.1h0M880.9 1421.3h0M883.0 1421.1h0M1025.7 1421.3h0M1025.9 1421.3h0M1028.1 1420.9h0M1028.1 1421.4h0M1029.8 1421.0h0M1046.9 1421.2h0M1025.0 1422.2h0M1026.1 1422.4h0M1026.8 1421.7h0M1039.0 1421.6h0M879.2 1423.0h0M881.1 1423.4h0M881.9 1422.8h0M882.8 1423.1h0M1025.4 1422.6h0M1025.9 1422.5h0M1026.2 1423.2h0M1027.6 1422.9h0M1027.7 1423.4h0M1031.0 1423.4h0M1034.3 1422.8h0M1034.5 1423.2h0M862.9 1423.8h0M878.0 1424.4h0M881.9 1424.5h0M883.8 1424.0h0M1024.2 1424.1h0M1024.5 1424.4h0M1024.7 1424.3h0M1025.4 1423.9h0M874.4 1424.8h0M880.8 1425.4h0M882.3 1425.3h0M883.2 1424.6h0M883.5 1424.6h0M884.3 1425.0h0M1024.2 1425.4h0M1026.5 1424.8h0M1027.7 1425.2h0M881.4 1425.9h0M884.5 1426.1h0M1023.2 1426.1h0M1023.4 1426.4h0M1024.5 1425.6h0M1025.3 1426.2h0M1028.1 1426.0h0M1028.7 1425.9h0M1043.6 1426.3h0M882.3 1426.9h0M882.6 1427.1h0M884.4 1426.6h0M884.7 1427.0h0M1024.5 1426.6h0M1024.8 1427.0h0M1025.9 1427.3h0M1026.0 1427.3h0M1029.1 1426.6h0M1040.1 1427.4h0M1044.4 1427.0h0M864.9 1428.1h0M874.4 1427.9h0M1024.9 1428.5h0M1029.3 1428.0h0M877.8 1428.8h0M880.4 1429.3h0M882.8 1429.0h0M884.4 1429.5h0M885.1 1429.4h0M1024.5 1428.7h0M1029.0 1429.3h0M882.1 1429.9h0M884.6 1430.0h0M1023.1 1430.0h0M1024.3 1430.0h0M1028.6 1429.6h0M884.0 1431.0h0M884.4 1430.9h0M1021.9 1431.0h0M1022.4 1430.9h0M1022.7 1431.2h0M883.5 1432.3h0M884.6 1431.7h0M884.8 1432.5h0M886.1 1431.9h0M887.2 1432.2h0M1022.4 1432.4h0M1023.3 1431.8h0M1028.2 1431.7h0M882.5 1432.6h0M883.0 1432.5h0M883.4 1433.3h0M885.4 1432.6h0M1021.5 1433.0h0M1021.8 1432.6h0M1023.3 1432.5h0M1026.7 1433.5h0M1034.4 1433.5h0M1044.8 1432.8h0M871.2 1433.6h0M887.7 1434.0h0M1020.4 1433.8h0M1022.5 1434.0h0M1023.0 1434.4h0M1025.3 1434.4h0M1026.9 1434.0h0M1027.1 1433.7h0M1033.9 1434.2h0M1037.9 1433.9h0M870.8 1434.9h0M884.6 1435.2h0M888.0 1435.3h0M888.2 1434.7h0M1021.2 1435.0h0M1021.4 1435.1h0M1033.3 1435.1h0M867.4 1435.8h0M881.8 1436.2h0M884.1 1436.0h0M884.2 1436.0h0M886.2 1436.2h0M887.1 1436.1h0M1021.5 1436.1h0M1022.9 1435.8h0M1023.2 1436.4h0M1043.5 1435.7h0M884.8 1437.0h0M886.6 1437.1h0M886.7 1436.9h0M1019.3 1437.4h0M1019.8 1436.7h0M1020.9 1436.8h0M886.0 1438.4h0M888.0 1438.4h0M888.4 1437.6h0M889.3 1437.7h0M1019.4 1437.6h0M1020.4 1438.4h0M1025.9 1437.9h0M1028.7 1437.9h0M1036.2 1438.2h0M1041.7 1438.0h0M868.7 1438.6h0M875.6 1439.4h0M884.2 1438.7h0M885.1 1438.9h0M888.0 1439.0h0M888.0 1438.6h0M888.6 1439.1h0M889.3 1438.5h0M1018.5 1439.2h0M1021.5 1439.3h0M872.1 1439.6h0M882.2 1439.8h0M1018.1 1440.4h0M1019.3 1439.7h0M1019.8 1439.9h0M1020.9 1440.4h0M1022.5 1439.8h0M1023.4 1439.7h0M1023.8 1440.1h0M1035.2 1440.3h0M1035.7 1440.5h0M1041.6 1439.8h0M888.7 1441.5h0M890.3 1441.4h0M890.8 1441.3h0M1017.9 1441.0h0M1019.0 1440.8h0M1020.1 1441.5h0M1022.6 1440.5h0M1027.7 1441.2h0M880.2 1441.6h0M885.6 1442.0h0M889.0 1442.1h0M889.0 1442.1h0M889.1 1441.9h0M890.0 1441.7h0M890.0 1442.2h0M890.6 1442.2h0M890.7 1441.7h0M891.2 1442.5h0M1017.2 1442.0h0M1019.3 1441.9h0M1019.5 1442.2h0M1020.4 1442.5h0M1021.0 1441.8h0M1041.0 1441.9h0M887.4 1443.1h0M889.2 1442.5h0M1017.4 1443.4h0M1037.7 1443.1h0M868.2 1444.0h0M868.4 1444.4h0M874.5 1444.0h0M877.0 1443.6h0M888.1 1444.0h0M888.2 1444.4h0M889.4 1443.5h0M890.2 1443.8h0M890.4 1443.5h0M890.5 1443.8h0M890.5 1444.0h0M1017.1 1444.5h0M1017.4 1443.9h0M1018.3 1443.5h0M1026.9 1443.6h0M1030.3 1444.0h0M868.2 1445.3h0M885.7 1445.4h0M891.6 1445.3h0M892.0 1444.8h0M892.1 1444.7h0M892.2 1445.0h0M1016.4 1445.0h0M1019.4 1444.9h0M1025.7 1444.8h0M1026.2 1444.7h0M1030.6 1444.8h0M1033.2 1445.1h0M888.9 1445.7h0M889.0 1445.5h0M890.9 1446.2h0M892.3 1446.3h0M1015.5 1446.2h0M1017.6 1445.6h0M1018.5 1445.6h0M1020.5 1446.3h0M1032.5 1446.2h0M876.3 1447.5h0M886.3 1447.2h0M888.4 1447.1h0M888.5 1447.5h0M890.9 1446.7h0M891.0 1447.5h0M1015.8 1446.5h0M1016.3 1446.7h0M1016.3 1446.8h0M1018.4 1447.4h0M1018.4 1447.0h0M1018.9 1446.6h0M1025.7 1446.9h0M1032.5 1447.4h0M1036.6 1446.6h0M869.6 1448.3h0M871.8 1448.4h0M886.9 1448.0h0M889.6 1447.5h0M889.8 1448.1h0M890.9 1447.9h0M892.3 1447.7h0M893.2 1447.9h0M1015.0 1447.9h0M1015.7 1447.7h0M1016.6 1448.3h0M1028.4 1448.2h0M887.6 1449.2h0M890.4 1449.3h0M890.5 1449.1h0M892.5 1449.4h0M892.5 1448.5h0M893.0 1449.3h0M1015.0 1449.3h0M1015.3 1448.6h0M1015.5 1449.4h0M1017.2 1448.7h0M1017.5 1448.8h0M1017.5 1448.9h0M1018.5 1449.3h0M1021.7 1448.8h0M1028.7 1448.9h0M880.1 1450.1h0M888.1 1450.0h0M888.4 1449.6h0M891.3 1449.9h0M891.4 1449.8h0M892.4 1449.9h0M892.7 1450.1h0M893.9 1449.9h0M1014.6 1449.7h0M1014.8 1450.2h0M1015.9 1449.6h0M1017.4 1450.4h0M1018.1 1449.9h0M1020.5 1450.4h0M1020.7 1449.7h0M1021.4 1450.1h0M1031.1 1450.3h0M884.4 1450.9h0M890.0 1451.4h0M893.9 1450.8h0M1013.8 1451.2h0M1016.4 1451.1h0M1017.1 1451.0h0M1018.8 1451.2h0M889.5 1452.4h0M891.8 1451.5h0M893.3 1452.5h0M894.3 1451.6h0M894.8 1452.1h0M894.9 1452.2h0M1013.4 1451.5h0M1013.4 1451.6h0M1013.7 1451.5h0M1015.0 1452.4h0M1015.0 1452.0h0M1015.1 1452.3h0M1015.2 1451.9h0M1015.5 1451.8h0M1015.9 1452.3h0M1016.5 1451.9h0M1016.5 1452.1h0M1016.8 1452.0h0M1016.9 1452.0h0M1017.7 1451.7h0M1018.9 1452.3h0M1026.8 1452.3h0M1034.5 1452.4h0M1034.7 1452.3h0M1037.6 1452.2h0M870.4 1452.8h0M892.1 1453.2h0M893.9 1452.8h0M894.8 1452.7h0M894.9 1453.1h0M894.9 1452.8h0M895.0 1453.2h0M1013.6 1453.3h0M1013.7 1453.2h0M1013.8 1453.4h0M1015.6 1452.7h0M1019.4 1452.6h0M880.8 1453.7h0M882.2 1454.2h0M890.7 1454.0h0M891.3 1453.6h0M892.7 1453.9h0M894.4 1453.8h0M895.2 1453.5h0M895.8 1454.3h0M1012.6 1453.7h0M1013.7 1454.0h0M1014.6 1454.0h0M1030.0 1454.0h0M1036.6 1453.9h0M881.8 1454.7h0M891.6 1455.4h0M892.8 1455.0h0M893.1 1454.5h0M893.2 1454.6h0M894.8 1455.1h0M895.6 1454.8h0M896.0 1454.9h0M1012.2 1455.4h0M1012.2 1455.0h0M1012.5 1454.8h0M1012.5 1454.9h0M1012.8 1454.7h0M1012.8 1455.1h0M1013.0 1454.8h0M1013.1 1454.6h0M1013.3 1455.1h0M1014.3 1454.8h0M1015.5 1455.3h0M1030.0 1454.6h0M1033.9 1455.5h0M875.8 1455.8h0M891.4 1455.7h0M891.9 1456.1h0M893.9 1455.8h0M894.4 1456.5h0M894.6 1456.0h0M894.7 1455.6h0M895.4 1455.5h0M896.0 1456.5h0M896.5 1456.1h0M1012.2 1455.8h0M1013.9 1456.4h0M1014.0 1455.7h0M1014.1 1456.4h0M1015.4 1456.4h0M1029.0 1455.8h0M1036.4 1456.5h0M890.8 1457.0h0M893.1 1457.0h0M896.0 1457.5h0M897.0 1457.2h0M1012.0 1456.9h0M1013.1 1457.3h0M1013.5 1456.6h0M1013.7 1456.7h0M1013.9 1457.2h0M1015.2 1457.4h0M1016.7 1457.1h0M1017.4 1457.0h0M1019.1 1456.7h0M1032.3 1456.8h0M1032.9 1456.6h0M1035.3 1457.0h0M880.2 1458.3h0M890.6 1458.2h0M894.2 1458.5h0M896.1 1457.9h0M896.8 1458.1h0M1011.4 1458.1h0M1012.3 1458.1h0M1012.6 1458.2h0M1012.8 1458.4h0M1014.1 1458.5h0M1015.5 1457.8h0M1021.5 1458.4h0M1021.6 1458.4h0M890.7 1458.6h0M892.5 1458.7h0M892.6 1458.7h0M893.6 1459.3h0M894.2 1458.7h0M895.6 1458.7h0M895.8 1459.1h0M896.3 1458.9h0M897.0 1458.5h0M1011.4 1459.4h0M1012.5 1459.5h0M1013.3 1459.0h0M1015.4 1458.6h0M1016.7 1459.5h0M1025.2 1458.8h0M884.0 1459.7h0M885.1 1460.5h0M887.9 1460.0h0M896.5 1459.7h0M896.9 1460.5h0M897.9 1460.3h0M897.9 1460.2h0M1010.8 1460.0h0M1011.5 1459.7h0M1012.2 1459.9h0M1013.2 1460.1h0M1016.5 1460.1h0M1020.7 1460.2h0M1024.8 1459.9h0M1031.3 1460.2h0M876.8 1460.6h0M892.2 1460.9h0M893.6 1461.3h0M893.6 1461.3h0M894.4 1460.7h0M896.4 1460.7h0M897.4 1461.5h0M897.6 1461.4h0M898.0 1461.0h0M898.5 1461.5h0M1010.1 1460.8h0M1011.3 1460.5h0M1011.6 1460.5h0M1012.0 1461.3h0M1015.7 1460.8h0M1020.8 1460.6h0M1023.3 1460.6h0M877.4 1461.7h0M879.8 1462.1h0M892.8 1462.0h0M896.5 1462.2h0M897.7 1461.8h0M1011.3 1461.9h0M1013.3 1462.3h0M1014.8 1462.2h0M1015.4 1462.1h0M1023.1 1462.1h0M875.0 1463.3h0M893.2 1463.2h0M897.1 1462.6h0M897.4 1462.9h0M898.0 1463.5h0M898.2 1462.5h0M899.1 1463.2h0M1009.4 1463.2h0M1009.4 1462.9h0M1009.5 1463.0h0M1010.4 1463.5h0M1011.6 1462.8h0M1011.8 1463.1h0M1012.2 1463.1h0M1012.4 1462.7h0M1013.2 1462.9h0M1015.4 1462.7h0M1032.9 1463.0h0M875.0 1463.9h0M893.2 1464.4h0M893.2 1463.5h0M895.7 1464.0h0M898.3 1463.9h0M898.6 1463.8h0M899.3 1464.1h0M1009.2 1464.3h0M1010.7 1463.8h0M1011.0 1464.3h0M1011.6 1463.6h0M1013.0 1464.4h0M1014.4 1463.9h0M1014.7 1464.2h0M1015.2 1463.9h0M1015.4 1464.5h0M1015.7 1463.7h0M1018.5 1463.7h0M1026.7 1464.0h0M882.6 1465.4h0M892.4 1465.5h0M896.9 1465.2h0M897.6 1464.8h0M897.9 1465.1h0M898.3 1465.0h0M899.0 1464.8h0M899.4 1465.1h0M900.0 1465.0h0M1008.5 1464.8h0M1008.6 1464.9h0M1009.4 1465.4h0M1010.4 1464.8h0M1010.9 1465.3h0M1012.7 1465.0h0M1012.8 1465.4h0M1013.8 1464.7h0M1014.9 1464.9h0M1015.3 1465.3h0M892.7 1465.6h0M893.5 1465.7h0M893.6 1466.0h0M896.0 1465.8h0M896.8 1465.6h0M897.5 1466.4h0M897.5 1466.4h0M897.9 1466.1h0M899.6 1465.5h0M899.8 1465.7h0M1008.3 1465.9h0M1008.7 1465.8h0M1008.8 1465.9h0M1009.2 1465.6h0M1009.4 1465.7h0M1010.3 1465.6h0M1012.5 1465.8h0M1028.8 1466.0h0M895.3 1466.5h0M895.7 1467.1h0M898.9 1466.6h0M899.4 1467.1h0M900.0 1466.9h0M900.5 1467.0h0M900.7 1466.9h0M1009.6 1466.7h0M1009.8 1467.4h0M1013.8 1466.7h0M1014.2 1467.2h0M1021.6 1467.2h0M878.8 1467.8h0M901.0 1467.6h0M1007.7 1468.1h0M1007.7 1467.9h0M1008.1 1467.6h0M1008.4 1467.7h0M1008.7 1468.2h0M1011.9 1468.4h0M1025.3 1467.7h0M877.2 1468.6h0M894.6 1468.7h0M898.3 1468.7h0M899.2 1469.2h0M899.8 1469.4h0M901.0 1468.5h0M1006.5 1469.3h0M1006.9 1469.1h0M1007.6 1469.1h0M1009.1 1469.3h0M1009.6 1468.8h0M1010.5 1469.1h0M1011.0 1469.5h0M1013.7 1469.3h0M888.7 1470.5h0M894.8 1470.3h0M894.8 1470.1h0M897.7 1469.6h0M899.6 1469.8h0M899.8 1470.0h0M900.7 1470.4h0M901.0 1469.7h0M901.1 1469.6h0M901.5 1469.7h0M1007.0 1470.2h0M1008.6 1470.1h0M1009.4 1470.4h0M1009.6 1470.2h0M1010.3 1470.4h0M1010.7 1469.7h0M1010.8 1469.5h0M1012.3 1469.7h0M1017.1 1470.4h0M1019.6 1470.0h0M1020.1 1470.2h0M1023.2 1470.4h0M897.5 1470.9h0M899.9 1471.5h0M900.3 1471.1h0M900.9 1470.5h0M901.2 1470.6h0M901.4 1471.1h0M901.6 1470.8h0M1005.6 1471.3h0M1006.5 1471.0h0M1006.6 1471.4h0M1007.7 1470.5h0M1008.0 1470.6h0M1008.2 1471.3h0M1008.8 1471.2h0M1009.3 1470.7h0M1009.4 1470.7h0M1009.6 1471.1h0M1011.7 1470.6h0M1023.1 1470.7h0M1029.7 1471.0h0M881.4 1471.7h0M884.9 1472.3h0M892.1 1471.6h0M892.8 1472.4h0M895.8 1471.7h0M900.2 1471.7h0M900.9 1472.2h0M901.1 1472.1h0M901.9 1472.2h0M902.3 1472.5h0M902.8 1472.4h0M1006.3 1472.4h0M1006.4 1472.1h0M1006.5 1472.2h0M1006.6 1471.7h0M1008.5 1471.8h0M1009.0 1472.1h0M1009.0 1472.4h0M1010.2 1472.2h0M1015.7 1472.3h0M1016.0 1472.1h0M1022.8 1471.7h0M1023.0 1472.3h0M1030.0 1471.7h0M885.8 1472.9h0M889.0 1473.0h0M890.3 1473.3h0M893.1 1472.6h0M895.9 1472.7h0M897.5 1472.7h0M897.7 1473.4h0M898.6 1473.0h0M899.2 1473.4h0M899.3 1473.2h0M899.5 1473.3h0M899.7 1472.6h0M901.0 1473.3h0M901.9 1472.9h0M902.8 1472.8h0M903.1 1472.8h0M1005.3 1472.7h0M1006.0 1473.1h0M1006.1 1473.4h0M1006.6 1472.8h0M1006.8 1472.9h0M1007.2 1472.6h0M1008.2 1472.8h0M1011.2 1473.0h0M1012.7 1473.3h0M1030.2 1472.5h0M878.2 1473.5h0M881.0 1473.7h0M888.9 1473.5h0M889.5 1473.6h0M896.2 1474.4h0M896.8 1474.4h0M897.2 1474.1h0M897.2 1474.3h0M897.6 1473.7h0M900.6 1474.4h0M900.7 1473.6h0M901.4 1474.0h0M902.7 1474.4h0M903.1 1473.7h0M1004.5 1474.5h0M1005.2 1473.8h0M1005.7 1473.7h0M1007.1 1473.9h0M1007.1 1474.3h0M1007.4 1474.3h0M1007.4 1474.3h0M1008.3 1474.0h0M1008.4 1473.6h0M1008.7 1473.6h0M1009.3 1473.6h0M1011.4 1473.6h0M1011.5 1473.9h0M1019.0 1473.7h0M882.6 1474.7h0M882.8 1474.5h0M896.9 1474.7h0M897.8 1475.3h0M898.8 1475.2h0M899.3 1475.3h0M899.5 1475.1h0M902.6 1474.9h0M903.0 1474.8h0M903.6 1474.5h0M1004.4 1475.3h0M1004.4 1475.3h0M1004.4 1475.1h0M1004.4 1475.0h0M1005.2 1474.7h0M1007.1 1475.3h0M1009.1 1474.8h0M1009.3 1475.1h0M1009.7 1475.1h0M1025.6 1475.0h0M1028.2 1474.9h0M886.8 1475.8h0M889.6 1475.7h0M890.1 1476.3h0M898.3 1476.2h0M901.3 1475.7h0M901.5 1475.7h0M901.6 1476.2h0M902.0 1476.4h0M902.2 1476.0h0M903.0 1476.2h0M903.6 1476.4h0M903.9 1476.0h0M904.3 1476.4h0M1003.8 1476.4h0M1004.2 1476.0h0M1004.7 1476.3h0M1004.7 1476.4h0M1007.1 1476.1h0M1007.5 1476.5h0M1007.8 1476.2h0M1011.5 1475.6h0M1014.0 1475.9h0M890.9 1476.8h0M898.2 1477.0h0M901.6 1477.1h0M902.2 1477.1h0M902.5 1476.9h0M904.5 1476.8h0M904.6 1476.7h0M1003.5 1477.4h0M1003.7 1477.5h0M1005.9 1476.6h0M1006.1 1477.0h0M1007.6 1476.6h0M1007.7 1476.5h0M1009.4 1477.3h0M1009.6 1476.9h0M1010.4 1477.2h0M1010.5 1476.5h0M1017.5 1477.4h0M883.4 1477.9h0M883.9 1478.0h0M884.1 1478.0h0M891.1 1477.8h0M891.1 1477.7h0M892.3 1478.0h0M898.2 1477.5h0M898.2 1477.9h0M901.3 1478.0h0M901.8 1478.1h0M902.9 1478.5h0M903.0 1477.9h0M903.3 1478.1h0M903.4 1477.9h0M904.0 1478.3h0M904.0 1478.2h0M904.3 1478.0h0M904.9 1478.5h0M1003.1 1477.9h0M1005.2 1478.1h0M1006.0 1477.9h0M1006.6 1478.3h0M1006.8 1477.6h0M1010.1 1477.8h0M1021.0 1478.0h0M1024.0 1478.4h0M1026.8 1478.4h0M883.8 1478.6h0M892.1 1479.2h0M898.9 1478.6h0M899.6 1479.2h0M900.5 1479.0h0M901.3 1478.8h0M901.7 1479.1h0M902.4 1479.4h0M903.0 1479.4h0M903.0 1479.3h0M903.4 1479.5h0M903.7 1478.8h0M903.8 1479.4h0M904.0 1478.5h0M904.1 1478.7h0M904.4 1478.9h0M905.0 1478.7h0M905.6 1479.4h0M1003.1 1478.5h0M1003.2 1478.5h0M1003.3 1479.4h0M1003.7 1478.8h0M1004.0 1478.8h0M1004.5 1479.2h0M1005.1 1478.7h0M1005.9 1479.0h0M1006.8 1479.0h0M1006.8 1479.3h0M1007.0 1478.6h0M1008.8 1478.7h0M898.8 1480.4h0M899.4 1479.7h0M900.2 1479.8h0M902.8 1479.7h0M904.8 1480.3h0M905.1 1479.9h0M1002.6 1480.4h0M1003.5 1479.9h0M1003.6 1479.6h0M1004.1 1480.2h0M1004.1 1480.2h0M1004.5 1480.2h0M1004.7 1480.1h0M1004.9 1480.2h0M1005.8 1479.7h0M1009.4 1479.9h0M1009.9 1479.5h0M1016.5 1480.4h0M1024.8 1479.8h0M885.9 1480.8h0M898.5 1480.5h0M898.7 1480.8h0M903.2 1480.9h0M904.3 1480.7h0M904.3 1481.0h0M904.8 1481.0h0M905.1 1480.8h0M905.4 1481.1h0M905.8 1481.5h0M905.9 1481.2h0M906.0 1480.6h0M906.4 1481.4h0M1002.2 1481.0h0M1003.2 1480.5h0M1003.4 1481.3h0M1003.6 1480.7h0M1004.0 1481.3h0M1004.2 1481.2h0M1006.1 1480.8h0M1008.9 1480.6h0M1009.4 1480.7h0M1012.3 1480.9h0M1024.9 1480.9h0M901.4 1482.5h0M903.2 1482.0h0M903.6 1482.1h0M903.7 1481.7h0M904.1 1482.2h0M904.8 1482.5h0M904.8 1482.4h0M904.8 1481.9h0M905.5 1482.3h0M905.9 1482.3h0M906.1 1482.3h0M1002.0 1482.3h0M1002.6 1481.6h0M1002.8 1481.8h0M1003.8 1482.1h0M1004.1 1482.0h0M1004.2 1481.9h0M1005.1 1481.7h0M1005.1 1482.1h0M1005.5 1482.3h0M1006.8 1482.1h0M1008.4 1481.8h0M1008.7 1481.5h0M1021.8 1482.5h0M1023.2 1482.0h0M882.3 1483.2h0M882.4 1483.2h0M883.0 1483.4h0M896.0 1483.0h0M899.6 1483.2h0M899.9 1482.7h0M900.6 1482.7h0M902.5 1483.5h0M903.2 1483.0h0M903.3 1482.8h0M903.9 1482.5h0M904.6 1483.0h0M904.8 1482.9h0M904.9 1483.2h0M905.0 1482.9h0M905.9 1483.0h0M906.9 1482.8h0M907.1 1483.1h0M1001.7 1482.9h0M1002.0 1483.0h0M1002.5 1483.4h0M1002.6 1482.7h0M1002.7 1482.9h0M1002.9 1483.5h0M1003.0 1482.8h0M1003.1 1483.4h0M1005.3 1483.1h0M1008.2 1483.3h0M1015.6 1483.4h0M885.3 1483.9h0M896.6 1483.9h0M904.8 1483.7h0M906.4 1484.4h0M906.6 1483.9h0M906.7 1484.4h0M907.0 1484.0h0M907.4 1483.9h0M1001.7 1484.1h0M1002.4 1483.7h0M1002.7 1484.5h0M1002.9 1483.5h0M1003.5 1483.8h0M1005.0 1483.7h0M1005.9 1484.1h0M1005.9 1483.8h0M1015.0 1483.9h0M1021.9 1484.1h0M897.2 1484.7h0M897.3 1484.9h0M897.5 1484.8h0M901.3 1485.3h0M903.8 1485.5h0M906.4 1485.4h0M907.6 1485.0h0M907.6 1485.0h0M1000.9 1484.9h0M1001.0 1485.3h0M1002.0 1485.1h0M1002.6 1484.5h0M1003.5 1484.8h0M1003.7 1484.9h0M1004.1 1485.4h0M1004.7 1485.0h0M1004.9 1485.4h0M1006.5 1484.8h0M1006.6 1484.7h0M1010.7 1485.4h0M1022.4 1485.3h0M1024.3 1484.7h0M1024.6 1485.2h0M895.1 1486.2h0M901.5 1485.7h0M903.3 1485.6h0M904.9 1486.0h0M905.6 1485.9h0M905.8 1486.4h0M905.9 1485.7h0M906.5 1485.9h0M906.9 1486.3h0M907.2 1486.2h0M907.3 1486.1h0M907.6 1485.6h0M907.6 1485.9h0M907.8 1485.6h0M908.0 1486.2h0M908.1 1486.4h0M908.2 1486.3h0M908.4 1486.4h0M1000.2 1485.9h0M1000.3 1486.2h0M1000.3 1486.3h0M1000.6 1485.6h0M1001.0 1486.2h0M1001.0 1485.5h0M1001.3 1486.2h0M1001.4 1486.0h0M1001.5 1485.8h0M1001.8 1486.3h0M1002.3 1486.2h0M1002.3 1485.6h0M1002.5 1486.5h0M1002.7 1486.0h0M1003.6 1486.3h0M1004.2 1486.2h0M1006.4 1486.5h0M1006.5 1485.8h0M1014.1 1485.7h0M884.6 1487.4h0M886.1 1487.2h0M886.2 1486.9h0M894.2 1487.2h0M894.5 1486.9h0M901.0 1486.9h0M901.4 1486.7h0M902.1 1487.1h0M902.8 1487.2h0M904.5 1486.9h0M904.6 1487.2h0M905.6 1487.2h0M905.8 1487.1h0M905.8 1486.9h0M907.7 1486.9h0M907.8 1487.2h0M908.5 1487.1h0M999.5 1487.0h0M999.7 1486.6h0M1000.1 1487.0h0M1000.3 1487.2h0M1000.9 1486.6h0M1002.0 1486.6h0M1002.5 1486.9h0M1003.9 1486.9h0M1004.4 1486.7h0M1006.4 1487.0h0M1006.5 1486.8h0M1009.8 1487.1h0M1013.6 1487.2h0M887.2 1488.5h0M903.7 1487.7h0M904.1 1487.5h0M904.5 1487.8h0M905.5 1488.4h0M906.5 1487.6h0M906.7 1488.5h0M1000.9 1487.7h0M1001.8 1487.9h0M1001.8 1488.1h0M1001.9 1488.0h0M1002.8 1488.4h0M1003.1 1487.7h0M1003.4 1488.0h0M1005.3 1487.6h0M1009.3 1488.2h0M1013.1 1487.8h0M902.4 1488.7h0M902.6 1489.1h0M902.8 1489.4h0M905.3 1488.7h0M906.2 1489.3h0M906.5 1488.9h0M907.1 1489.5h0M908.2 1488.7h0M999.0 1489.3h0M999.1 1488.6h0M999.5 1488.9h0M999.8 1488.9h0M1000.2 1488.9h0M1000.2 1489.5h0M1000.3 1488.8h0M1000.5 1489.2h0M1003.6 1488.5h0M1003.7 1488.9h0M1004.7 1489.4h0M1004.9 1489.2h0M1005.9 1489.1h0M1009.1 1489.2h0M1009.5 1488.8h0M888.5 1490.0h0M896.3 1490.1h0M899.8 1489.7h0M903.8 1490.0h0M904.6 1490.4h0M906.2 1490.0h0M906.9 1490.1h0M908.6 1489.8h0M909.6 1490.5h0M909.7 1490.1h0M909.9 1490.3h0M998.5 1490.3h0M998.7 1489.8h0M999.0 1489.6h0M1000.7 1490.5h0M1003.4 1490.1h0M1004.2 1490.4h0M1004.2 1489.7h0M1004.9 1490.2h0M1005.5 1489.7h0M1018.4 1490.4h0M892.6 1491.3h0M899.5 1491.3h0M899.7 1491.3h0M904.5 1490.7h0M907.3 1490.8h0M907.9 1491.2h0M908.5 1491.1h0M908.6 1490.5h0M910.1 1491.0h0M998.5 1491.4h0M998.8 1491.2h0M999.0 1490.7h0M999.0 1490.6h0M1000.1 1491.2h0M1000.4 1491.4h0M1001.3 1490.9h0M1002.2 1491.1h0M1003.9 1490.7h0M1004.0 1490.9h0M1005.2 1490.5h0M1008.2 1491.1h0M1015.9 1490.6h0M1022.7 1490.8h0M1022.9 1490.9h0M886.0 1491.6h0M888.6 1492.0h0M888.9 1492.4h0M904.7 1492.1h0M905.1 1491.6h0M906.2 1491.8h0M906.8 1492.4h0M907.8 1491.6h0M908.8 1492.0h0M910.0 1491.6h0M910.4 1491.8h0M910.5 1492.2h0M910.7 1492.5h0M997.6 1492.1h0M997.7 1492.0h0M997.9 1492.4h0M998.0 1492.1h0M998.1 1491.7h0M998.3 1491.7h0M998.5 1491.6h0M998.6 1492.3h0M998.6 1491.9h0M998.9 1492.2h0M999.1 1491.7h0M999.2 1492.4h0M999.5 1492.1h0M1000.1 1492.3h0M1001.2 1492.0h0M1005.0 1491.6h0M1011.1 1492.0h0M1011.7 1492.2h0M1022.5 1492.0h0M893.5 1492.7h0M896.4 1493.5h0M897.1 1493.2h0M897.8 1493.1h0M906.7 1492.7h0M908.1 1493.1h0M908.6 1492.6h0M909.0 1493.1h0M909.5 1492.7h0M997.4 1493.4h0M997.4 1493.2h0M999.0 1492.9h0M999.2 1492.9h0M999.2 1492.5h0M999.4 1493.4h0M999.7 1492.7h0M999.7 1492.5h0M1000.6 1492.8h0M1000.8 1493.3h0M1000.8 1493.4h0M1001.1 1493.3h0M1001.3 1492.6h0M1001.9 1492.6h0M1003.3 1492.6h0M1015.2 1493.3h0M1018.0 1493.4h0M1021.8 1492.7h0M886.0 1493.7h0M887.3 1493.6h0M889.5 1493.5h0M889.7 1493.7h0M893.6 1493.9h0M904.3 1494.2h0M906.1 1493.6h0M906.8 1493.5h0M907.5 1494.0h0M907.8 1494.2h0M907.9 1493.9h0M908.2 1494.1h0M909.1 1493.6h0M909.8 1494.2h0M910.9 1493.6h0M911.2 1494.5h0M996.7 1494.5h0M996.9 1494.4h0M997.1 1493.7h0M997.5 1493.7h0M997.9 1494.1h0M998.0 1494.1h0M998.3 1494.1h0M998.6 1494.2h0M999.3 1494.1h0M999.6 1493.6h0M999.7 1494.2h0M1003.3 1494.4h0M1003.7 1494.2h0M1004.0 1494.2h0M1006.4 1494.1h0M1010.2 1494.3h0M1010.7 1493.9h0M1015.6 1493.5h0M1021.0 1494.0h0M901.4 1495.0h0M906.5 1495.0h0M907.7 1495.0h0M908.6 1495.4h0M909.1 1495.4h0M909.7 1494.8h0M909.8 1494.9h0M910.5 1495.4h0M910.9 1494.9h0M911.4 1495.1h0M911.4 1494.6h0M911.9 1495.3h0M997.0 1495.3h0M997.6 1495.5h0M997.9 1494.6h0M999.3 1494.5h0M1003.1 1495.0h0M1003.3 1495.3h0M1003.5 1495.2h0M1004.0 1494.5h0M1010.3 1494.7h0M1014.0 1494.8h0M1017.7 1495.0h0M1020.7 1495.4h0M1021.2 1495.3h0M1021.4 1494.8h0M891.2 1495.5h0M897.4 1496.4h0M898.7 1496.2h0M905.0 1496.1h0M905.2 1495.5h0M908.4 1496.3h0M908.7 1496.1h0M909.7 1495.5h0M911.0 1496.1h0M911.0 1496.4h0M911.4 1496.2h0M911.5 1496.0h0M911.8 1495.7h0M912.2 1496.0h0M996.8 1496.0h0M997.3 1495.8h0M997.3 1495.8h0M998.0 1495.8h0M998.5 1496.2h0M998.8 1495.6h0M999.1 1496.5h0M999.2 1495.9h0M999.7 1495.7h0M1001.4 1496.0h0M1001.9 1496.0h0M1001.9 1496.2h0M1002.8 1495.5h0M1002.9 1496.1h0M1002.9 1496.1h0M1003.5 1496.0h0M1007.1 1496.5h0M1009.9 1496.5h0M1013.9 1495.9h0M1014.0 1496.5h0M1014.1 1496.2h0M1020.5 1496.3h0M1020.8 1495.5h0M1021.3 1495.6h0M891.1 1497.3h0M897.9 1496.7h0M901.4 1497.0h0M902.7 1497.1h0M907.3 1496.8h0M908.5 1496.9h0M908.5 1496.8h0M908.9 1497.3h0M909.0 1496.6h0M909.3 1496.8h0M909.5 1497.0h0M910.7 1497.4h0M911.3 1497.2h0M911.5 1497.0h0M911.8 1497.3h0M912.0 1497.0h0M912.5 1497.3h0M912.6 1497.4h0M996.2 1497.0h0M996.5 1497.4h0M996.6 1497.5h0M997.4 1496.8h0M997.4 1497.5h0M997.4 1496.7h0M997.5 1496.9h0M997.8 1497.4h0M999.6 1497.1h0M1001.8 1497.3h0M1002.4 1497.3h0M1006.1 1497.3h0M1009.6 1496.8h0M1016.8 1497.3h0M1019.7 1497.1h0M1020.5 1497.0h0M890.6 1497.7h0M891.1 1498.1h0M898.4 1497.6h0M898.5 1497.6h0M898.8 1498.1h0M902.9 1498.5h0M905.7 1498.1h0M906.6 1498.2h0M909.1 1497.8h0M910.8 1498.2h0M911.1 1498.1h0M911.5 1498.3h0M912.1 1498.0h0M912.7 1498.4h0M996.8 1497.6h0M997.2 1498.2h0M997.2 1498.0h0M997.6 1497.8h0M997.7 1498.1h0M998.4 1498.3h0M998.7 1498.2h0M999.0 1498.2h0M1000.9 1497.7h0M1001.9 1497.9h0M1002.3 1497.9h0M1002.6 1497.9h0M1004.7 1497.9h0M1009.0 1497.7h0M1012.6 1497.8h0M1013.0 1498.4h0M1013.2 1498.1h0M1013.6 1497.5h0M1016.5 1497.9h0M888.5 1499.3h0M892.2 1498.9h0M896.0 1498.6h0M907.0 1499.4h0M907.7 1499.1h0M909.2 1498.7h0M909.3 1498.7h0M909.3 1498.9h0M909.3 1499.4h0M909.6 1498.9h0M909.9 1498.7h0M910.0 1498.7h0M910.1 1499.5h0M910.2 1499.4h0M911.5 1499.0h0M912.0 1499.3h0M912.8 1498.6h0M995.0 1498.9h0M995.2 1498.5h0M995.6 1499.1h0M996.0 1498.5h0M996.0 1499.3h0M996.2 1498.5h0M996.7 1499.3h0M997.1 1499.3h0M997.5 1498.9h0M997.5 1499.1h0M997.8 1498.8h0M998.0 1499.2h0M998.1 1498.8h0M998.4 1498.7h0M998.4 1499.0h0M998.7 1498.6h0M999.0 1498.8h0M999.1 1498.8h0M1001.6 1499.1h0M1001.9 1499.4h0M1002.2 1499.1h0M1004.9 1498.5h0M1005.1 1498.9h0M1005.5 1499.3h0M1005.5 1499.0h0M1012.0 1499.1h0M1015.9 1499.3h0M1016.7 1498.8h0M1017.1 1499.3h0M889.5 1500.1h0M900.0 1500.1h0M906.2 1499.8h0M906.2 1499.5h0M906.3 1499.7h0M908.2 1500.0h0M909.3 1499.8h0M910.3 1499.6h0M910.5 1500.0h0M910.9 1500.4h0M911.2 1500.1h0M911.4 1499.6h0M911.5 1500.4h0M911.5 1499.5h0M911.7 1500.4h0M912.5 1499.8h0M912.7 1499.5h0M913.3 1500.1h0M913.6 1499.8h0M994.4 1500.2h0M995.0 1500.2h0M996.2 1499.7h0M996.5 1499.8h0M996.6 1500.1h0M996.8 1499.8h0M996.8 1500.3h0M997.2 1500.2h0M998.1 1500.0h0M998.2 1499.8h0M1000.9 1499.9h0M1005.4 1500.0h0M900.8 1500.8h0M903.6 1501.3h0M903.7 1500.5h0M904.7 1501.0h0M907.8 1501.0h0M911.5 1500.8h0M911.5 1500.6h0M911.6 1500.6h0M911.7 1501.4h0M911.9 1500.9h0M911.9 1501.2h0M912.6 1501.4h0M913.0 1501.2h0M913.7 1501.0h0M913.9 1500.5h0M914.2 1501.3h0M994.2 1500.9h0M994.2 1501.3h0M994.2 1500.6h0M994.5 1500.6h0M994.8 1500.7h0M994.9 1500.8h0M995.0 1500.5h0M996.1 1500.7h0M996.4 1500.6h0M996.6 1500.6h0M997.1 1501.1h0M997.2 1500.9h0M997.6 1500.5h0M1000.0 1500.6h0M1004.3 1500.6h0M1004.5 1501.2h0M1004.9 1501.3h0M1008.3 1500.8h0M1015.4 1500.6h0M1017.3 1501.2h0M1018.8 1500.8h0M890.3 1501.6h0M891.0 1502.2h0M892.3 1501.7h0M896.3 1501.8h0M896.5 1501.6h0M897.4 1502.3h0M901.2 1501.9h0M903.7 1502.4h0M905.0 1502.2h0M907.3 1502.2h0M907.5 1502.4h0M907.9 1502.1h0M910.8 1502.1h0M912.2 1501.9h0M912.2 1502.0h0M912.9 1501.8h0M912.9 1502.4h0M913.0 1502.4h0M913.6 1502.3h0M913.6 1501.8h0M913.8 1502.4h0M994.0 1501.5h0M994.6 1502.5h0M994.9 1502.1h0M995.2 1501.7h0M995.2 1501.9h0M996.6 1502.1h0M996.9 1502.3h0M997.1 1502.2h0M997.2 1501.7h0M997.4 1501.7h0M1004.1 1502.4h0M1005.2 1502.2h0M1014.8 1501.8h0M1016.2 1501.9h0M1018.6 1501.8h0M893.4 1503.3h0M894.0 1502.7h0M896.4 1502.7h0M897.0 1503.3h0M897.1 1502.6h0M897.8 1503.3h0M904.5 1502.7h0M908.5 1502.7h0M908.7 1503.4h0M910.9 1503.1h0M911.8 1502.7h0M912.1 1503.5h0M912.3 1502.7h0M912.3 1502.7h0M912.5 1502.6h0M913.3 1503.4h0M913.4 1503.3h0M913.6 1503.3h0M914.1 1502.8h0M914.2 1503.5h0M914.6 1502.7h0M914.7 1502.8h0M993.6 1502.6h0M993.6 1503.2h0M994.0 1502.6h0M994.4 1503.5h0M995.5 1502.5h0M996.0 1502.6h0M997.7 1502.7h0M998.2 1503.0h0M999.3 1503.3h0M999.7 1502.8h0M999.8 1503.2h0M1000.3 1503.4h0M1007.7 1503.2h0M1012.5 1502.8h0M1015.0 1502.8h0M1017.1 1503.1h0M890.6 1503.9h0M893.7 1503.6h0M897.2 1504.4h0M900.9 1504.1h0M904.8 1503.6h0M905.0 1503.5h0M908.1 1503.7h0M908.4 1504.2h0M911.4 1504.5h0M911.5 1504.2h0M912.3 1504.0h0M912.4 1504.0h0M912.6 1504.1h0M912.7 1504.2h0M913.4 1503.9h0M913.9 1503.5h0M914.0 1503.6h0M914.3 1503.5h0M914.3 1503.9h0M914.6 1503.9h0M915.2 1504.0h0M993.1 1504.3h0M993.3 1503.6h0M993.4 1503.7h0M993.4 1503.9h0M993.4 1504.4h0M993.7 1503.7h0M993.7 1504.3h0M993.9 1504.5h0M994.3 1504.2h0M994.5 1503.5h0M994.8 1504.4h0M995.0 1503.8h0M995.2 1504.0h0M995.2 1503.8h0M995.6 1504.0h0M995.6 1503.7h0M996.4 1503.7h0M996.5 1504.1h0M996.6 1503.6h0M997.2 1503.8h0M997.4 1503.7h0M997.8 1504.0h0M998.1 1503.9h0M999.9 1503.6h0M1003.6 1504.1h0M1004.0 1504.0h0M1004.0 1503.6h0M1009.7 1504.5h0M893.8 1505.3h0M900.5 1504.8h0M901.5 1505.0h0M902.1 1505.2h0M902.1 1504.9h0M902.4 1505.1h0M905.4 1505.2h0M908.9 1504.6h0M909.1 1505.0h0M910.5 1505.3h0M911.5 1505.2h0M911.9 1505.2h0M912.2 1505.0h0M913.2 1505.2h0M913.3 1504.9h0M913.3 1504.7h0M913.5 1504.6h0M913.5 1505.3h0M913.9 1504.8h0M914.5 1505.2h0M914.5 1505.3h0M914.7 1504.6h0M915.7 1505.5h0M992.6 1504.8h0M992.7 1505.2h0M992.7 1505.3h0M993.0 1504.6h0M993.7 1505.1h0M993.8 1505.3h0M994.1 1504.6h0M994.1 1504.8h0M994.5 1504.9h0M996.1 1505.1h0M996.6 1505.1h0M997.9 1504.8h0M998.5 1505.2h0M998.8 1504.8h0M998.9 1504.6h0M999.5 1504.9h0M999.9 1505.4h0M1000.0 1504.7h0M1002.2 1505.4h0M1002.3 1504.7h0M1002.9 1505.1h0M1003.4 1505.0h0M1013.8 1504.6h0M1016.4 1505.5h0M1016.6 1505.2h0M1016.9 1505.4h0M1017.1 1505.1h0M1017.5 1505.2h0M890.9 1506.1h0M892.0 1506.3h0M894.9 1505.5h0M905.8 1505.7h0M909.0 1505.6h0M909.0 1506.1h0M909.5 1506.1h0M913.3 1505.9h0M914.1 1506.3h0M914.6 1506.1h0M914.7 1506.1h0M915.1 1506.4h0M915.3 1506.2h0M915.4 1506.0h0M915.6 1505.5h0M915.6 1505.7h0M915.7 1505.6h0M916.0 1506.2h0M916.1 1506.4h0M992.6 1506.0h0M992.7 1506.0h0M992.9 1505.8h0M993.1 1506.1h0M993.8 1506.3h0M994.0 1506.4h0M994.1 1506.4h0M994.2 1505.7h0M994.9 1506.1h0M995.6 1506.0h0M995.8 1506.2h0M998.0 1505.7h0M998.9 1505.7h0M999.7 1505.6h0M1006.2 1506.3h0M1006.2 1506.0h0M1009.3 1506.2h0M1013.1 1505.7h0M1013.3 1506.0h0M891.3 1506.7h0M895.7 1506.7h0M902.8 1507.3h0M903.1 1507.3h0M906.0 1507.4h0M906.0 1506.7h0M906.4 1507.2h0M909.2 1506.6h0M910.1 1507.5h0M911.6 1507.0h0M912.6 1507.0h0M912.9 1506.6h0M913.1 1507.4h0M913.2 1506.5h0M914.3 1507.4h0M914.4 1507.0h0M914.7 1506.9h0M914.7 1506.9h0M914.7 1506.9h0M914.8 1507.2h0M915.4 1507.4h0M915.9 1506.6h0M916.1 1507.5h0M916.3 1507.3h0M916.6 1507.3h0M992.1 1506.9h0M992.1 1507.4h0M992.4 1507.4h0M993.6 1506.7h0M993.6 1507.3h0M993.7 1507.3h0M993.7 1507.3h0M993.9 1507.2h0M994.2 1507.2h0M994.6 1506.7h0M994.6 1507.1h0M995.3 1507.2h0M995.6 1506.7h0M995.8 1507.5h0M997.4 1507.3h0M997.9 1506.7h0M998.4 1507.2h0M998.8 1507.1h0M1002.4 1507.0h0M1002.5 1506.6h0M1005.1 1507.0h0M1005.7 1506.7h0M1006.4 1507.0h0M1008.7 1507.0h0M1008.9 1507.1h0M892.9 1508.5h0M898.8 1508.2h0M903.0 1508.3h0M909.9 1507.6h0M909.9 1508.2h0M910.0 1508.0h0M910.1 1507.5h0M910.3 1508.2h0M914.2 1508.2h0M914.7 1508.4h0M914.9 1507.6h0M914.9 1508.2h0M915.6 1507.8h0M915.7 1507.6h0M916.0 1507.6h0M916.0 1508.4h0M916.1 1507.8h0M916.1 1508.2h0M916.2 1508.5h0M916.3 1508.0h0M916.5 1507.6h0M916.7 1508.1h0M991.2 1508.4h0M991.6 1507.5h0M992.0 1508.0h0M993.2 1507.8h0M996.3 1507.9h0M996.9 1508.4h0M996.9 1508.1h0M998.0 1508.4h0M998.3 1507.7h0M1001.6 1508.4h0M1005.6 1508.0h0M1012.6 1508.4h0M1016.1 1507.6h0M903.1 1509.0h0M903.5 1509.0h0M903.6 1509.2h0M906.2 1508.9h0M906.9 1508.8h0M907.1 1509.2h0M910.4 1508.8h0M911.0 1508.9h0M913.4 1508.7h0M913.8 1508.6h0M914.3 1509.4h0M914.7 1509.3h0M914.8 1509.3h0M914.8 1508.8h0M915.9 1509.3h0M916.0 1508.6h0M916.0 1509.3h0M916.1 1509.1h0M917.0 1509.2h0M917.1 1509.0h0M991.1 1509.4h0M991.1 1509.4h0M991.3 1508.8h0M991.4 1509.1h0M991.4 1508.6h0M992.8 1509.2h0M992.9 1509.2h0M993.1 1508.8h0M993.2 1508.6h0M994.0 1508.8h0M994.1 1509.3h0M994.5 1509.4h0M995.3 1509.3h0M998.5 1509.2h0M1001.9 1509.1h0M1005.0 1508.6h0M1012.2 1509.4h0M1012.4 1509.2h0M1015.0 1508.7h0M892.6 1510.2h0M899.9 1509.8h0M900.0 1510.4h0M903.1 1509.8h0M903.4 1509.6h0M909.9 1509.8h0M910.9 1510.2h0M911.6 1509.8h0M911.8 1510.4h0M914.6 1509.8h0M915.2 1510.5h0M915.3 1509.9h0M915.5 1509.5h0M915.9 1509.7h0M916.1 1509.6h0M917.2 1509.8h0M917.5 1509.8h0M990.5 1510.5h0M990.8 1509.6h0M991.0 1510.4h0M991.0 1510.4h0M991.4 1510.4h0M991.5 1509.6h0M991.7 1510.3h0M992.2 1510.4h0M992.2 1510.2h0M992.5 1510.5h0M992.9 1510.1h0M993.2 1510.0h0M994.0 1510.1h0M994.3 1510.3h0M995.8 1510.0h0M996.9 1509.8h0M997.5 1510.3h0M997.8 1509.8h0M1007.7 1510.4h0M1008.6 1509.7h0M1011.3 1510.5h0M1014.3 1510.3h0M893.7 1510.9h0M894.3 1510.5h0M896.9 1511.4h0M911.3 1511.3h0M911.6 1511.2h0M912.1 1510.7h0M913.9 1511.3h0M914.6 1510.6h0M914.9 1510.9h0M915.0 1511.4h0M915.3 1511.3h0M915.3 1510.7h0M915.6 1511.2h0M916.1 1511.2h0M916.2 1511.0h0M916.5 1511.3h0M916.8 1511.0h0M916.8 1510.9h0M917.5 1511.0h0M917.6 1511.0h0M918.0 1511.1h0M990.3 1511.2h0M990.4 1510.6h0M990.8 1511.1h0M990.9 1511.2h0M991.1 1510.6h0M991.1 1511.0h0M991.4 1510.9h0M991.5 1511.1h0M991.7 1511.2h0M991.7 1510.9h0M991.8 1510.9h0M991.8 1510.8h0M991.9 1511.4h0M992.5 1510.9h0M993.6 1510.7h0M993.8 1511.1h0M994.2 1511.2h0M994.5 1510.5h0M997.0 1511.1h0M997.4 1511.5h0M1001.6 1510.7h0M1003.9 1510.5h0M1004.1 1511.2h0M1004.9 1511.3h0M1008.2 1511.5h0M1009.1 1510.9h0M1011.2 1511.2h0M1011.4 1511.4h0M1011.9 1510.6h0M1015.7 1510.5h0M894.1 1511.6h0M900.5 1512.3h0M904.3 1511.9h0M908.2 1512.2h0M911.0 1512.1h0M911.5 1512.0h0M915.1 1511.9h0M915.4 1511.7h0M915.7 1511.8h0M916.3 1511.5h0M916.6 1512.4h0M917.2 1512.1h0M917.5 1511.7h0M917.5 1512.0h0M917.9 1512.2h0M918.2 1512.0h0M918.3 1512.2h0M918.3 1511.8h0M918.3 1512.0h0M989.9 1511.9h0M990.3 1512.0h0M991.0 1512.3h0M991.4 1512.4h0M991.5 1512.0h0M991.7 1511.9h0M991.8 1512.2h0M991.9 1511.8h0M992.2 1512.2h0M992.3 1512.1h0M992.4 1512.0h0M992.5 1512.4h0M992.5 1512.1h0M993.2 1512.4h0M994.9 1511.7h0M995.0 1512.2h0M995.4 1512.1h0M995.5 1512.2h0M996.2 1512.3h0M999.8 1511.9h0M1000.8 1511.5h0M1002.8 1512.4h0M1010.9 1511.5h0M1011.6 1511.6h0M1013.9 1511.7h0M1014.0 1512.4h0M1014.9 1512.2h0M896.9 1513.0h0M897.3 1513.3h0M897.3 1513.0h0M904.4 1513.3h0M904.9 1512.9h0M908.2 1513.4h0M908.6 1513.3h0M908.7 1512.5h0M912.5 1513.4h0M912.5 1512.9h0M912.7 1513.3h0M912.9 1513.0h0M914.6 1513.4h0M915.4 1513.1h0M915.4 1513.3h0M915.5 1512.7h0M915.8 1512.9h0M916.2 1512.6h0M916.7 1513.0h0M917.4 1512.9h0M917.8 1513.5h0M917.9 1513.0h0M917.9 1513.1h0M918.5 1513.0h0M918.7 1513.3h0M989.4 1513.4h0M989.7 1513.2h0M990.6 1513.2h0M990.7 1513.2h0M991.6 1512.6h0M992.5 1512.6h0M993.3 1512.9h0M993.4 1512.6h0M993.4 1512.6h0M993.5 1512.6h0M993.8 1512.8h0M995.3 1512.9h0M996.1 1512.7h0M996.2 1513.2h0M996.4 1513.3h0M1000.4 1513.1h0M1002.9 1513.5h0M1003.7 1512.8h0M1013.6 1513.3h0M1014.0 1513.1h0M894.2 1513.5h0M894.8 1514.5h0M904.8 1514.0h0M905.0 1514.0h0M912.5 1514.2h0M912.5 1513.6h0M912.9 1514.2h0M913.7 1513.9h0M914.9 1514.4h0M915.6 1513.9h0M916.3 1514.0h0M916.8 1514.0h0M916.9 1513.9h0M917.1 1513.9h0M917.5 1513.8h0M918.2 1514.5h0M918.3 1513.9h0M918.7 1514.0h0M919.2 1514.0h0M919.2 1514.4h0M989.1 1514.5h0M989.3 1513.5h0M989.4 1513.7h0M989.6 1514.4h0M989.9 1514.5h0M991.0 1513.7h0M991.1 1513.9h0M991.2 1514.2h0M991.4 1513.6h0M993.2 1514.1h0M993.7 1513.8h0M994.1 1513.6h0M994.7 1513.8h0M995.9 1513.8h0M996.5 1514.0h0M1010.8 1514.3h0M1013.3 1514.3h0M901.6 1515.2h0M908.4 1514.7h0M908.7 1515.2h0M909.1 1515.0h0M913.0 1515.5h0M913.3 1515.1h0M913.4 1515.2h0M914.7 1515.1h0M915.2 1514.8h0M916.6 1515.4h0M917.0 1514.5h0M917.2 1514.8h0M917.3 1515.0h0M919.0 1514.8h0M919.1 1514.8h0M919.2 1514.8h0M919.2 1515.1h0M988.8 1515.0h0M989.3 1514.6h0M989.9 1515.2h0M990.1 1514.6h0M990.2 1515.1h0M990.2 1514.9h0M990.7 1514.5h0M990.9 1515.0h0M991.0 1514.6h0M991.1 1514.9h0M991.4 1515.3h0M991.5 1514.7h0M991.6 1514.8h0M991.7 1515.3h0M991.8 1514.9h0M992.1 1515.4h0M993.7 1515.0h0M995.4 1515.1h0M995.6 1515.1h0M1000.7 1514.7h0M1002.5 1515.1h0M1002.8 1514.9h0M1003.9 1514.6h0M1010.9 1514.6h0M896.6 1515.8h0M902.3 1516.1h0M905.7 1515.9h0M908.5 1516.0h0M909.1 1516.1h0M913.3 1515.8h0M913.4 1515.7h0M915.4 1515.6h0M915.7 1515.7h0M918.0 1516.5h0M919.4 1516.2h0M919.5 1516.1h0M988.6 1516.3h0M988.8 1515.7h0M988.9 1516.1h0M989.2 1515.6h0M989.2 1515.9h0M989.6 1516.3h0M990.0 1516.5h0M990.3 1515.9h0M990.4 1516.4h0M991.5 1515.8h0M992.3 1515.7h0M992.6 1516.4h0M993.4 1515.6h0M994.2 1516.2h0M994.2 1515.5h0M994.6 1516.1h0M995.4 1516.2h0M999.3 1515.8h0M1002.7 1516.3h0M1005.2 1516.1h0M1006.1 1516.1h0M1009.2 1516.1h0M1009.4 1515.6h0M1009.9 1515.9h0M1010.2 1516.1h0M895.6 1517.1h0M898.6 1516.7h0M899.1 1516.5h0M899.2 1516.8h0M906.0 1517.0h0M906.4 1517.1h0M906.5 1517.0h0M909.4 1516.5h0M910.3 1517.5h0M912.8 1516.6h0M913.0 1517.2h0M913.1 1517.4h0M914.0 1517.2h0M914.1 1516.9h0M916.5 1517.4h0M916.7 1516.5h0M916.8 1516.8h0M917.3 1517.1h0M917.7 1516.6h0M918.2 1517.0h0M918.4 1516.7h0M918.6 1517.1h0M918.8 1516.9h0M918.9 1516.6h0M919.0 1517.5h0M919.1 1517.3h0M919.2 1516.8h0M988.1 1517.5h0M988.1 1517.1h0M988.4 1517.3h0M988.4 1517.4h0M988.9 1517.2h0M988.9 1517.4h0M989.0 1517.1h0M989.4 1516.9h0M989.5 1517.3h0M989.5 1516.7h0M989.6 1517.1h0M989.9 1516.5h0M990.1 1517.3h0M990.3 1517.0h0M990.7 1516.5h0M990.9 1517.0h0M991.1 1517.2h0M991.3 1516.6h0M991.4 1516.6h0M991.6 1517.4h0M991.8 1516.6h0M991.8 1517.1h0M998.7 1516.9h0M1001.9 1516.8h0M1012.0 1517.5h0M1012.1 1516.7h0M1012.5 1516.8h0M896.3 1517.9h0M896.7 1517.8h0M902.9 1517.6h0M906.0 1518.1h0M906.9 1518.5h0M913.8 1517.8h0M914.2 1518.4h0M914.3 1518.0h0M914.6 1518.5h0M914.9 1518.2h0M915.0 1518.5h0M915.5 1518.4h0M916.6 1518.2h0M917.1 1517.6h0M918.7 1517.6h0M918.7 1518.3h0M919.0 1518.2h0M919.7 1518.0h0M919.8 1518.4h0M919.8 1517.8h0M919.9 1518.2h0M920.0 1518.2h0M920.1 1518.4h0M920.1 1518.4h0M920.5 1517.9h0M987.5 1518.0h0M987.5 1518.3h0M987.7 1517.7h0M988.2 1517.7h0M988.3 1518.4h0M988.4 1518.2h0M988.4 1517.9h0M988.5 1518.5h0M988.9 1517.5h0M989.0 1518.2h0M989.0 1517.9h0M989.4 1517.6h0M990.3 1518.1h0M991.0 1518.2h0M993.7 1518.0h0M993.9 1518.3h0M994.1 1517.9h0M994.7 1518.2h0M995.1 1517.8h0M998.0 1517.6h0M1001.7 1518.0h0M1001.8 1518.1h0M1001.8 1518.1h0M1002.6 1517.9h0M1004.7 1518.3h0M1004.9 1517.8h0M1005.3 1518.4h0M1005.5 1517.7h0M1006.0 1517.8h0M1008.2 1518.2h0M1008.8 1518.2h0M1008.9 1518.0h0M896.4 1518.5h0M899.2 1519.1h0M900.1 1518.5h0M903.5 1519.1h0M910.4 1519.1h0M910.5 1519.4h0M914.6 1519.1h0M914.6 1519.4h0M915.3 1518.6h0M915.3 1519.2h0M916.4 1519.0h0M916.8 1518.9h0M917.7 1518.8h0M919.0 1518.9h0M919.0 1519.2h0M919.0 1519.1h0M919.5 1519.2h0M919.7 1519.0h0M920.7 1518.6h0M987.3 1519.2h0M988.4 1519.5h0M988.4 1519.0h0M988.8 1518.7h0M989.0 1518.9h0M989.0 1518.7h0M989.1 1518.7h0M989.1 1519.1h0M989.7 1518.8h0M989.8 1518.5h0M990.8 1519.3h0M990.9 1519.0h0M992.0 1518.7h0M992.1 1518.8h0M992.3 1519.4h0M992.7 1518.8h0M993.7 1519.2h0M997.1 1519.5h0M1000.9 1519.5h0M1004.4 1519.0h0M1004.9 1519.4h0M1005.3 1518.6h0M1008.0 1519.4h0M1008.3 1519.1h0M1011.8 1518.6h0M900.1 1519.9h0M900.6 1520.5h0M907.2 1520.3h0M907.6 1520.1h0M910.5 1519.8h0M911.3 1519.6h0M914.1 1519.8h0M914.6 1520.3h0M914.7 1520.1h0M914.8 1520.4h0M915.9 1520.2h0M917.2 1519.8h0M918.4 1520.2h0M918.5 1520.2h0M918.5 1520.3h0M918.5 1519.8h0M918.9 1519.5h0M920.1 1520.5h0M920.1 1519.7h0M920.5 1519.6h0M920.5 1519.6h0M920.9 1519.8h0M921.0 1520.0h0M987.0 1520.0h0M987.3 1520.2h0M987.8 1520.5h0M988.1 1519.9h0M988.4 1519.8h0M988.7 1519.8h0M989.7 1520.0h0M989.9 1519.6h0M990.2 1520.0h0M990.4 1520.1h0M991.2 1520.1h0M993.2 1520.5h0M993.6 1520.1h0M993.9 1519.7h0M994.2 1520.2h0M996.5 1520.1h0M997.3 1520.1h0M997.4 1519.8h0M1004.7 1520.0h0M1008.0 1520.2h0M1011.2 1520.5h0M897.4 1520.9h0M904.0 1521.1h0M907.3 1520.9h0M907.7 1521.3h0M911.8 1520.6h0M912.0 1521.2h0M915.2 1520.8h0M916.1 1520.6h0M916.6 1520.9h0M916.7 1520.9h0M917.2 1521.2h0M917.3 1521.0h0M917.8 1520.7h0M919.0 1520.5h0M919.2 1521.1h0M919.4 1521.2h0M919.5 1520.7h0M919.8 1521.4h0M919.8 1520.7h0M920.4 1520.9h0M921.1 1520.6h0M921.1 1521.0h0M921.4 1521.2h0M986.4 1521.2h0M986.7 1520.5h0M986.9 1521.0h0M987.4 1520.7h0M987.4 1520.8h0M987.5 1521.0h0M987.8 1520.6h0M987.9 1520.9h0M987.9 1521.5h0M988.2 1521.0h0M988.9 1520.8h0M989.2 1520.9h0M989.9 1520.7h0M990.1 1520.7h0M990.7 1521.4h0M990.9 1520.6h0M991.1 1521.0h0M991.1 1520.5h0M992.2 1520.9h0M992.4 1521.0h0M992.6 1520.8h0M992.6 1520.5h0M992.9 1521.1h0M993.0 1520.9h0M993.4 1520.5h0M995.7 1521.4h0M997.0 1520.8h0M1000.8 1521.0h0M1000.8 1520.8h0M1000.8 1520.5h0M1005.1 1521.0h0M1007.9 1520.8h0M897.0 1522.2h0M898.0 1521.9h0M908.3 1521.8h0M911.2 1522.3h0M915.5 1522.2h0M916.4 1522.2h0M916.5 1522.0h0M916.6 1521.8h0M917.3 1521.9h0M918.2 1521.8h0M919.5 1522.3h0M920.5 1521.6h0M920.6 1521.7h0M920.6 1522.4h0M920.9 1522.2h0M921.0 1521.7h0M921.4 1522.4h0M921.7 1522.4h0M921.9 1522.3h0M985.9 1522.2h0M986.2 1521.9h0M986.2 1522.1h0M986.5 1521.8h0M986.5 1522.3h0M986.8 1521.9h0M987.7 1521.9h0M988.0 1521.6h0M988.5 1521.9h0M988.7 1521.5h0M988.7 1521.9h0M988.8 1521.9h0M989.1 1521.6h0M989.3 1521.7h0M989.6 1522.4h0M990.1 1522.4h0M990.2 1522.1h0M990.3 1522.1h0M990.5 1522.4h0M991.7 1522.3h0M992.1 1522.5h0M992.2 1522.0h0M992.3 1521.5h0M992.7 1522.2h0M992.8 1521.8h0M995.3 1522.3h0M995.8 1521.9h0M996.5 1522.3h0M999.9 1522.2h0M1003.5 1521.8h0M1004.5 1521.6h0M1007.9 1521.7h0M1009.2 1522.2h0M1010.6 1522.5h0M905.2 1522.9h0M908.6 1523.0h0M908.8 1522.8h0M909.0 1523.1h0M912.0 1522.6h0M915.9 1522.9h0M916.0 1522.7h0M916.3 1522.6h0M917.3 1523.0h0M917.4 1523.3h0M917.7 1522.6h0M918.8 1523.1h0M919.0 1523.3h0M919.2 1523.0h0M919.5 1523.4h0M919.5 1523.0h0M919.9 1523.1h0M920.1 1522.9h0M920.2 1523.1h0M920.3 1523.4h0M920.8 1522.8h0M921.0 1522.7h0M921.1 1523.2h0M921.1 1523.4h0M921.4 1522.6h0M921.7 1522.7h0M921.7 1523.2h0M921.8 1522.6h0M921.8 1522.6h0M921.9 1522.7h0M922.0 1523.2h0M922.1 1523.3h0M922.2 1522.7h0M922.3 1522.6h0M922.3 1522.8h0M922.3 1522.9h0M922.5 1523.4h0M985.5 1523.3h0M985.6 1522.9h0M985.7 1522.6h0M985.9 1523.4h0M986.2 1523.2h0M986.3 1523.0h0M986.3 1523.4h0M986.4 1523.2h0M986.5 1522.8h0M986.6 1523.1h0M986.6 1522.7h0M986.6 1523.1h0M986.9 1523.1h0M987.2 1523.3h0M987.3 1523.0h0M987.7 1523.4h0M987.8 1522.9h0M988.0 1523.4h0M988.3 1522.8h0M988.4 1523.2h0M988.6 1522.6h0M988.6 1523.4h0M989.2 1522.9h0M989.2 1522.7h0M989.3 1523.0h0M989.8 1522.8h0M990.4 1522.8h0M991.9 1522.9h0M992.6 1523.3h0M992.8 1523.0h0M995.6 1522.5h0M995.7 1523.3h0M999.5 1522.9h0M999.7 1522.8h0M1003.1 1523.0h0M1006.4 1522.9h0M1009.7 1522.9h0M1009.8 1523.0h0M1009.9 1523.3h0M1010.2 1523.2h0M912.7 1523.6h0M912.8 1524.1h0M912.9 1523.9h0M916.2 1523.9h0M916.4 1524.4h0M916.9 1524.2h0M917.0 1523.6h0M917.1 1524.0h0M917.1 1524.1h0M917.8 1523.8h0M918.2 1524.1h0M918.6 1523.7h0M919.1 1524.3h0M919.3 1523.8h0M920.0 1524.1h0M920.5 1524.2h0M920.5 1524.5h0M920.7 1523.7h0M920.8 1523.6h0M921.1 1523.5h0M921.2 1523.8h0M921.4 1524.4h0M921.6 1523.6h0M922.0 1523.7h0M922.1 1523.6h0M922.6 1524.2h0M922.6 1523.5h0M922.9 1523.7h0M922.9 1523.8h0M923.0 1524.5h0M985.4 1523.7h0M985.8 1523.7h0M986.0 1523.8h0M986.9 1524.3h0M986.9 1524.3h0M987.0 1524.1h0M987.5 1523.7h0M987.9 1523.6h0M988.0 1524.5h0M988.2 1524.4h0M988.9 1523.7h0M989.9 1523.7h0M991.6 1524.1h0M991.8 1523.9h0M992.7 1524.0h0M996.9 1523.7h0M999.5 1524.0h0M1002.7 1524.1h0M1003.0 1523.7h0M1007.1 1524.5h0M1009.8 1523.6h0M898.6 1524.6h0M899.1 1525.4h0M905.2 1524.7h0M906.5 1525.4h0M909.7 1525.2h0M912.6 1524.6h0M916.2 1525.1h0M916.5 1524.8h0M916.8 1525.5h0M917.1 1525.1h0M917.4 1525.3h0M918.2 1524.8h0M919.1 1524.9h0M919.3 1524.6h0M920.2 1525.3h0M920.6 1525.3h0M920.7 1525.5h0M920.8 1524.8h0M921.3 1524.7h0M921.5 1524.6h0M921.6 1525.4h0M921.7 1524.8h0M921.8 1525.3h0M922.3 1525.4h0M922.5 1524.9h0M922.5 1525.3h0M922.9 1525.0h0M923.0 1525.5h0M923.2 1524.7h0M923.4 1525.1h0M984.6 1525.3h0M985.3 1525.2h0M985.3 1525.2h0M985.7 1525.0h0M985.8 1524.8h0M985.9 1525.2h0M986.2 1525.3h0M986.3 1524.6h0M986.3 1525.2h0M986.4 1524.9h0M986.7 1525.4h0M986.8 1525.0h0M986.9 1524.9h0M987.4 1524.7h0M987.4 1525.2h0M987.6 1524.6h0M988.2 1525.1h0M988.3 1525.0h0M990.4 1524.9h0M991.2 1524.6h0M999.0 1525.4h0M1002.5 1525.1h0M1005.9 1525.4h0M1006.5 1524.7h0M1007.0 1525.2h0M1008.7 1525.0h0M1009.1 1524.6h0M899.7 1526.0h0M902.3 1526.2h0M905.0 1526.2h0M906.4 1526.2h0M909.5 1526.0h0M909.7 1526.1h0M913.4 1526.5h0M913.9 1526.2h0M916.4 1526.4h0M917.0 1526.1h0M917.3 1526.1h0M917.4 1525.9h0M917.5 1525.7h0M918.6 1525.9h0M920.6 1526.1h0M920.9 1526.1h0M921.0 1526.4h0M921.2 1526.4h0M921.6 1525.9h0M921.7 1525.6h0M921.9 1526.2h0M922.1 1526.1h0M922.2 1525.7h0M922.6 1525.6h0M922.9 1526.4h0M923.0 1526.3h0M923.0 1526.2h0M923.8 1526.2h0M984.4 1526.0h0M984.6 1526.5h0M984.7 1525.7h0M985.0 1526.0h0M985.0 1526.4h0M985.1 1525.9h0M985.2 1526.5h0M985.7 1526.4h0M985.9 1526.3h0M986.4 1525.6h0M986.8 1525.9h0M987.0 1526.0h0M987.0 1526.4h0M990.4 1525.9h0M990.7 1525.9h0M990.7 1525.6h0M990.9 1525.8h0M991.2 1526.2h0M991.8 1526.3h0M992.1 1525.9h0M995.1 1526.0h0M998.3 1526.0h0M998.8 1526.2h0M999.3 1525.6h0M1005.5 1526.1h0M1005.7 1526.1h0M1005.9 1525.6h0M1009.1 1525.8h0M898.9 1527.1h0M899.7 1526.8h0M900.1 1527.1h0M901.4 1527.1h0M902.6 1527.1h0M902.9 1526.7h0M903.8 1527.1h0M905.1 1527.1h0M905.8 1526.9h0M906.1 1526.9h0M906.3 1527.1h0M907.5 1527.1h0M908.7 1527.1h0M910.0 1527.1h0M911.2 1527.1h0M912.4 1527.1h0M913.7 1527.1h0M914.9 1527.1h0M916.1 1527.1h0M917.4 1527.1h0M918.6 1527.1h0M919.8 1527.1h0M920.1 1527.1h0M920.4 1526.6h0M920.7 1527.1h0M921.0 1527.1h0M921.4 1527.1h0M921.7 1527.1h0M922.3 1527.1h0M923.5 1527.1h0M923.6 1527.0h0M923.6 1526.9h0M923.8 1526.9h0M923.9 1526.7h0M924.7 1527.1h0M926.0 1527.1h0M927.2 1527.1h0M928.4 1527.1h0M929.7 1527.1h0M930.9 1527.1h0M932.1 1527.1h0M933.3 1527.1h0M934.6 1527.1h0M935.8 1527.1h0M937.0 1527.1h0M938.3 1527.1h0M939.5 1527.1h0M940.7 1527.1h0M942.0 1527.1h0M943.2 1527.1h0M944.4 1527.1h0M945.6 1527.1h0M946.9 1527.1h0M948.1 1527.1h0M949.3 1527.1h0M950.6 1527.1h0M951.8 1527.1h0M953.0 1527.1h0M954.3 1527.1h0M955.5 1527.1h0M956.7 1527.1h0M957.9 1527.1h0M959.2 1527.1h0M960.4 1527.1h0M961.6 1527.1h0M962.9 1527.1h0M964.1 1527.1h0M965.3 1527.1h0M966.6 1527.1h0M967.8 1527.1h0M969.0 1527.1h0M970.2 1527.1h0M971.5 1527.1h0M972.7 1527.1h0M973.9 1527.1h0M975.2 1527.1h0M976.4 1527.1h0M977.6 1527.1h0M978.8 1527.1h0M980.1 1527.1h0M981.3 1527.1h0M982.5 1527.1h0M983.8 1527.1h0M984.3 1526.9h0M984.9 1527.1h0M985.0 1527.1h0M985.3 1526.8h0M986.2 1527.1h0M986.2 1527.0h0M987.0 1526.5h0M987.3 1527.0h0M987.5 1527.1h0M987.5 1526.8h0M987.7 1526.6h0M988.4 1526.8h0M988.7 1527.1h0M988.9 1527.0h0M989.9 1527.1h0M991.1 1527.1h0M991.6 1526.7h0M991.9 1526.7h0M992.4 1527.1h0M993.6 1527.1h0M994.2 1526.8h0M994.8 1526.7h0M994.8 1527.1h0M996.1 1527.1h0M997.3 1527.1h0M998.5 1527.1h0M999.8 1527.1h0M1001.0 1527.1h0M1002.2 1527.1h0M1002.5 1526.5h0M1003.4 1527.1h0M1004.7 1527.1h0M1005.5 1526.8h0M1005.9 1527.1h0M1007.1 1527.1h0M1008.4 1527.1h0M1009.1 1527.0h0M1009.6 1527.1h0" stroke="#c6c6c6" stroke-width="3.9" fill="none" stroke-linecap="round"/>
<circle cx="1094.6" cy="1242.1" r="2.3" fill="#1b7a34"/>
<text x="1036.4" y="1237.9">AXL</text>
<circle cx="823.6" cy="1268.6" r="2.3" fill="#1b7a34"/>
<text x="833.6" y="1264.3">SOX10</text>
<circle cx="1057.1" cy="1338.6" r="2.3" fill="#1b7a34"/>
<text x="972.6" y="1332.9">EGFR</text>
<circle cx="889.6" cy="1447.9" r="2.3" fill="#1b7a34"/>
<text x="897.6" y="1441.8">MITF</text>
<rect x="764.6" y="1189.3" width="392.2" height="350.7" fill="none" stroke="#000" stroke-width="1.4"/>
<text transform="translate(748.3 1528.3) rotate(-90)" text-anchor="middle">0</text>
<text transform="translate(748.3 1457.05) rotate(-90)" text-anchor="middle">1</text>
<text transform="translate(748.3 1385.8) rotate(-90)" text-anchor="middle">2</text>
<text transform="translate(748.3 1314.55) rotate(-90)" text-anchor="middle">3</text>
<text transform="translate(748.3 1243.3) rotate(-90)" text-anchor="middle">4</text>
<text x="806.1" y="1578.6" font-size="27" text-anchor="middle">-10</text>
<text x="878.4" y="1578.6" font-size="27" text-anchor="middle">-5</text>
<text x="954.1" y="1578.6" font-size="27" text-anchor="middle">0</text>
<text x="1024.8" y="1578.6" font-size="27" text-anchor="middle">5</text>
<text x="1096.8" y="1578.6" font-size="27" text-anchor="middle">10</text>
<path d="M764.6 1527.1h-8.6M764.6 1455.85h-8.6M764.6 1384.6h-8.6M764.6 1313.35h-8.6M764.6 1242.1h-8.6M812.9 1540v8.4M883.4 1540v8.4M953.9 1540v8.4M1024.4 1540v8.4M1094.9 1540v8.4" stroke="#000" stroke-width="1.4" fill="none"/>
<text transform="translate(709.6 1368.3) rotate(-90)" text-anchor="middle" textLength="191" lengthAdjust="spacing">-log<tspan dy="7.65" font-size="14.79">10</tspan><tspan dy="-7.65"> adj </tspan><tspan font-style="italic">p</tspan> value</text>
<text x="861" y="1615" textLength="191.5" lengthAdjust="spacing">Log<tspan dy="7.65" font-size="14.79">2</tspan><tspan dy="-7.65"> fold change</tspan></text>
<text x="823.4" y="1646.4" textLength="275" lengthAdjust="spacing">(A375-YAP<tspan dy="-8.8" font-size="14.79">5SA</tspan><tspan dy="8.8">/A375-EV)</tspan></text>
<text x="1291.85" y="1184.6" font-size="43.7" style="stroke-width:.15px">h</text>
<text x="1517.1" y="1207.7">A375</text>
<text x="1590.4" y="1207.7" textLength="116" lengthAdjust="spacing">SKMEL28</text>
<path d="M1503.7 1230.9H1589.4M1597.1 1230.9H1680.6" stroke="#000" stroke-width="1.3" fill="none"/>
<text transform="translate(1542.3 1315.3) rotate(-90)">EV</text>
<text transform="translate(1585.1 1316.5) rotate(-90)" textLength="78" lengthAdjust="spacing">YAP<tspan dy="-8.8" font-size="14.79">5SA</tspan></text>
<text transform="translate(1618.6 1315.3) rotate(-90)">EV</text>
<text transform="translate(1661.4 1316.5) rotate(-90)" textLength="78" lengthAdjust="spacing">YAP<tspan dy="-8.8" font-size="14.79">5SA</tspan></text>
<text x="1483.4" y="1359.1" font-size="25.9" text-anchor="end">AXL</text>
<text x="1484" y="1400.9" font-size="25.9" text-anchor="end">EGFR</text>
<text x="1484.4" y="1445.1" font-size="25.9" text-anchor="end">SOX10</text>
<text x="1483.2" y="1499.1" font-size="25.9" text-anchor="end">MITF</text>
<text x="1484" y="1549.1" font-size="25.9" text-anchor="end">β-Actin</text>
<clipPath id="cp6"><rect x="1503.7" y="1329.4" width="178" height="35.7"/></clipPath>
<rect x="1503.7" y="1329.4" width="178" height="35.7" fill="#fff"/>
<g clip-path="url(#cp6)">
<g filter="url(#bl1)"><rect x="1521.2" y="1344.1" width="27" height="5" rx="2.5" ry="2.5" opacity="0.75"/><rect x="1522.7" y="1343.4" width="10" height="6" rx="3" ry="3" opacity="0.6"/><rect x="1559.3" y="1341.3" width="31" height="14" rx="5.5" ry="5.5" opacity="1"/><rect x="1560.8" y="1342.8" width="28" height="11" rx="5.5" ry="5.5" opacity="1"/><rect x="1637.4" y="1342.25" width="31" height="9.5" rx="4.75" ry="4.75" opacity="1"/><rect x="1638.9" y="1343" width="28" height="7" rx="3.5" ry="3.5" opacity="1"/></g>
<g filter="url(#bl2)"><rect x="1639.4" y="1351.5" width="27" height="4" rx="2" ry="2" opacity="0.45"/></g>
</g>
<rect x="1503.7" y="1329.4" width="178" height="35.7" fill="none" stroke="#1a1a1a" stroke-width="1.4"/>
<clipPath id="cp7"><rect x="1503.7" y="1372.3" width="178" height="30.6"/></clipPath>
<rect x="1503.7" y="1372.3" width="178" height="30.6" fill="#fff"/>
<g clip-path="url(#cp7)">
<g filter="url(#bl1)"><rect x="1559.6" y="1382.35" width="30" height="8.5" rx="4.25" ry="4.25" opacity="1"/><rect x="1561.6" y="1383.6" width="26" height="6" rx="3" ry="3" opacity="1"/><rect x="1599.9" y="1385.4" width="26" height="2.4" rx="1.2" ry="1.2" opacity="0.35"/><rect x="1637.9" y="1383.7" width="29" height="5.4" rx="2.7" ry="2.7" opacity="1"/><rect x="1640.4" y="1384.65" width="24" height="3.5" rx="1.75" ry="1.75" opacity="0.8"/></g>
</g>
<rect x="1503.7" y="1372.3" width="178" height="30.6" fill="none" stroke="#1a1a1a" stroke-width="1.4"/>
<clipPath id="cp8"><rect x="1503.7" y="1409.4" width="178" height="45.7"/></clipPath>
<rect x="1503.7" y="1409.4" width="178" height="45.7" fill="#fff"/>
<g clip-path="url(#cp8)">
<g filter="url(#bl2)"><rect x="1522.2" y="1415.1" width="28" height="7" rx="3.5" ry="3.5" opacity="0.4"/><rect x="1520.2" y="1433.3" width="33" height="11" rx="5.5" ry="5.5" opacity="1"/><rect x="1599.9" y="1414.65" width="29" height="7.5" rx="3.75" ry="3.75" opacity="0.85"/><rect x="1600.4" y="1422" width="28" height="8" rx="4" ry="4" opacity="0.3"/><rect x="1598.4" y="1432.85" width="32" height="11.5" rx="5.5" ry="5.5" opacity="1"/></g>
<g filter="url(#bl1)"><rect x="1522.2" y="1434.8" width="29" height="8" rx="4" ry="4" opacity="1"/><rect x="1564.3" y="1444" width="22" height="2" rx="1" ry="1" opacity="0.08"/><rect x="1600.4" y="1434.35" width="28" height="8.5" rx="4.25" ry="4.25" opacity="1"/></g>
</g>
<rect x="1503.7" y="1409.4" width="178" height="45.7" fill="none" stroke="#1a1a1a" stroke-width="1.4"/>
<clipPath id="cp9"><rect x="1503.7" y="1462.3" width="178" height="52"/></clipPath>
<rect x="1503.7" y="1462.3" width="178" height="52" fill="#fff"/>
<g clip-path="url(#cp9)">
<g filter="url(#bl2)"><rect x="1518.7" y="1479" width="34" height="21" rx="5.5" ry="5.5" opacity="1"/><rect x="1521.7" y="1473" width="28" height="6" rx="3" ry="3" opacity="0.15"/><rect x="1558.3" y="1481.8" width="32" height="11" rx="5.5" ry="5.5" opacity="1"/><rect x="1561.3" y="1472" width="26" height="8" rx="4" ry="4" opacity="0.18"/><rect x="1562.3" y="1494.5" width="24" height="5" rx="2.5" ry="2.5" opacity="0.15"/><rect x="1597.9" y="1470.5" width="32" height="37" rx="5.5" ry="5.5" opacity="1"/><rect x="1636.4" y="1480.5" width="33" height="10" rx="5" ry="5" opacity="1"/><rect x="1637.9" y="1470.5" width="30" height="9" rx="4.5" ry="4.5" opacity="0.5"/><rect x="1638.9" y="1494" width="28" height="8" rx="4" ry="4" opacity="0.15"/></g>
<g filter="url(#bl1)"><rect x="1520.7" y="1481" width="30" height="17" rx="5.5" ry="5.5" opacity="1"/><rect x="1560.8" y="1483.8" width="27" height="7" rx="3.5" ry="3.5" opacity="1"/><rect x="1599.4" y="1472.5" width="29" height="33" rx="5.5" ry="5.5" opacity="1"/><rect x="1638.9" y="1482.5" width="28" height="6" rx="3" ry="3" opacity="0.9"/></g>
</g>
<rect x="1503.7" y="1462.3" width="178" height="52" fill="none" stroke="#1a1a1a" stroke-width="1.4"/>
<clipPath id="cp10"><rect x="1503.7" y="1520.9" width="178" height="36.2"/></clipPath>
<rect x="1503.7" y="1520.9" width="178" height="36.2" fill="#fff"/>
<g clip-path="url(#cp10)">
<g filter="url(#bl1)"><rect x="1518.7" y="1535.1" width="33" height="7" rx="3.5" ry="3.5" opacity="1"/><rect x="1521.2" y="1536.1" width="28" height="5" rx="2.5" ry="2.5" opacity="1"/><rect x="1557.3" y="1535.65" width="34" height="7.5" rx="3.75" ry="3.75" opacity="1"/><rect x="1559.8" y="1536.65" width="29" height="5.5" rx="2.75" ry="2.75" opacity="1"/><rect x="1598.4" y="1536.75" width="31" height="6.5" rx="3.25" ry="3.25" opacity="1"/><rect x="1600.9" y="1537.75" width="26" height="4.5" rx="2.25" ry="2.25" opacity="1"/><rect x="1636.4" y="1536.65" width="33" height="7.5" rx="3.75" ry="3.75" opacity="1"/><rect x="1638.9" y="1537.65" width="28" height="5.5" rx="2.75" ry="2.75" opacity="1"/></g>
</g>
<rect x="1503.7" y="1520.9" width="178" height="36.2" fill="none" stroke="#1a1a1a" stroke-width="1.4"/>
<text x="-4.3" y="1719.5" font-size="39" font-weight="bold" style="stroke-width:.4px">i</text>
<text x="804.6" y="1730.5" font-size="32" textLength="499" lengthAdjust="spacing">SKMEL28-YAP<tspan dy="-11.04" font-size="18.56">5SA</tspan><tspan dy="11.04"> vs SKMEL28-EV</tspan></text>
<text x="875.2" y="2147.5" font-size="32" textLength="357" lengthAdjust="spacing">A375-YAP<tspan dy="-11.04" font-size="18.56">5SA</tspan><tspan dy="11.04"> vs A375-EV</tspan></text>
<path d="M167 1811.3H396.3M167 1862.65H396.3M167 1914H396.3M167 1965H396.3M167 2016H396.3M177.5 1801.8V2026M233.5 1801.8V2026M289.5 1801.8V2026M345.5 1801.8V2026" stroke="#f3f3f3" stroke-width="1" fill="none"/>
<path d="M167 1811.3h-2.2M167 1862.65h-2.2M167 1914h-2.2M167 1965h-2.2M167 2016h-2.2M177.5 2026v2.2M233.5 2026v2.2M289.5 2026v2.2M345.5 2026v2.2" stroke="#555" stroke-width="1" fill="none"/>
<path d="M167 1907.32H396.3" stroke="#f0706a" stroke-width="1.15" stroke-dasharray="13.7 13.7" stroke-dashoffset="1" fill="none"/>
<path d="M167 1991.01H396.3" stroke="#f0706a" stroke-width="1.15" stroke-dasharray="13.7 13.7" stroke-dashoffset="1" fill="none"/>
<path d="M167 1914H396.3" stroke="#3a3a3a" stroke-width="1.1" fill="none"/>
<path d="M178 1908.7v10.6M184.5 1908.7v10.6M195.75 1908.7v10.6M202 1908.7v10.6M205 1908.7v10.6M210.75 1908.7v10.6M236.25 1908.7v10.6M268.25 1908.7v10.6M286.25 1908.7v10.6M294.25 1908.7v10.6M308.75 1908.7v10.6M311.25 1908.7v10.6M323.75 1908.7v10.6M328.25 1908.7v10.6M339.5 1908.7v10.6M345.75 1908.7v10.6M348 1908.7v10.6M350 1908.7v10.6M352.5 1908.7v10.6M354.5 1908.7v10.6M358.25 1908.7v10.6M360 1908.7v10.6M361.75 1908.7v10.6M368.75 1908.7v10.6M370.5 1908.7v10.6M372.5 1908.7v10.6M374.25 1908.7v10.6" stroke="#000" stroke-width="0.9" fill="none" opacity="0.8"/>
<rect x="377.05" y="1908.7" width="8.59" height="10.6" fill="#0a0a0a"/>
<path d="M177.5 1907.3L184 1907.8L196.2 1914L211.2 1920L270.8 1948.2L350 1985.4L358.6 1988L362.3 1988.3L368.7 1990.5L372.6 1990.7L375.4 1990L377.5 1989L378.4 1989.5L379.7 1985.4L381.2 1977.2L382.1 1975.2L382.8 1965L383.7 1949.7L384.7 1934.4L385.5 1918.1" stroke="#78c41e" stroke-width="1.15" fill="none" stroke-linejoin="round"/>
<text x="159.3" y="1819.5" font-size="24" text-anchor="end" color="#4d4d4d">1.0</text>
<text x="159.3" y="1870.85" font-size="24" text-anchor="end" color="#4d4d4d">0.5</text>
<text x="159.3" y="1922.2" font-size="24" text-anchor="end" color="#4d4d4d">0.0</text>
<text x="159.3" y="1973.2" font-size="24" text-anchor="end" color="#4d4d4d">−0.5</text>
<text x="159.3" y="2024.2" font-size="24" text-anchor="end" color="#4d4d4d">−1.0</text>
<text x="177.2" y="2050.5" font-size="24" text-anchor="middle" color="#4d4d4d">0</text>
<text x="231.5" y="2050.5" font-size="24" text-anchor="middle" color="#4d4d4d">3000</text>
<text x="287.5" y="2050.5" font-size="24" text-anchor="middle" color="#4d4d4d">6000</text>
<text x="343.5" y="2050.5" font-size="24" text-anchor="middle" color="#4d4d4d">9000</text>
<text transform="translate(95.8 1913.95) rotate(-90)" font-size="24" text-anchor="middle" textLength="182.5" lengthAdjust="spacing">enrichment score</text>
<text x="255.8" y="2080" font-size="24" textLength="45.6" lengthAdjust="spacing">rank</text>
<text x="186.2" y="1793.8" font-size="32" textLength="181" lengthAdjust="spacing">MITF targets</text>
<path d="M540 1811.3H769.5M540 1862.65H769.5M540 1914H769.5M540 1965H769.5M540 2016H769.5M550.5 1801.8V2026M606.5 1801.8V2026M662.5 1801.8V2026M718.5 1801.8V2026" stroke="#f3f3f3" stroke-width="1" fill="none"/>
<path d="M540 1811.3h-2.2M540 1862.65h-2.2M540 1914h-2.2M540 1965h-2.2M540 2016h-2.2M550.5 2026v2.2M606.5 2026v2.2M662.5 2026v2.2M718.5 2026v2.2" stroke="#555" stroke-width="1" fill="none"/>
<path d="M540 2009.37H769.5" stroke="#f0706a" stroke-width="1.15" stroke-dasharray="13.7 13.7" stroke-dashoffset="1" fill="none"/>
<path d="M540 1914H769.5" stroke="#3a3a3a" stroke-width="1.1" fill="none"/>
<path d="M568.75 1908.7v10.6M666.75 1908.7v10.6M667.5 1908.7v10.6M712.5 1908.7v10.6M747.5 1908.7v10.6M749.5 1908.7v10.6M751.25 1908.7v10.6M752.5 1908.7v10.6" stroke="#000" stroke-width="0.9" fill="none" opacity="0.8"/>
<rect x="753.78" y="1908.7" width="5.41" height="10.6" fill="#0a0a0a"/>
<path d="M550.5 1914L568.2 1921.7L568.5 1922.7L643.8 1959.4L712.9 1993L746.5 2008.3L749.3 2009.4L751.2 2008.3L752.1 2008.9L753.2 2007.3L754 2005.8L754.9 2001.7L755.8 1995.6L756.8 1985.4L757.3 1975.2L757.9 1959.9L758.3 1944.6L758.6 1922.2" stroke="#78c41e" stroke-width="1.15" fill="none" stroke-linejoin="round"/>
<text x="531.8" y="1819.5" font-size="24" text-anchor="end" color="#4d4d4d">1.0</text>
<text x="531.8" y="1870.85" font-size="24" text-anchor="end" color="#4d4d4d">0.5</text>
<text x="531.8" y="1922.2" font-size="24" text-anchor="end" color="#4d4d4d">0.0</text>
<text x="531.8" y="1973.2" font-size="24" text-anchor="end" color="#4d4d4d">−0.5</text>
<text x="531.8" y="2024.2" font-size="24" text-anchor="end" color="#4d4d4d">−1.0</text>
<text x="550.2" y="2050.5" font-size="24" text-anchor="middle" color="#4d4d4d">0</text>
<text x="604.1" y="2050.5" font-size="24" text-anchor="middle" color="#4d4d4d">3000</text>
<text x="660.1" y="2050.5" font-size="24" text-anchor="middle" color="#4d4d4d">6000</text>
<text x="716.1" y="2050.5" font-size="24" text-anchor="middle" color="#4d4d4d">9000</text>
<text transform="translate(468.8 1913.95) rotate(-90)" font-size="24" text-anchor="middle" textLength="182.5" lengthAdjust="spacing">enrichment score</text>
<text x="628.8" y="2080" font-size="24" textLength="45.6" lengthAdjust="spacing">rank</text>
<text x="565.4" y="1793.8" font-size="32" textLength="169" lengthAdjust="spacing">Proliferative</text>
<path d="M913.8 1810.8H1142.5M913.8 1862.15H1142.5M913.8 1913.5H1142.5M913.8 1964.25H1142.5M913.8 2015H1142.5M924.3 1801.8V2026M980 1801.8V2026M1035.7 1801.8V2026M1091.4 1801.8V2026" stroke="#f3f3f3" stroke-width="1" fill="none"/>
<path d="M913.8 1810.8h-2.2M913.8 1862.15h-2.2M913.8 1913.5h-2.2M913.8 1964.25h-2.2M913.8 2015h-2.2M924.3 2026v2.2M980 2026v2.2M1035.7 2026v2.2M1091.4 2026v2.2" stroke="#555" stroke-width="1" fill="none"/>
<path d="M913.8 1817.48H1142.5" stroke="#f0706a" stroke-width="1.15" stroke-dasharray="13.7 13.7" stroke-dashoffset="1" fill="none"/>
<path d="M913.8 1913.5H1142.5" stroke="#b03030" stroke-width="1.15" stroke-dasharray="13.7 13.7" stroke-dashoffset="1" fill="none"/>
<path d="M913.8 1913.5H1142.5" stroke="#3a3a3a" stroke-width="1.1" fill="none"/>
<path d="M942.87 1908.2v10.6M946.58 1908.2v10.6M952.15 1908.2v10.6M966.07 1908.2v10.6M976.29 1908.2v10.6M1078.4 1908.2v10.6" stroke="#000" stroke-width="0.9" fill="none" opacity="0.8"/>
<rect x="924.3" y="1908.2" width="8.17" height="10.6" fill="#0a0a0a"/>
<path d="M924.3 1913.5L925.2 1898.1L926.2 1882.7L928 1851.9L929.9 1831.3L931.4 1821.1L932.7 1817.5L942.9 1822.1L955.9 1826.2L980 1837.5L1131.1 1913.5" stroke="#78c41e" stroke-width="1.15" fill="none" stroke-linejoin="round"/>
<text x="905" y="1819" font-size="24" text-anchor="end" color="#4d4d4d">1.0</text>
<text x="905" y="1870.35" font-size="24" text-anchor="end" color="#4d4d4d">0.5</text>
<text x="905" y="1921.7" font-size="24" text-anchor="end" color="#4d4d4d">0.0</text>
<text x="905" y="1972.45" font-size="24" text-anchor="end" color="#4d4d4d">−0.5</text>
<text x="905" y="2023.2" font-size="24" text-anchor="end" color="#4d4d4d">−1.0</text>
<text x="924" y="2050.5" font-size="24" text-anchor="middle" color="#4d4d4d">0</text>
<text x="979" y="2050.5" font-size="24" text-anchor="middle" color="#4d4d4d">3000</text>
<text x="1034.7" y="2050.5" font-size="24" text-anchor="middle" color="#4d4d4d">6000</text>
<text x="1090.4" y="2050.5" font-size="24" text-anchor="middle" color="#4d4d4d">9000</text>
<text transform="translate(842 1913.2) rotate(-90)" font-size="24" text-anchor="middle" textLength="182.5" lengthAdjust="spacing">enrichment score</text>
<text x="1002.8" y="2080" font-size="24" textLength="45.6" lengthAdjust="spacing">rank</text>
<text x="970" y="1793.8" font-size="32" textLength="117.2" lengthAdjust="spacing">Invasive</text>
<path d="M1284.5 1813.8H1513M1284.5 1863.8H1513M1284.5 1913.8H1513M1284.5 1964.05H1513M1284.5 2014.3H1513M1295.5 1801.8V2026M1350.8 1801.8V2026M1406.1 1801.8V2026M1461.4 1801.8V2026" stroke="#f3f3f3" stroke-width="1" fill="none"/>
<path d="M1284.5 1813.8h-2.2M1284.5 1863.8h-2.2M1284.5 1913.8h-2.2M1284.5 1964.05h-2.2M1284.5 2014.3h-2.2M1295.5 2026v2.2M1350.8 2026v2.2M1406.1 2026v2.2M1461.4 2026v2.2" stroke="#555" stroke-width="1" fill="none"/>
<path d="M1284.5 1846.8H1513" stroke="#f0706a" stroke-width="1.15" stroke-dasharray="13.7 13.7" stroke-dashoffset="1" fill="none"/>
<path d="M1284.5 1920.33H1513" stroke="#f0706a" stroke-width="1.15" stroke-dasharray="13.7 13.7" stroke-dashoffset="1" fill="none"/>
<path d="M1284.5 1913.8H1513" stroke="#3a3a3a" stroke-width="1.1" fill="none"/>
<path d="M1295.75 1908.5v10.6M1296.75 1908.5v10.6M1297.75 1908.5v10.6M1298.75 1908.5v10.6M1300 1908.5v10.6M1302.51 1908.5v10.6M1306.26 1908.5v10.6M1308.01 1908.5v10.6M1310.01 1908.5v10.6M1312.01 1908.5v10.6M1314.27 1908.5v10.6M1316.77 1908.5v10.6M1318.27 1908.5v10.6M1320.02 1908.5v10.6M1321.77 1908.5v10.6M1329.78 1908.5v10.6M1330.28 1908.5v10.6M1336.79 1908.5v10.6M1348.8 1908.5v10.6M1355.55 1908.5v10.6M1359.56 1908.5v10.6M1368.07 1908.5v10.6M1371.32 1908.5v10.6M1373.82 1908.5v10.6M1389.59 1908.5v10.6M1390.84 1908.5v10.6M1395.59 1908.5v10.6M1408.85 1908.5v10.6M1411.35 1908.5v10.6M1416.36 1908.5v10.6M1419.61 1908.5v10.6M1425.62 1908.5v10.6M1426.12 1908.5v10.6M1427.62 1908.5v10.6M1429.62 1908.5v10.6M1448.14 1908.5v10.6M1452.64 1908.5v10.6M1456.4 1908.5v10.6M1461.4 1908.5v10.6M1464.4 1908.5v10.6M1472.66 1908.5v10.6M1478.17 1908.5v10.6M1481.92 1908.5v10.6M1493.18 1908.5v10.6M1494.93 1908.5v10.6M1495.43 1908.5v10.6M1498.43 1908.5v10.6M1502.19 1908.5v10.6" stroke="#000" stroke-width="0.9" fill="none" opacity="0.8"/>
<path d="M1295.5 1913.8L1296.1 1898.8L1297 1883.8L1298.3 1868.8L1299.6 1858.8L1301 1850.8L1303.2 1851.3L1304.7 1852.8L1305.8 1850.8L1308.4 1849.8L1309.5 1848.3L1312.1 1848.8L1313.9 1847.8L1316.7 1848.3L1319.5 1847L1323.2 1847.8L1328.7 1850.8L1330.5 1849.8L1332.4 1850.8L1350.8 1858.3L1428.2 1893.8L1474.3 1913.8L1492.7 1920.3L1494.6 1918.8L1495.5 1915.8L1498.3 1916.8L1500.1 1915.8" stroke="#78c41e" stroke-width="1.15" fill="none" stroke-linejoin="round"/>
<text x="1279.3" y="1822" font-size="24" text-anchor="end" color="#4d4d4d">1.0</text>
<text x="1279.3" y="1872" font-size="24" text-anchor="end" color="#4d4d4d">0.5</text>
<text x="1279.3" y="1922" font-size="24" text-anchor="end" color="#4d4d4d">0.0</text>
<text x="1279.3" y="1972.25" font-size="24" text-anchor="end" color="#4d4d4d">−0.5</text>
<text x="1279.3" y="2022.5" font-size="24" text-anchor="end" color="#4d4d4d">−1.0</text>
<text x="1295.2" y="2048" font-size="24" text-anchor="middle" color="#4d4d4d">0</text>
<text x="1350.4" y="2048" font-size="24" text-anchor="middle" color="#4d4d4d">3000</text>
<text x="1405.7" y="2048" font-size="24" text-anchor="middle" color="#4d4d4d">6000</text>
<text x="1461" y="2048" font-size="24" text-anchor="middle" color="#4d4d4d">9000</text>
<text transform="translate(1218 1914.35) rotate(-90)" font-size="24" text-anchor="middle" textLength="182.5" lengthAdjust="spacing">enrichment score</text>
<text x="1371.5" y="2079.3" font-size="24" textLength="45.6" lengthAdjust="spacing">rank</text>
<text x="1289" y="1793.8" font-size="32" textLength="219.5" lengthAdjust="spacing">NF-κB-HINATA</text>
<path d="M1660.5 1811.3H1889.5M1660.5 1862.65H1889.5M1660.5 1914H1889.5M1660.5 1964.75H1889.5M1660.5 2015.5H1889.5M1671.3 1801.8V2026M1727.1 1801.8V2026M1782.9 1801.8V2026M1838.7 1801.8V2026" stroke="#f3f3f3" stroke-width="1" fill="none"/>
<path d="M1660.5 1811.3h-2.2M1660.5 1862.65h-2.2M1660.5 1914h-2.2M1660.5 1964.75h-2.2M1660.5 2015.5h-2.2M1671.3 2026v2.2M1727.1 2026v2.2M1782.9 2026v2.2M1838.7 2026v2.2" stroke="#555" stroke-width="1" fill="none"/>
<path d="M1660.5 1851.35H1889.5" stroke="#f0706a" stroke-width="1.15" stroke-dasharray="13.7 13.7" stroke-dashoffset="1" fill="none"/>
<path d="M1660.5 1917.05H1889.5" stroke="#f0706a" stroke-width="1.15" stroke-dasharray="13.7 13.7" stroke-dashoffset="1" fill="none"/>
<path d="M1660.5 1914H1889.5" stroke="#3a3a3a" stroke-width="1.1" fill="none"/>
<path d="M1672.23 1908.7v10.6M1677.44 1908.7v10.6M1678.55 1908.7v10.6M1681.9 1908.7v10.6M1688.78 1908.7v10.6M1695.29 1908.7v10.6M1697.34 1908.7v10.6M1698.27 1908.7v10.6M1705.9 1908.7v10.6M1712.41 1908.7v10.6M1724.5 1908.7v10.6M1737.52 1908.7v10.6M1749.61 1908.7v10.6M1798.9 1908.7v10.6M1800.76 1908.7v10.6M1856.37 1908.7v10.6M1856.74 1908.7v10.6M1867.72 1908.7v10.6" stroke="#000" stroke-width="0.9" fill="none" opacity="0.8"/>
<path d="M1671.3 1914L1672 1914L1672.2 1883.2L1677.3 1885.8L1677.4 1872.9L1678.4 1873.4L1678.6 1862.7L1681.7 1864.2L1681.9 1857L1688.6 1860.6L1688.8 1854.9L1695.1 1858L1695.3 1853.9L1697.2 1854.9L1697.3 1851.4L1699.8 1852.4L1699.9 1851.4L1705.7 1854.4L1705.9 1851.9L1712.2 1854.9L1712.4 1851.9L1724.3 1857.5L1724.5 1856L1737.3 1862.1L1737.5 1860.6L1749.4 1866.2L1749.6 1865.2L1798.7 1889.4L1798.9 1888.8L1801.5 1889.9L1850.8 1914L1856.4 1917L1856.6 1909.9L1867.5 1915L1867.7 1909.4L1877.8 1914" stroke="#78c41e" stroke-width="1.15" fill="none" stroke-linejoin="round"/>
<text x="1654.8" y="1819.5" font-size="24" text-anchor="end" color="#4d4d4d">1.0</text>
<text x="1654.8" y="1870.85" font-size="24" text-anchor="end" color="#4d4d4d">0.5</text>
<text x="1654.8" y="1922.2" font-size="24" text-anchor="end" color="#4d4d4d">0.0</text>
<text x="1654.8" y="1972.95" font-size="24" text-anchor="end" color="#4d4d4d">−0.5</text>
<text x="1654.8" y="2023.7" font-size="24" text-anchor="end" color="#4d4d4d">−1.0</text>
<text x="1671" y="2053.8" font-size="24" text-anchor="middle" color="#4d4d4d">0</text>
<text x="1727.85" y="2053.8" font-size="24" text-anchor="middle" color="#4d4d4d">3000</text>
<text x="1783.65" y="2053.8" font-size="24" text-anchor="middle" color="#4d4d4d">6000</text>
<text x="1839.45" y="2053.8" font-size="24" text-anchor="middle" color="#4d4d4d">9000</text>
<text transform="translate(1592.5 1913.7) rotate(-90)" font-size="24" text-anchor="middle" textLength="182.5" lengthAdjust="spacing">enrichment score</text>
<text x="1749" y="2080" font-size="24" textLength="45.6" lengthAdjust="spacing">rank</text>
<text x="1687.8" y="1793.8" font-size="32" textLength="174" lengthAdjust="spacing">NF-κB-TIAN</text>
<path d="M167 2230.8H396.3M167 2282.05H396.3M167 2333.3H396.3M167 2384.15H396.3M167 2435H396.3M177.5 2220.8V2446M233.5 2220.8V2446M289.5 2220.8V2446M345.5 2220.8V2446" stroke="#f3f3f3" stroke-width="1" fill="none"/>
<path d="M167 2230.8h-2.2M167 2282.05h-2.2M167 2333.3h-2.2M167 2384.15h-2.2M167 2435h-2.2M177.5 2446v2.2M233.5 2446v2.2M289.5 2446v2.2M345.5 2446v2.2" stroke="#555" stroke-width="1" fill="none"/>
<path d="M167 2319.46H396.3" stroke="#f0706a" stroke-width="1.15" stroke-dasharray="13.7 13.7" stroke-dashoffset="1" fill="none"/>
<path d="M167 2397.88H396.3" stroke="#f0706a" stroke-width="1.15" stroke-dasharray="13.7 13.7" stroke-dashoffset="1" fill="none"/>
<path d="M167 2333.3H396.3" stroke="#3a3a3a" stroke-width="1.1" fill="none"/>
<path d="M178.75 2328v10.6M182.5 2328v10.6M183.75 2328v10.6M186.25 2328v10.6M188 2328v10.6M218.75 2328v10.6M230.5 2328v10.6M235 2328v10.6M254.5 2328v10.6M269.5 2328v10.6M275 2328v10.6M278 2328v10.6M294.25 2328v10.6M312.5 2328v10.6M331.25 2328v10.6M335 2328v10.6M337.5 2328v10.6M339.5 2328v10.6M342.5 2328v10.6M345 2328v10.6M354.5 2328v10.6M356.25 2328v10.6M359.5 2328v10.6M362.5 2328v10.6M365.5 2328v10.6M367.5 2328v10.6M369.5 2328v10.6M371.25 2328v10.6M372.25 2328v10.6M373.25 2328v10.6M374.25 2328v10.6M375.25 2328v10.6M376.25 2328v10.6M377.25 2328v10.6M378.25 2328v10.6M379.25 2328v10.6" stroke="#000" stroke-width="0.9" fill="none" opacity="0.8"/>
<rect x="380.03" y="2328" width="5.6" height="10.6" fill="#0a0a0a"/>
<path d="M177.5 2326.6L182.2 2328.2L182.5 2324.1L184 2323.1L185 2323.6L188.7 2319.5L217.6 2333.3L332.4 2386.2L345.5 2390.8L354.8 2394.8L358.6 2395.3L364.2 2397.9L367.9 2397.4L370.7 2396.4L373.5 2392.3L375.4 2390.3L379.1 2382.1L381.9 2374L383.8 2358.7L385.1 2343.5L385.6 2336.4" stroke="#78c41e" stroke-width="1.15" fill="none" stroke-linejoin="round"/>
<text x="159.3" y="2239" font-size="24" text-anchor="end" color="#4d4d4d">1.0</text>
<text x="159.3" y="2290.25" font-size="24" text-anchor="end" color="#4d4d4d">0.5</text>
<text x="159.3" y="2341.5" font-size="24" text-anchor="end" color="#4d4d4d">0.0</text>
<text x="159.3" y="2392.35" font-size="24" text-anchor="end" color="#4d4d4d">−0.5</text>
<text x="159.3" y="2443.2" font-size="24" text-anchor="end" color="#4d4d4d">−1.0</text>
<text x="177.2" y="2470" font-size="24" text-anchor="middle" color="#4d4d4d">0</text>
<text x="230.3" y="2470" font-size="24" text-anchor="middle" color="#4d4d4d">3000</text>
<text x="286.3" y="2470" font-size="24" text-anchor="middle" color="#4d4d4d">6000</text>
<text x="342.3" y="2470" font-size="24" text-anchor="middle" color="#4d4d4d">9000</text>
<text transform="translate(95.8 2333.2) rotate(-90)" font-size="24" text-anchor="middle" textLength="182.5" lengthAdjust="spacing">enrichment score</text>
<text x="255.8" y="2499" font-size="24" textLength="45.6" lengthAdjust="spacing">rank</text>
<text x="186.2" y="2213.8" font-size="32" textLength="181" lengthAdjust="spacing">MITF targets</text>
<path d="M540 2230.8H769.5M540 2282.05H769.5M540 2333.3H769.5M540 2384.15H769.5M540 2435H769.5M550.5 2220.8V2446M606.5 2220.8V2446M662.5 2220.8V2446M718.5 2220.8V2446" stroke="#f3f3f3" stroke-width="1" fill="none"/>
<path d="M540 2230.8h-2.2M540 2282.05h-2.2M540 2333.3h-2.2M540 2384.15h-2.2M540 2435h-2.2M550.5 2446v2.2M606.5 2446v2.2M662.5 2446v2.2M718.5 2446v2.2" stroke="#555" stroke-width="1" fill="none"/>
<path d="M540 2324.08H769.5" stroke="#f0706a" stroke-width="1.15" stroke-dasharray="13.7 13.7" stroke-dashoffset="1" fill="none"/>
<path d="M540 2408.05H769.5" stroke="#f0706a" stroke-width="1.15" stroke-dasharray="13.7 13.7" stroke-dashoffset="1" fill="none"/>
<path d="M540 2333.3H769.5" stroke="#3a3a3a" stroke-width="1.1" fill="none"/>
<path d="M556 2328v10.6M556.5 2328v10.6M571.75 2328v10.6M623.25 2328v10.6M648.75 2328v10.6M656.75 2328v10.6M690.75 2328v10.6M703.25 2328v10.6M705 2328v10.6M710.75 2328v10.6M718 2328v10.6M718.5 2328v10.6M739.5 2328v10.6M742 2328v10.6M744.5 2328v10.6M745.5 2328v10.6M746.5 2328v10.6M747.5 2328v10.6M748.5 2328v10.6M749.5 2328v10.6M752.5 2328v10.6M753.5 2328v10.6M754.5 2328v10.6" stroke="#000" stroke-width="0.9" fill="none" opacity="0.8"/>
<rect x="754.9" y="2328" width="4.29" height="10.6" fill="#0a0a0a"/>
<path d="M550.5 2333.3L555.2 2336.4L556.1 2324.1L577.6 2333.3L623.3 2354.7L703.6 2393.3L704.5 2392.8L718.5 2398.4L719.4 2397.9L739 2407.5L742.8 2408L745.6 2403.5L748.4 2399.4L750.2 2400.4L752.1 2399.9L754 2396.4L755.8 2391.3L756.8 2384.2L757.3 2374L758.1 2353.6L758.6 2338.4" stroke="#78c41e" stroke-width="1.15" fill="none" stroke-linejoin="round"/>
<text x="531.8" y="2239" font-size="24" text-anchor="end" color="#4d4d4d">1.0</text>
<text x="531.8" y="2290.25" font-size="24" text-anchor="end" color="#4d4d4d">0.5</text>
<text x="531.8" y="2341.5" font-size="24" text-anchor="end" color="#4d4d4d">0.0</text>
<text x="531.8" y="2392.35" font-size="24" text-anchor="end" color="#4d4d4d">−0.5</text>
<text x="531.8" y="2443.2" font-size="24" text-anchor="end" color="#4d4d4d">−1.0</text>
<text x="550.2" y="2470" font-size="24" text-anchor="middle" color="#4d4d4d">0</text>
<text x="605" y="2470" font-size="24" text-anchor="middle" color="#4d4d4d">3000</text>
<text x="661" y="2470" font-size="24" text-anchor="middle" color="#4d4d4d">6000</text>
<text x="717" y="2470" font-size="24" text-anchor="middle" color="#4d4d4d">9000</text>
<text transform="translate(468.8 2333.2) rotate(-90)" font-size="24" text-anchor="middle" textLength="182.5" lengthAdjust="spacing">enrichment score</text>
<text x="622" y="2499" font-size="24" textLength="45.6" lengthAdjust="spacing">rank</text>
<text x="565.4" y="2213.8" font-size="32" textLength="169" lengthAdjust="spacing">Proliferative</text>
<path d="M913.8 2230.8H1142.5M913.8 2282.05H1142.5M913.8 2333.3H1142.5M913.8 2384.15H1142.5M913.8 2435H1142.5M924.3 2220.8V2446M980 2220.8V2446M1035.7 2220.8V2446M1091.4 2220.8V2446" stroke="#f3f3f3" stroke-width="1" fill="none"/>
<path d="M913.8 2230.8h-2.2M913.8 2282.05h-2.2M913.8 2333.3h-2.2M913.8 2384.15h-2.2M913.8 2435h-2.2M924.3 2446v2.2M980 2446v2.2M1035.7 2446v2.2M1091.4 2446v2.2" stroke="#555" stroke-width="1" fill="none"/>
<path d="M913.8 2242.08H1142.5" stroke="#f0706a" stroke-width="1.15" stroke-dasharray="13.7 13.7" stroke-dashoffset="1" fill="none"/>
<path d="M913.8 2333.3H1142.5" stroke="#b03030" stroke-width="1.15" stroke-dasharray="13.7 13.7" stroke-dashoffset="1" fill="none"/>
<path d="M913.8 2333.3H1142.5" stroke="#3a3a3a" stroke-width="1.1" fill="none"/>
<path d="M932.65 2328v10.6M933.58 2328v10.6M934.7 2328v10.6M935.81 2328v10.6M936.93 2328v10.6M942.87 2328v10.6M947.51 2328v10.6M966.07 2328v10.6M1031.06 2328v10.6M1040.34 2328v10.6M1041.27 2328v10.6M1043.13 2328v10.6M1070.05 2328v10.6M1109.97 2328v10.6M1111.82 2328v10.6M1124.82 2328v10.6" stroke="#000" stroke-width="0.9" fill="none" opacity="0.8"/>
<rect x="924.3" y="2328" width="7.43" height="10.6" fill="#0a0a0a"/>
<path d="M924.3 2333.3L925.4 2302.6L927.1 2276.9L928.9 2261.6L930.8 2251.3L932.1 2249.2L933.6 2245.2L937.3 2242.1L948.4 2245.2L967 2253.4L1110 2324.1L1112.8 2324.6L1131.3 2333.3" stroke="#78c41e" stroke-width="1.15" fill="none" stroke-linejoin="round"/>
<text x="905" y="2239" font-size="24" text-anchor="end" color="#4d4d4d">1.0</text>
<text x="905" y="2290.25" font-size="24" text-anchor="end" color="#4d4d4d">0.5</text>
<text x="905" y="2341.5" font-size="24" text-anchor="end" color="#4d4d4d">0.0</text>
<text x="905" y="2392.35" font-size="24" text-anchor="end" color="#4d4d4d">−0.5</text>
<text x="905" y="2443.2" font-size="24" text-anchor="end" color="#4d4d4d">−1.0</text>
<text x="924" y="2470" font-size="24" text-anchor="middle" color="#4d4d4d">0</text>
<text x="979.4" y="2470" font-size="24" text-anchor="middle" color="#4d4d4d">3000</text>
<text x="1035.1" y="2470" font-size="24" text-anchor="middle" color="#4d4d4d">6000</text>
<text x="1090.8" y="2470" font-size="24" text-anchor="middle" color="#4d4d4d">9000</text>
<text transform="translate(842 2333.2) rotate(-90)" font-size="24" text-anchor="middle" textLength="182.5" lengthAdjust="spacing">enrichment score</text>
<text x="1002.8" y="2499" font-size="24" textLength="45.6" lengthAdjust="spacing">rank</text>
<text x="970" y="2213.8" font-size="32" textLength="117.2" lengthAdjust="spacing">Invasive</text>
<path d="M1280.5 2225H1516.3M1280.5 2277.5H1516.3M1280.5 2330H1516.3M1280.5 2382.5H1516.3M1280.5 2435H1516.3M1291.8 2217.5V2446M1349.3 2217.5V2446M1406.8 2217.5V2446M1464.3 2217.5V2446" stroke="#f3f3f3" stroke-width="1" fill="none"/>
<path d="M1280.5 2225h-2.2M1280.5 2277.5h-2.2M1280.5 2330h-2.2M1280.5 2382.5h-2.2M1280.5 2435h-2.2M1291.8 2446v2.2M1349.3 2446v2.2M1406.8 2446v2.2M1464.3 2446v2.2" stroke="#555" stroke-width="1" fill="none"/>
<path d="M1280.5 2248.62H1516.3" stroke="#f0706a" stroke-width="1.15" stroke-dasharray="13.7 13.7" stroke-dashoffset="1" fill="none"/>
<path d="M1280.5 2330H1516.3" stroke="#3a3a3a" stroke-width="1.1" fill="none"/>
<path d="M1292.05 2324.7v10.6M1293.05 2324.7v10.6M1294.05 2324.7v10.6M1295.05 2324.7v10.6M1296.55 2324.7v10.6M1297.55 2324.7v10.6M1299.05 2324.7v10.6M1300.05 2324.7v10.6M1301.55 2324.7v10.6M1302.55 2324.7v10.6M1303.55 2324.7v10.6M1304.55 2324.7v10.6M1305.55 2324.7v10.6M1306.55 2324.7v10.6M1307.55 2324.7v10.6M1308.55 2324.7v10.6M1309.55 2324.7v10.6M1312.55 2324.7v10.6M1315.05 2324.7v10.6M1322.55 2324.7v10.6M1330.05 2324.7v10.6M1332.05 2324.7v10.6M1333.8 2324.7v10.6M1335.8 2324.7v10.6M1337.55 2324.7v10.6M1356.3 2324.7v10.6M1366.8 2324.7v10.6M1371.3 2324.7v10.6M1374.55 2324.7v10.6M1376.3 2324.7v10.6M1377.55 2324.7v10.6M1389.55 2324.7v10.6M1401.8 2324.7v10.6M1406.3 2324.7v10.6M1411.8 2324.7v10.6M1423.3 2324.7v10.6M1429.55 2324.7v10.6M1436.3 2324.7v10.6M1439.3 2324.7v10.6M1445.05 2324.7v10.6M1450.05 2324.7v10.6M1483.8 2324.7v10.6M1493.8 2324.7v10.6M1496.3 2324.7v10.6M1500.05 2324.7v10.6" stroke="#000" stroke-width="0.9" fill="none" opacity="0.8"/>
<path d="M1291.8 2330L1292.2 2309L1293 2285.9L1294.7 2277.5L1295.6 2269.6L1297.5 2270.2L1299.5 2267L1301.4 2264.9L1303.3 2259.7L1306.2 2254.4L1309 2248.6L1312.9 2249.2L1316.7 2248.6L1328.2 2254.4L1332 2254.9L1337.8 2255.4L1378 2274.3L1505.5 2330" stroke="#78c41e" stroke-width="1.15" fill="none" stroke-linejoin="round"/>
<text x="1274.3" y="2233.2" font-size="24" text-anchor="end" color="#4d4d4d">1.0</text>
<text x="1274.3" y="2285.7" font-size="24" text-anchor="end" color="#4d4d4d">0.5</text>
<text x="1274.3" y="2338.2" font-size="24" text-anchor="end" color="#4d4d4d">0.0</text>
<text x="1274.3" y="2390.7" font-size="24" text-anchor="end" color="#4d4d4d">−0.5</text>
<text x="1274.3" y="2443.2" font-size="24" text-anchor="end" color="#4d4d4d">−1.0</text>
<text x="1294.4" y="2467" font-size="24" text-anchor="middle" color="#4d4d4d">0</text>
<text x="1348.1" y="2467" font-size="24" text-anchor="middle" color="#4d4d4d">3000</text>
<text x="1407.4" y="2467" font-size="24" text-anchor="middle" color="#4d4d4d">6000</text>
<text x="1466.7" y="2467" font-size="24" text-anchor="middle" color="#4d4d4d">9000</text>
<text transform="translate(1215 2330.3) rotate(-90)" font-size="24" text-anchor="middle" textLength="182.5" lengthAdjust="spacing">enrichment score</text>
<text x="1368.3" y="2498" font-size="24" textLength="45.6" lengthAdjust="spacing">rank</text>
<text x="1289" y="2213.8" font-size="32" textLength="219.5" lengthAdjust="spacing">NF-κB-HINATA</text>
<path d="M1655 2230.8H1883.8M1655 2281.55H1883.8M1655 2332.3H1883.8M1655 2382.65H1883.8M1655 2433H1883.8M1665.8 2220.8V2444M1721.5 2220.8V2444M1777.2 2220.8V2444M1832.9 2220.8V2444" stroke="#f3f3f3" stroke-width="1" fill="none"/>
<path d="M1655 2230.8h-2.2M1655 2281.55h-2.2M1655 2332.3h-2.2M1655 2382.65h-2.2M1655 2433h-2.2M1665.8 2444v2.2M1721.5 2444v2.2M1777.2 2444v2.2M1832.9 2444v2.2" stroke="#555" stroke-width="1" fill="none"/>
<path d="M1655 2243.49H1883.8" stroke="#f0706a" stroke-width="1.15" stroke-dasharray="13.7 13.7" stroke-dashoffset="1" fill="none"/>
<path d="M1655 2332.3H1883.8" stroke="#b03030" stroke-width="1.15" stroke-dasharray="13.7 13.7" stroke-dashoffset="1" fill="none"/>
<path d="M1655 2332.3H1883.8" stroke="#3a3a3a" stroke-width="1.1" fill="none"/>
<path d="M1666.54 2327v10.6M1668.4 2327v10.6M1673.41 2327v10.6M1674.34 2327v10.6M1675.27 2327v10.6M1675.83 2327v10.6M1676.38 2327v10.6M1676.94 2327v10.6M1677.5 2327v10.6M1678.8 2327v10.6M1679.91 2327v10.6M1682.32 2327v10.6M1688.27 2327v10.6M1745.82 2327v10.6M1750.46 2327v10.6M1787.41 2327v10.6M1814.52 2327v10.6" stroke="#000" stroke-width="0.9" fill="none" opacity="0.8"/>
<path d="M1665.8 2332.3L1666.4 2332.3L1666.5 2307.9L1668.2 2309.5L1668.4 2293.2L1673.2 2295.8L1673.4 2287.6L1675.1 2288.7L1675.3 2281.6L1676.2 2282.1L1676.4 2275.5L1677.3 2276L1677.5 2268.4L1678.6 2269.4L1678.8 2259.2L1679.7 2259.7L1679.9 2251.1L1682.1 2252.1L1682.3 2243.5L1688.1 2246L1688.3 2243.5L1745.6 2271.9L1745.8 2270.9L1750.3 2272.9L1750.5 2272.4L1814.3 2303.9L1814.5 2303.4L1872.8 2332.3" stroke="#78c41e" stroke-width="1.15" fill="none" stroke-linejoin="round"/>
<text x="1650.5" y="2239" font-size="24" text-anchor="end" color="#4d4d4d">1.0</text>
<text x="1650.5" y="2289.75" font-size="24" text-anchor="end" color="#4d4d4d">0.5</text>
<text x="1650.5" y="2340.5" font-size="24" text-anchor="end" color="#4d4d4d">0.0</text>
<text x="1650.5" y="2390.85" font-size="24" text-anchor="end" color="#4d4d4d">−0.5</text>
<text x="1650.5" y="2441.2" font-size="24" text-anchor="end" color="#4d4d4d">−1.0</text>
<text x="1665.5" y="2463.8" font-size="24" text-anchor="middle" color="#4d4d4d">0</text>
<text x="1720.8" y="2463.8" font-size="24" text-anchor="middle" color="#4d4d4d">3000</text>
<text x="1776.5" y="2463.8" font-size="24" text-anchor="middle" color="#4d4d4d">6000</text>
<text x="1832.2" y="2463.8" font-size="24" text-anchor="middle" color="#4d4d4d">9000</text>
<text transform="translate(1594.3 2332.2) rotate(-90)" font-size="24" text-anchor="middle" textLength="182.5" lengthAdjust="spacing">enrichment score</text>
<text x="1739.5" y="2497.5" font-size="24" textLength="45.6" lengthAdjust="spacing">rank</text>
<text x="1682" y="2213.8" font-size="32" textLength="174" lengthAdjust="spacing">NF-κB-TIAN</text>
</svg>
</body>
</html>
